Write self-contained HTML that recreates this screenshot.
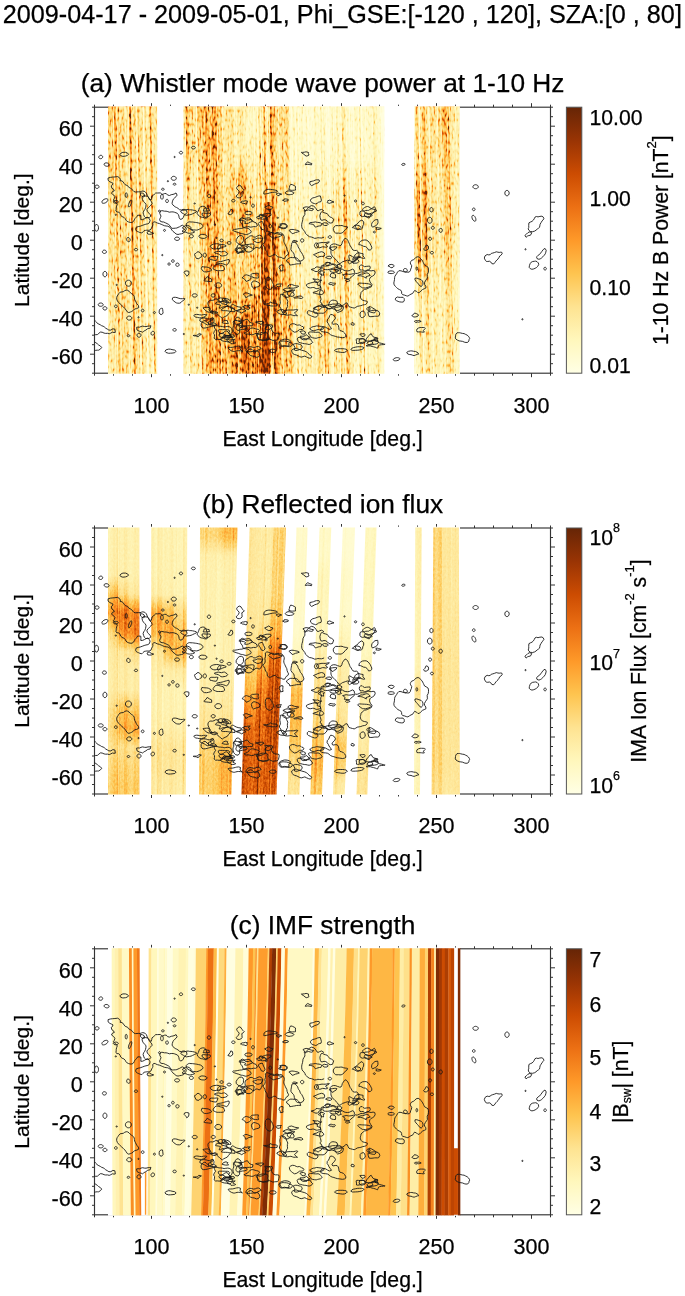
<!DOCTYPE html>
<html><head><meta charset="utf-8"><style>
html,body{margin:0;padding:0;background:#fff;}
svg{display:block;will-change:transform;}
text{font-family:"Liberation Sans", sans-serif;fill:#000;stroke:#000;stroke-width:0.25px;}
</style></head><body>
<svg width="685" height="1296" viewBox="0 0 685 1296">
<text x="2.8" y="22.6" font-size="25.2">2009-04-17 - 2009-05-01, Phi_GSE:[-120 , 120], SZA:[0 , 80]</text>
<defs><clipPath id="pbox"><rect x="94.5" y="0" width="456.0" height="266.0"/></clipPath><path id="ct" d="M108.1 70.8L110.3 70.2L112.5 69.9L114.1 69.8L116.0 69.6L117.7 69.4L119.4 70.5L120.4 72.0L120.2 73.7L121.0 73.4L122.9 74.4L124.1 76.2L125.2 77.5L127.7 78.5L128.6 80.0L130.3 80.9L131.6 81.6L132.7 83.1L133.9 84.3L135.4 84.8L137.0 84.7L138.5 84.6L140.0 84.7L141.4 84.2L142.8 83.8L144.8 84.3L146.4 85.9L147.2 88.0L148.2 89.9L149.5 91.6L151.1 92.7L151.7 91.0L152.0 89.0L153.5 88.0L154.5 86.8L155.7 85.8L157.6 85.8L160.3 85.7L161.3 86.5L162.8 87.2L164.4 86.4L166.2 86.3L167.5 87.8L169.5 88.3L171.2 87.5L173.0 87.2L175.0 86.5L176.0 85.7L177.1 87.9L176.2 89.3L174.7 90.6L173.6 91.6L172.9 92.9L172.3 94.7L172.1 96.3L172.8 97.7L174.1 98.8L175.2 99.7L176.6 100.3L178.1 101.2L179.5 102.5L181.3 102.8L183.0 102.2L184.8 102.3L186.5 103.3L187.0 105.4L185.5 107.0L184.2 108.0L183.3 110.2L182.2 111.7L180.3 112.2L179.2 110.6L178.9 108.8L178.3 107.3L177.3 106.1L174.7 105.1L173.1 104.7L171.2 104.7L169.3 105.0L167.8 104.4L166.1 104.0L164.5 104.0L161.8 103.4L160.1 104.4L159.8 106.4L161.0 108.9L160.4 110.5L159.6 112.3L160.3 114.1L162.0 114.7L163.7 114.8L165.4 115.6L167.1 116.4L168.7 117.3L170.0 118.6L170.9 120.2L172.1 121.2L173.9 121.1L175.4 121.0L176.9 120.8L178.0 120.2L179.5 119.6L180.8 118.8L182.3 118.0L183.8 118.8L185.0 120.2L186.1 120.7L186.1 122.4L184.8 124.2L183.4 125.9L181.4 126.6L179.5 126.9L178.0 127.3L176.1 126.8L174.9 125.7L172.9 124.1L171.9 122.9L171.1 121.7L169.9 120.1L167.8 119.0L166.1 118.8L164.4 118.5L162.8 117.8L161.2 117.1L159.5 116.4L157.6 115.9L156.0 115.3L155.3 114.8L154.0 114.6L152.7 115.6L152.9 117.5L152.6 118.7L151.7 120.1L151.0 122.1L149.1 123.1L146.8 123.0L145.5 123.2L144.1 123.5L142.9 124.7L141.8 125.8L139.8 125.3L138.5 124.7L137.5 124.3L136.5 123.8L135.6 122.2L136.2 120.1L138.3 119.4L140.2 119.0L142.7 118.1L144.2 117.5L145.9 117.0L147.9 116.6L149.4 115.6L150.1 113.1L149.3 111.6L147.9 110.0L146.0 110.6L144.4 111.6L142.6 112.4L140.8 112.5L140.9 110.6L140.8 108.2L137.7 108.0L136.8 109.5L135.9 110.4L134.9 111.4L134.3 112.7L133.5 114.2L132.0 115.2L130.1 115.2L128.4 114.7L127.1 114.1L126.0 113.0L125.2 111.4L123.9 110.1L122.1 109.4L120.7 108.2L120.0 106.3L118.8 104.9L117.0 104.8L115.9 103.8L116.2 102.0L116.2 100.9L116.6 98.9L117.3 97.1L116.5 95.8L114.9 94.7L113.4 92.9L114.3 91.5L114.9 89.5L113.6 87.7L111.5 86.2L112.5 84.3L114.3 83.7L113.5 82.0L111.9 81.0L111.2 78.7L112.4 77.8L113.0 76.1L111.5 75.3L109.9 74.6L108.1 73.1zM131.2 96.7L130.6 98.0L130.0 99.0L129.3 99.7L128.8 99.8L128.5 99.4L128.4 98.5L128.6 97.3L129.0 95.9L129.6 94.6L130.2 93.6L130.8 92.9L131.4 92.8L131.7 93.3L131.8 94.1L131.6 95.4zM127.2 87.9L127.2 88.8L126.9 89.6L126.6 90.1L126.2 90.3L125.8 90.1L125.5 89.6L125.3 88.8L125.2 87.9L125.3 87.0L125.5 86.3L125.8 85.7L126.2 85.6L126.6 85.7L126.9 86.3L127.2 87.0zM140.3 85.6L142.6 86.0L144.1 86.9L144.8 89.1L143.3 89.7L142.0 89.4L140.6 88.0zM144.5 88.4L145.6 88.8L147.4 89.1L148.5 90.0L149.0 91.5L149.7 92.8L151.4 94.3L152.2 96.4L150.8 98.0L149.6 99.2L148.3 100.6L146.9 102.2L147.3 104.2L148.7 105.8L150.1 107.3L150.8 108.9L149.3 110.4L147.8 110.5L145.7 110.5L144.3 109.2L143.6 107.4L143.1 105.6L143.7 103.9L144.8 102.4L145.5 100.6L145.9 98.9L146.0 97.1L144.8 95.5L143.4 94.1L142.4 92.3L142.1 90.4L143.1 88.7zM163.3 89.6L163.2 90.6L162.9 91.4L162.5 91.9L162.0 92.1L161.5 91.9L161.0 91.4L160.7 90.6L160.6 89.6L160.7 88.6L161.0 87.8L161.5 87.3L162.0 87.1L162.5 87.3L162.9 87.8L163.2 88.6zM168.4 93.8L168.3 94.4L168.0 95.0L167.5 95.3L167.0 95.5L166.5 95.3L166.1 95.0L165.8 94.4L165.7 93.8L165.8 93.1L166.1 92.6L166.5 92.2L167.0 92.1L167.5 92.2L168.0 92.6L168.3 93.1zM160.5 103.9L160.4 104.2L160.2 104.6L159.9 104.8L159.5 104.9L159.1 104.8L158.8 104.6L158.5 104.2L158.5 103.9L158.5 103.5L158.8 103.2L159.1 102.9L159.5 102.9L159.9 102.9L160.2 103.2L160.4 103.5zM165.5 123.2L165.4 123.6L165.2 123.9L164.9 124.1L164.5 124.2L164.1 124.1L163.8 123.9L163.6 123.6L163.5 123.2L163.6 122.8L163.8 122.5L164.1 122.2L164.5 122.2L164.9 122.2L165.2 122.5L165.4 122.8zM164.2 82.0L164.1 82.4L163.8 82.8L163.3 83.0L162.8 83.0L162.3 83.0L161.9 82.8L161.6 82.4L161.5 82.0L161.6 81.7L161.9 81.3L162.3 81.1L162.8 81.0L163.3 81.1L163.8 81.3L164.1 81.7zM128.5 47.1L127.5 48.2L125.5 48.9L122.9 49.2L120.7 48.5L119.9 47.1L120.9 46.0L122.9 45.1L125.5 45.1L127.6 45.9zM102.6 49.1L102.7 49.8L102.5 50.4L102.0 51.0L101.3 51.4L100.5 51.5L99.8 51.4L99.2 51.0L98.8 50.5L98.7 49.8L99.0 49.2L99.5 48.6L100.1 48.2L100.9 48.1L101.6 48.2L102.2 48.6zM109.1 57.8L108.8 58.4L108.1 58.8L107.3 59.1L106.3 59.0L105.4 58.7L104.6 58.2L104.2 57.6L104.1 56.9L104.4 56.3L105.0 55.9L105.9 55.7L106.9 55.7L107.8 56.0L108.5 56.5L109.0 57.1zM99.0 79.5L98.9 80.2L98.4 80.7L97.8 81.1L97.0 81.2L96.3 81.1L95.6 80.7L95.2 80.2L95.0 79.5L95.2 78.9L95.6 78.3L96.3 78.0L97.0 77.8L97.8 78.0L98.4 78.3L98.9 78.9zM107.8 92.1L108.0 92.9L107.6 93.7L106.9 94.6L105.8 95.4L104.7 95.9L103.5 96.1L102.6 96.0L102.0 95.5L101.9 94.7L102.2 93.8L102.9 93.0L104.0 92.2L105.2 91.7L106.3 91.5L107.2 91.6zM118.3 94.6L118.1 95.1L117.6 95.6L116.8 95.9L115.8 96.0L114.9 95.9L114.0 95.6L113.5 95.1L113.3 94.6L113.5 94.1L114.0 93.7L114.9 93.4L115.8 93.3L116.8 93.4L117.6 93.7L118.1 94.1zM98.5 120.6L98.4 121.9L97.9 123.0L97.3 123.8L96.5 124.0L95.7 123.8L95.1 123.0L94.7 121.9L94.5 120.6L94.7 119.4L95.1 118.3L95.7 117.5L96.5 117.3L97.3 117.5L97.9 118.3L98.4 119.4zM130.0 131.8L130.2 132.7L130.1 133.4L129.7 134.1L129.2 134.5L128.5 134.5L127.8 134.3L127.2 133.7L126.8 133.0L126.7 132.1L126.8 131.4L127.1 130.7L127.7 130.3L128.3 130.3L129.0 130.5L129.6 131.1zM176.3 71.1L176.1 71.9L175.5 72.6L174.7 73.0L173.7 73.1L172.8 73.0L172.0 72.6L171.4 71.9L171.2 71.1L171.4 70.4L172.0 69.7L172.8 69.3L173.7 69.1L174.7 69.3L175.5 69.7L176.1 70.4zM175.9 77.0L175.8 77.4L175.5 77.7L175.1 77.9L174.6 78.0L174.1 77.9L173.6 77.7L173.3 77.4L173.2 77.0L173.3 76.6L173.6 76.3L174.1 76.1L174.6 76.0L175.1 76.1L175.5 76.3L175.8 76.6zM167.3 74.0a0.6 0.6 0 1 0 1.2 0a0.6 0.6 0 1 0 -1.2 0zM182.6 45.4L182.5 46.0L182.1 46.4L181.6 46.7L181.0 46.8L180.3 46.7L179.8 46.4L179.4 46.0L179.3 45.4L179.4 44.9L179.8 44.5L180.3 44.2L181.0 44.1L181.6 44.2L182.1 44.5L182.5 44.9zM195.4 40.4L195.2 40.9L194.8 41.4L194.1 41.6L193.4 41.8L192.6 41.6L192.0 41.4L191.5 40.9L191.4 40.4L191.5 39.9L192.0 39.5L192.6 39.2L193.4 39.1L194.1 39.2L194.8 39.5L195.2 39.9zM174.0 49.8a0.6 0.6 0 1 0 1.2 0a0.6 0.6 0 1 0 -1.2 0zM193.4 129.0L193.2 129.7L192.8 130.2L192.1 130.6L191.4 130.7L190.6 130.6L189.9 130.2L189.5 129.7L189.4 129.0L189.5 128.4L189.9 127.9L190.6 127.5L191.4 127.4L192.1 127.5L192.8 127.9L193.2 128.4zM179.6 131.6L179.4 132.2L178.9 132.7L178.1 133.1L177.1 133.2L176.1 133.1L175.3 132.7L174.8 132.2L174.6 131.6L174.8 130.9L175.3 130.4L176.1 130.0L177.1 129.9L178.1 130.0L178.9 130.4L179.4 130.9zM207.1 129.0L206.5 130.2L204.4 131.2L201.8 131.1L199.6 130.4L198.8 129.0L199.7 127.8L201.8 127.1L204.4 127.3L206.4 128.1zM194.1 96.3a0.6 0.6 0 1 0 1.2 0a0.6 0.6 0 1 0 -1.2 0zM197.0 106.1L197.5 105.3L198.3 103.8L198.9 102.2L199.3 100.8L200.7 99.6L202.3 99.1L204.2 99.1L205.8 100.4L206.3 101.9L207.0 103.7L207.3 105.4L207.0 107.4L207.2 109.4L207.2 110.5L206.3 110.9L204.6 110.8L203.0 110.1L201.2 109.9L199.4 109.1L198.3 107.8zM210.7 88.8L210.5 89.4L210.2 89.9L209.6 90.3L209.0 90.4L208.3 90.3L207.8 89.9L207.4 89.4L207.3 88.8L207.4 88.1L207.8 87.6L208.3 87.2L209.0 87.1L209.6 87.2L210.2 87.6L210.5 88.1zM115.2 107.6a0.6 0.6 0 1 0 1.2 0a0.6 0.6 0 1 0 -1.2 0zM118.0 187.7L118.8 186.4L120.1 185.0L122.0 184.7L123.3 184.5L124.7 183.5L126.2 182.9L127.6 183.1L129.0 184.0L130.1 185.2L131.2 186.2L132.3 186.9L133.5 187.9L134.2 189.2L134.4 190.7L134.7 192.3L135.5 193.9L136.2 195.3L136.9 196.6L138.4 198.3L138.8 200.3L136.7 201.4L134.6 201.8L133.3 203.2L131.7 204.3L130.4 204.8L128.8 205.4L127.3 204.7L126.0 202.8L124.8 201.1L123.4 199.7L121.8 198.3L120.2 196.8L118.7 195.3L117.4 193.7L116.7 191.8L116.7 190.2L117.2 188.8zM131.4 176.0L131.2 177.1L130.5 178.1L129.6 178.8L128.4 179.0L127.3 178.8L126.3 178.1L125.6 177.1L125.4 176.0L125.6 174.8L126.3 173.8L127.3 173.2L128.4 173.0L129.6 173.2L130.5 173.8L131.2 174.8zM106.4 144.6L106.3 145.2L105.8 145.8L105.2 146.1L104.4 146.3L103.6 146.1L103.0 145.8L102.5 145.2L102.4 144.6L102.5 143.9L103.0 143.4L103.6 143.0L104.4 142.9L105.2 143.0L105.8 143.4L106.3 143.9zM106.9 166.9L106.8 167.9L106.3 168.8L105.7 169.4L104.9 169.6L104.1 169.4L103.5 168.8L103.1 167.9L102.9 166.9L103.1 165.9L103.5 165.0L104.1 164.4L104.9 164.2L105.7 164.4L106.3 165.0L106.8 165.9zM137.6 142.4L137.5 142.9L137.2 143.2L136.6 143.5L136.0 143.6L135.3 143.5L134.8 143.2L134.4 142.9L134.3 142.4L134.4 142.0L134.8 141.6L135.3 141.3L136.0 141.2L136.6 141.3L137.2 141.6L137.5 142.0zM117.2 199.1L117.1 199.7L116.8 200.1L116.3 200.4L115.8 200.5L115.3 200.4L114.9 200.1L114.6 199.7L114.5 199.1L114.6 198.6L114.9 198.2L115.3 197.9L115.8 197.8L116.3 197.9L116.8 198.2L117.1 198.6zM131.8 210.9L131.6 211.7L131.0 212.3L130.2 212.8L129.3 212.9L128.3 212.8L127.5 212.3L126.9 211.7L126.7 210.9L126.9 210.1L127.5 209.5L128.3 209.0L129.3 208.9L130.2 209.0L131.0 209.5L131.6 210.1zM144.0 203.3L143.9 203.9L143.6 204.3L143.2 204.6L142.7 204.7L142.2 204.6L141.7 204.3L141.4 203.9L141.3 203.3L141.4 202.8L141.7 202.4L142.2 202.1L142.7 202.0L143.2 202.1L143.6 202.4L143.9 202.8zM103.2 197.5L103.0 198.1L102.5 198.7L101.7 199.0L100.7 199.1L99.8 199.0L98.9 198.7L98.4 198.1L98.2 197.5L98.4 196.8L98.9 196.3L99.8 195.9L100.7 195.8L101.7 195.9L102.5 196.3L103.0 196.8zM106.9 201.2L106.8 201.8L106.3 202.3L105.7 202.7L104.9 202.8L104.1 202.7L103.5 202.3L103.1 201.8L102.9 201.2L103.1 200.5L103.5 200.0L104.1 199.6L104.9 199.5L105.7 199.6L106.3 200.0L106.8 200.5zM174.2 153.8L174.1 154.3L173.8 154.8L173.4 155.1L172.9 155.2L172.4 155.1L171.9 154.8L171.7 154.3L171.6 153.8L171.7 153.3L171.9 152.9L172.4 152.6L172.9 152.5L173.4 152.6L173.8 152.9L174.1 153.3zM170.2 156.8L170.1 157.3L169.9 157.7L169.5 157.9L169.0 158.0L168.6 157.9L168.2 157.7L168.0 157.3L167.9 156.8L168.0 156.4L168.2 156.0L168.6 155.8L169.0 155.7L169.5 155.8L169.9 156.0L170.1 156.4zM179.1 157.5L179.0 158.2L178.6 158.7L178.1 159.1L177.4 159.2L176.8 159.1L176.2 158.7L175.9 158.2L175.8 157.5L175.9 156.9L176.2 156.3L176.8 156.0L177.4 155.8L178.1 156.0L178.6 156.3L179.0 156.9zM194.8 146.5L195.7 146.3L197.0 145.0L198.0 144.4L199.2 145.0L200.7 146.2L201.9 147.9L201.6 149.7L200.1 150.3L198.9 151.5L196.5 151.3L195.2 149.2L194.5 147.3zM206.5 147.9L206.3 148.7L206.0 149.4L205.4 149.8L204.8 150.0L204.2 149.8L203.6 149.4L203.2 148.7L203.1 147.9L203.2 147.2L203.6 146.5L204.2 146.1L204.8 145.9L205.4 146.1L206.0 146.5L206.3 147.2zM184.1 165.6L184.5 164.2L186.6 163.7L188.7 164.1L188.8 164.2L188.9 164.2L188.9 166.2L188.4 167.8L186.7 169.0L186.3 168.0L185.1 166.6zM202.0 159.4L203.3 159.6L204.9 159.8L206.8 159.9L208.3 160.2L210.9 161.6L211.6 163.1L210.5 163.7L208.7 164.3L206.5 164.7L204.4 164.6L202.7 163.6L201.3 161.5zM197.2 188.2L197.0 188.9L196.5 189.4L195.7 189.8L194.7 189.9L193.8 189.8L192.9 189.4L192.4 188.9L192.2 188.2L192.4 187.6L192.9 187.0L193.8 186.7L194.7 186.6L195.7 186.7L196.5 187.0L197.0 187.6zM172.5 190.7L173.8 190.1L175.3 190.1L177.0 190.4L178.9 191.1L180.8 191.5L182.4 191.5L183.8 191.2L184.9 191.5L184.3 192.6L182.4 193.7L181.0 195.3L179.6 196.0L177.8 196.0L176.4 195.7L175.1 194.9L173.9 193.9L172.3 192.5zM159.6 202.3L160.2 201.7L161.5 201.1L162.5 201.2L162.7 202.4L162.9 204.2L163.1 205.7L162.3 206.9L161.2 207.4L160.0 206.9L159.2 205.6L159.2 203.7zM155.4 205.4L155.4 205.7L155.1 206.1L154.8 206.3L154.4 206.4L154.0 206.3L153.7 206.1L153.5 205.7L153.4 205.4L153.5 205.0L153.7 204.6L154.0 204.4L154.4 204.4L154.8 204.4L155.1 204.6L155.4 205.0zM136.6 220.1L138.0 219.9L139.7 220.0L141.0 219.3L142.6 218.9L144.4 219.3L146.0 219.4L148.0 218.9L149.9 218.8L150.9 218.5L150.2 221.0L148.9 221.2L147.3 221.7L145.9 222.9L144.9 223.3L143.6 224.2L142.6 225.0L141.2 224.4L139.5 224.1L137.0 222.8zM141.0 228.0L140.9 228.8L140.4 229.4L139.8 229.9L139.0 230.0L138.2 229.9L137.6 229.4L137.1 228.8L137.0 228.0L137.1 227.3L137.6 226.6L138.2 226.2L139.0 226.0L139.8 226.2L140.4 226.6L140.9 227.3zM154.2 226.8L153.7 227.5L153.1 227.8L152.4 227.9L151.7 227.8L151.3 227.3L151.0 226.6L151.0 225.9L151.3 225.2L151.8 224.6L152.4 224.2L153.1 224.1L153.8 224.3L154.2 224.7L154.5 225.4L154.5 226.1zM176.1 244.1L174.8 245.5L172.0 245.9L170.4 246.0L168.7 246.1L166.0 245.3L165.0 244.1L165.9 242.7L168.7 241.9L170.4 242.0L172.0 242.4L174.7 242.9zM176.3 222.6L176.1 223.2L175.8 223.6L175.2 223.9L174.6 224.0L173.9 223.9L173.4 223.6L173.0 223.2L172.9 222.6L173.0 222.1L173.4 221.7L173.9 221.4L174.6 221.3L175.2 221.4L175.8 221.7L176.1 222.1zM129.8 228.5L129.7 228.9L129.4 229.2L128.9 229.5L128.4 229.5L127.9 229.5L127.5 229.2L127.2 228.9L127.1 228.5L127.2 228.1L127.5 227.8L127.9 227.6L128.4 227.5L128.9 227.6L129.4 227.8L129.7 228.1zM161.7 147.9a0.6 0.6 0 1 0 1.2 0a0.6 0.6 0 1 0 -1.2 0zM116.1 177.7a0.6 0.6 0 1 0 1.2 0a0.6 0.6 0 1 0 -1.2 0zM137.9 210.1a0.6 0.6 0 1 0 1.2 0a0.6 0.6 0 1 0 -1.2 0zM188.2 197.5a0.6 0.6 0 1 0 1.2 0a0.6 0.6 0 1 0 -1.2 0zM196.6 200.5a0.6 0.6 0 1 0 1.2 0a0.6 0.6 0 1 0 -1.2 0zM183.2 226.8a0.6 0.6 0 1 0 1.2 0a0.6 0.6 0 1 0 -1.2 0zM88.9 213.3L90.3 212.2L92.0 213.0L93.9 213.7L95.4 213.8L96.5 214.9L97.5 216.3L98.9 216.9L100.3 217.6L101.6 218.5L103.1 219.0L104.3 219.7L105.7 221.0L107.3 221.9L108.9 222.9L110.8 222.9L112.9 221.6L114.9 222.0L115.3 225.2L114.0 225.3L112.4 225.0L110.8 225.9L109.2 226.6L107.5 226.1L105.7 226.2L104.1 225.9L102.1 225.0L100.3 224.9L98.9 226.1L97.4 227.4L95.7 227.5L93.9 227.4L92.0 227.9L90.4 228.1L89.0 227.6L87.8 227.0L87.7 225.6L88.9 224.0L89.3 222.3L88.2 220.6L88.1 218.8L89.1 217.1L89.2 215.7L88.9 214.4zM89.5 235.7L90.3 235.0L92.2 234.3L94.2 234.4L95.8 235.5L97.4 236.6L98.5 237.7L100.4 238.8L101.7 240.3L100.4 241.9L98.6 243.0L97.4 243.0L95.7 243.1L94.0 244.1L92.2 244.8L90.3 244.6L89.1 244.0L88.3 243.1L88.3 241.5L88.6 239.7L88.5 237.9L88.9 236.4zM236.7 80.4L237.5 79.2L239.2 78.0L241.0 78.8L241.8 80.5L243.1 81.7L244.3 82.9L243.2 84.0L241.8 84.8L242.0 86.7L242.1 88.9L240.8 90.2L239.3 90.7L237.4 90.5L236.2 88.9L237.3 87.6L238.5 86.3L239.2 84.5L238.2 82.9L236.8 81.6zM235.0 93.5L234.9 94.0L234.5 94.4L234.0 94.7L233.3 94.8L232.7 94.7L232.2 94.4L231.8 94.0L231.7 93.5L231.8 92.9L232.2 92.5L232.7 92.2L233.3 92.1L234.0 92.2L234.5 92.5L234.9 92.9zM250.0 90.1a0.6 0.6 0 1 0 1.2 0a0.6 0.6 0 1 0 -1.2 0zM254.3 98.5L254.2 99.1L253.9 99.7L253.5 100.0L253.0 100.2L252.5 100.0L252.0 99.7L251.7 99.1L251.6 98.5L251.7 97.8L252.0 97.3L252.5 96.9L253.0 96.8L253.5 96.9L253.9 97.3L254.2 97.8zM227.9 106.7L229.1 105.2L230.3 103.5L230.8 102.1L232.4 102.7L232.8 104.9L232.4 106.3L230.4 107.5zM252.1 105.9L251.9 106.5L251.1 107.1L249.9 107.4L248.4 107.6L247.0 107.4L245.8 107.1L245.0 106.5L244.8 105.9L245.0 105.2L245.8 104.7L247.0 104.3L248.4 104.2L249.9 104.3L251.1 104.7L251.9 105.2zM263.1 108.9L262.9 109.5L262.5 110.1L261.8 110.4L261.0 110.6L260.3 110.4L259.6 110.1L259.2 109.5L259.0 108.9L259.2 108.3L259.6 107.7L260.3 107.3L261.0 107.2L261.8 107.3L262.5 107.7L262.9 108.3zM267.1 111.9L267.0 112.3L266.8 112.6L266.5 112.9L266.1 112.9L265.7 112.9L265.4 112.6L265.1 112.3L265.1 111.9L265.1 111.5L265.4 111.2L265.7 111.0L266.1 110.9L266.5 111.0L266.8 111.2L267.0 111.5zM277.2 110.6a0.6 0.6 0 1 0 1.2 0a0.6 0.6 0 1 0 -1.2 0zM240.0 111.8L240.8 111.0L242.6 110.3L243.9 111.1L245.1 112.4L246.9 112.8L248.5 112.7L249.7 112.1L251.3 112.3L252.3 113.7L254.1 114.9L256.0 115.6L257.5 118.3L255.7 119.5L253.6 119.4L251.8 119.8L250.0 120.0L249.0 119.4L247.4 119.5L245.9 119.7L244.1 120.3L243.6 120.5L243.3 120.3L242.7 118.7L242.2 117.1L241.0 115.9L240.5 114.6L240.2 112.8zM259.6 114.9L261.0 114.7L262.2 114.2L262.8 115.4L263.5 117.3L264.5 119.1L265.1 121.0L263.4 122.6L261.2 121.9L260.5 119.9L259.2 118.2L258.3 116.3zM271.6 119.0L271.5 119.6L271.2 120.2L270.8 120.5L270.3 120.6L269.8 120.5L269.3 120.2L269.0 119.6L268.9 119.0L269.0 118.3L269.3 117.8L269.8 117.4L270.3 117.3L270.8 117.4L271.2 117.8L271.5 118.3zM287.4 119.0L287.1 119.9L286.3 120.8L285.1 121.3L283.7 121.5L282.3 121.3L281.1 120.8L280.3 119.9L280.0 119.0L280.3 118.0L281.1 117.2L282.3 116.6L283.7 116.5L285.1 116.6L286.3 117.2L287.1 118.0zM214.3 117.6a0.6 0.6 0 1 0 1.2 0a0.6 0.6 0 1 0 -1.2 0zM324.0 103.9L322.9 102.9L321.5 102.2L319.7 102.8L318.1 103.6L317.0 103.1L316.1 101.5L315.1 100.1L313.4 98.8L311.4 98.4L309.9 99.2L308.5 100.3L307.4 101.6L306.3 102.6L305.0 103.7L304.8 105.6L304.9 107.2L303.9 108.8L303.0 110.4L302.8 112.2L302.5 113.9L302.0 115.6L301.7 117.3L301.7 119.0L302.0 120.7L302.8 122.2L304.1 123.3L304.9 124.6L305.5 126.3L306.7 127.4L308.0 128.5L309.4 129.5L311.3 129.8L313.0 130.4L314.7 131.2L316.5 130.9L317.9 130.5L319.7 130.7L321.5 130.8L323.0 130.4L324.1 129.9M238.0 129.6L239.8 128.4L241.7 128.4L243.1 129.3L243.6 130.9L243.4 132.0L243.5 133.4L243.0 134.7L241.5 136.1L240.1 137.1L238.1 136.5L236.2 134.5L236.2 132.5L237.2 130.9zM247.0 130.9L248.2 130.2L249.4 129.1L251.0 128.5L252.5 128.8L253.7 129.8L255.2 130.0L256.6 129.2L258.1 128.5L259.4 128.0L261.3 128.6L262.6 130.4L262.5 132.2L261.9 134.1L262.1 135.6L262.1 137.2L261.3 138.8L260.5 140.4L259.1 141.1L257.2 140.2L255.9 140.2L254.4 141.5L252.5 141.6L251.1 140.3L249.6 139.7L248.1 139.0L246.8 138.3L245.3 136.8L245.1 134.9L245.1 133.4L245.5 131.7zM265.3 125.0L266.9 123.8L268.8 124.4L270.3 125.0L271.6 125.4L272.8 126.5L274.5 126.8L276.1 125.4L278.0 125.4L279.2 126.0L280.8 125.7L282.4 126.4L283.5 127.9L284.2 129.4L284.2 131.0L283.8 132.6L283.8 134.1L284.2 135.4L284.8 136.6L285.4 137.9L286.0 139.2L286.8 140.7L287.1 142.6L287.7 144.2L288.6 145.9L287.8 147.5L286.2 148.5L285.4 149.8L284.7 151.2L282.9 151.2L281.3 150.2L279.5 150.0L277.7 149.6L276.4 148.5L275.3 147.4L273.7 147.5L272.3 148.3L271.1 149.0L269.1 149.3L267.4 148.0L267.2 145.6L266.8 144.3L265.7 143.2L265.2 141.9L264.9 140.5L263.9 138.8L263.0 137.4L263.6 136.1L265.0 134.8L265.2 132.6L264.8 130.7L265.4 128.9L265.5 127.0zM292.3 135.2L293.3 134.8L294.9 134.9L296.1 136.0L296.7 136.9L297.7 138.0L298.1 139.5L298.7 140.8L299.7 142.0L300.0 143.3L300.6 144.6L301.7 145.7L302.6 147.4L303.4 149.1L304.0 151.0L302.5 153.2L300.3 153.9L299.3 153.9L297.6 153.7L296.2 152.7L295.5 151.5L294.8 150.1L294.3 148.6L294.1 147.0L293.4 145.6L292.0 144.2L290.9 142.5L291.0 140.8L291.3 139.1L291.6 137.4L291.8 136.0zM318.5 138.3L318.3 139.2L317.9 140.1L317.2 140.6L316.4 140.8L315.7 140.6L315.0 140.1L314.6 139.2L314.4 138.3L314.6 137.3L315.0 136.5L315.7 135.9L316.4 135.8L317.2 135.9L317.9 136.5L318.3 137.3zM303.8 133.2L303.7 133.9L303.4 134.4L302.8 134.8L302.2 134.9L301.5 134.8L301.0 134.4L300.6 133.9L300.5 133.2L300.6 132.6L301.0 132.1L301.5 131.7L302.2 131.6L302.8 131.7L303.4 132.1L303.7 132.6zM220.2 140.6L219.7 141.4L219.0 142.0L218.4 142.2L217.8 142.1L217.5 141.7L217.4 141.0L217.5 140.2L217.9 139.3L218.5 138.5L219.1 137.9L219.8 137.7L220.3 137.8L220.7 138.2L220.8 138.9L220.6 139.7zM223.3 133.2L223.1 133.8L222.8 134.2L222.2 134.5L221.6 134.6L220.9 134.5L220.4 134.2L220.0 133.8L219.9 133.2L220.0 132.7L220.4 132.3L220.9 132.0L221.6 131.9L222.2 132.0L222.8 132.3L223.1 132.7zM231.2 135.8L231.0 136.3L230.6 136.7L229.9 137.0L229.1 137.1L228.4 137.0L227.7 136.7L227.3 136.3L227.1 135.8L227.3 135.2L227.7 134.8L228.4 134.5L229.1 134.4L229.9 134.5L230.6 134.8L231.0 135.2zM216.0 130.7a0.6 0.6 0 1 0 1.2 0a0.6 0.6 0 1 0 -1.2 0zM209.3 193.5L210.8 193.0L212.4 193.2L214.0 192.7L215.8 191.7L217.7 192.0L219.0 193.3L220.0 194.5L221.1 195.7L222.4 196.6L224.2 196.9L226.0 197.4L227.4 198.5L229.3 199.9L231.2 200.7L231.6 203.1L229.9 205.0L228.5 206.6L227.3 208.3L225.8 209.0L223.7 210.0L222.4 211.0L220.9 210.2L219.5 208.7L218.2 207.9L217.2 206.5L216.1 205.3L214.0 204.9L212.2 204.7L210.2 204.4L209.0 202.5L209.4 201.2L209.1 199.7L208.2 197.9L207.9 196.0L208.4 194.4zM214.0 219.3L215.2 218.5L217.1 218.5L219.0 219.1L220.7 219.1L222.5 219.4L224.1 219.8L225.8 219.5L227.6 219.3L229.1 219.5L230.6 220.1L231.6 221.4L232.1 222.7L232.3 224.0L231.7 225.5L230.7 226.7L229.5 228.0L227.7 229.0L226.0 229.0L224.1 229.8L222.6 231.2L221.0 232.2L219.0 232.3L217.4 232.1L215.5 232.2L214.1 231.0L214.5 229.3L214.5 227.6L213.6 226.2L214.4 224.1L215.6 222.6L214.7 220.8zM244.2 225.6L244.1 225.9L245.6 225.2L247.7 224.2L249.2 222.5L250.5 221.2L252.1 220.8L253.8 221.0L255.1 221.5L256.7 221.9L258.5 222.3L259.6 223.4L258.8 224.6L257.5 225.8L257.3 227.6L257.6 229.5L257.8 231.6L259.2 233.0L260.4 232.5L261.6 232.9L263.2 233.6L264.7 233.0L266.2 232.5L267.7 232.1L269.4 231.8L271.1 232.5L272.8 233.3L274.5 233.0L275.9 232.9L277.3 232.9L278.4 231.6L278.8 229.9L279.2 228.1L279.0 226.5L277.4 226.0L275.7 226.1L274.1 225.6L272.6 224.5L271.7 222.7L271.4 220.4L270.5 218.8L269.4 218.1L267.6 218.2L265.8 219.9L265.1 221.3L265.5 223.3L265.4 225.3L263.7 226.2L262.5 226.7L261.2 227.3L259.6 227.4L257.9 226.9L256.0 226.1L254.7 226.6L253.2 227.4L251.5 227.6L249.7 227.1L248.0 226.8L246.4 227.0L245.0 226.7L244.1 225.8zM291.7 243.0L292.8 242.1L294.6 241.4L296.2 241.1L297.9 241.8L299.8 242.4L301.3 242.9L303.0 243.4L304.8 243.9L306.3 244.6L307.7 245.6L308.9 246.9L309.8 248.0L310.7 248.0L311.9 249.7L310.1 251.1L308.4 250.6L306.6 249.8L304.8 248.9L303.2 249.4L301.2 249.9L299.5 249.4L298.0 248.5L296.3 247.8L294.5 247.3L293.2 246.7L292.3 245.5L291.7 244.0zM247.3 243.6L248.4 242.7L250.0 241.8L251.9 242.1L253.2 243.4L254.7 244.1L256.5 243.8L258.1 244.0L259.5 246.1L259.8 248.0L258.5 249.7L256.4 250.1L254.3 249.2L252.4 248.9L250.5 248.3L249.2 247.1L247.7 245.4zM276.1 243.6L275.9 244.3L275.2 244.8L274.1 245.2L272.8 245.3L271.5 245.2L270.4 244.8L269.7 244.3L269.4 243.6L269.7 243.0L270.4 242.4L271.5 242.1L272.8 242.0L274.1 242.1L275.2 242.4L275.9 243.0zM221.6 178.2L221.3 179.1L220.6 179.9L219.5 180.5L218.2 180.7L216.9 180.5L215.9 179.9L215.1 179.1L214.9 178.2L215.1 177.2L215.9 176.4L216.9 175.8L218.2 175.6L219.5 175.8L220.6 176.4L221.3 177.2zM215.2 188.2L215.1 188.9L214.6 189.4L214.0 189.8L213.2 189.9L212.4 189.8L211.8 189.4L211.3 188.9L211.2 188.2L211.3 187.6L211.8 187.0L212.4 186.7L213.2 186.6L214.0 186.7L214.6 187.0L215.1 187.6zM214.0 213.4L213.9 214.4L213.5 215.2L213.0 215.7L212.4 215.9L211.7 215.7L211.2 215.2L210.8 214.4L210.7 213.4L210.8 212.5L211.2 211.6L211.7 211.1L212.4 210.9L213.0 211.1L213.5 211.6L213.9 212.5zM280.5 158.3L280.9 157.7L283.0 157.9L282.9 159.6L282.7 161.5L283.1 163.4L280.3 163.9L280.3 162.5L279.1 160.6L279.6 158.5zM265.5 171.9L266.9 170.2L269.4 170.2L270.7 171.8L270.7 172.4L271.8 173.1L272.3 174.5L272.9 175.7L273.5 177.4L273.2 179.2L272.6 180.5L271.1 181.8L269.5 182.3L267.5 181.6L265.9 179.4L265.7 177.6L265.3 175.7L265.3 173.7zM313.0 185.7L313.5 185.0L315.0 184.7L316.8 184.2L318.4 183.2L319.8 182.4L321.9 183.1L323.3 184.5L323.7 185.4L323.4 186.3L321.8 187.3L319.8 187.2L318.0 186.9L315.9 186.3L314.1 185.8zM309.8 221.0L310.6 220.9L311.7 220.0L313.2 219.4L314.9 219.2L316.4 218.7L318.1 218.8L320.0 219.1L321.8 219.2L323.2 219.6L324.1 220.1L323.7 221.4L321.7 222.3L319.4 222.5L318.1 222.3L316.4 222.8L314.6 223.4L313.1 223.6L310.5 222.5zM235.1 213.2L235.5 211.5L236.9 210.0L238.7 210.2L239.9 211.1L240.9 212.4L241.3 214.2L241.8 215.9L242.3 217.8L241.3 219.6L239.9 221.2L239.7 222.9L239.6 225.4L238.1 227.2L235.8 226.8L234.7 225.8L233.7 224.6L233.2 222.8L232.9 221.0L233.2 219.7L233.8 218.2L233.6 216.6L233.3 215.0L234.2 213.7zM280.1 187.9L280.8 187.0L283.0 187.3L285.2 188.3L286.1 189.6L286.4 191.3L287.2 192.8L287.8 194.3L287.4 195.8L287.4 197.5L287.6 199.4L286.7 201.0L286.1 202.5L285.5 204.4L284.0 205.7L282.9 205.6L282.6 205.0L281.7 204.2L281.2 202.7L280.7 201.0L279.5 199.3L279.5 197.9L280.3 196.2L280.3 194.4L279.9 192.7L279.9 191.0L280.3 189.5L280.5 188.4zM289.8 217.9L290.7 217.2L292.4 216.5L294.4 216.7L296.2 217.6L297.6 218.0L299.3 217.7L300.8 218.3L301.8 219.3L303.0 219.3L303.9 220.8L302.6 222.3L300.5 222.3L299.5 222.4L298.0 223.6L296.2 224.7L294.5 225.0L292.8 224.0L291.5 222.9L290.3 221.9L289.6 220.4L289.4 218.8zM405.1 56.9L405.0 57.3L404.7 57.7L404.2 58.0L403.6 58.2L402.9 58.2L402.4 58.1L401.9 57.8L401.7 57.5L401.8 57.1L402.1 56.7L402.6 56.4L403.2 56.2L403.9 56.2L404.4 56.3L404.9 56.5zM343.9 88.4a0.6 0.6 0 1 0 1.2 0a0.6 0.6 0 1 0 -1.2 0zM356.7 93.8L356.6 94.2L356.4 94.5L356.0 94.7L355.6 94.8L355.1 94.7L354.7 94.5L354.5 94.2L354.4 93.8L354.5 93.4L354.7 93.1L355.1 92.9L355.6 92.8L356.0 92.9L356.4 93.1L356.6 93.4zM364.3 96.3L364.2 96.8L363.9 97.3L363.5 97.5L362.9 97.7L362.4 97.5L362.0 97.3L361.7 96.8L361.6 96.3L361.7 95.8L362.0 95.4L362.4 95.1L362.9 95.0L363.5 95.1L363.9 95.4L364.2 95.8zM360.0 104.7L361.1 103.8L362.9 103.8L364.3 103.8L365.7 103.3L367.3 103.2L368.3 103.3L369.4 102.6L371.0 101.7L372.1 101.0L374.4 99.5L375.4 101.0L374.9 103.1L374.2 104.5L373.2 105.9L372.2 106.7L370.9 108.0L369.4 109.3L367.6 109.5L366.0 109.1L364.2 109.0L362.5 109.4L360.8 108.8L359.9 107.3zM354.7 118.2L355.4 117.8L356.9 117.0L358.0 115.8L359.6 114.0L361.9 112.8L363.7 114.8L363.6 117.3L362.8 118.7L362.5 120.7L361.3 122.1L359.2 122.0L357.6 121.9L356.3 121.2L355.8 120.2zM372.0 115.7L373.3 114.1L375.0 112.7L377.7 112.3L377.9 113.8L378.0 115.5L377.3 117.3L375.7 118.5L374.1 119.3L372.6 120.0L371.7 118.8L371.6 117.1zM375.4 124.8L375.3 125.2L375.1 125.4L374.7 125.6L374.4 125.7L374.0 125.6L373.6 125.4L373.4 125.2L373.4 124.8L373.4 124.5L373.6 124.3L374.0 124.1L374.4 124.0L374.7 124.1L375.1 124.3L375.3 124.5zM320.7 105.5L322.1 104.4L324.0 105.5L325.7 106.0L327.3 106.5L328.1 107.6L329.1 109.0L329.8 109.7L331.5 110.3L333.7 112.0L332.5 115.5L330.2 115.9L328.6 115.2L327.4 113.9L325.8 112.8L324.0 112.5L322.1 113.1L320.9 112.8L320.5 111.9L320.1 110.3L319.9 108.4L320.4 106.7zM331.6 129.9L331.4 130.4L331.1 130.8L330.5 131.1L329.9 131.2L329.2 131.1L328.7 130.8L328.3 130.4L328.2 129.9L328.3 129.4L328.7 128.9L329.2 128.6L329.9 128.5L330.5 128.6L331.1 128.9L331.4 129.4zM359.4 135.2L360.7 134.1L362.3 133.1L364.2 132.8L366.2 132.8L368.0 133.8L369.1 135.1L370.2 136.6L371.0 138.3L371.8 140.0L371.7 141.6L370.3 142.7L368.5 142.9L368.0 141.8L367.0 140.4L365.5 139.4L363.5 139.1L362.0 138.3L360.7 137.7L358.8 137.5zM330.2 138.8L331.6 137.3L333.7 136.7L335.8 136.9L337.4 137.6L339.1 138.1L339.7 138.4L341.0 138.2L341.9 136.6L342.3 134.8L343.3 133.3L344.4 131.8L345.0 131.0L346.3 131.4L347.8 133.1L348.4 134.4L349.0 135.8L349.6 137.3L350.2 138.7L351.2 140.0L351.9 141.4L352.9 142.8L354.5 143.3L356.6 143.2L358.0 144.3L358.7 146.2L359.0 147.5L358.8 149.2L357.7 150.9L356.7 152.2L355.6 153.5L354.4 154.8L352.6 154.8L350.9 153.9L349.2 153.2L347.4 153.0L345.7 153.5L344.1 154.1L342.5 154.6L341.3 155.5L339.9 156.5L338.3 155.7L337.3 153.9L336.2 152.8L334.9 151.6L333.7 150.4L332.3 148.9L331.4 147.3L331.0 146.2L330.9 144.7L331.0 143.3L330.8 141.9L330.3 140.4zM433.1 102.5L433.0 103.4L432.6 104.1L432.1 104.5L431.4 104.7L430.8 104.5L430.2 104.1L429.9 103.4L429.8 102.5L429.9 101.7L430.2 101.0L430.8 100.5L431.4 100.3L432.1 100.5L432.6 101.0L433.0 101.7zM432.1 113.1L431.9 114.3L431.4 115.2L430.7 115.9L429.8 116.1L428.9 115.9L428.1 115.2L427.6 114.3L427.4 113.1L427.6 111.9L428.1 111.0L428.9 110.3L429.8 110.1L430.7 110.3L431.4 111.0L431.9 111.9zM434.3 120.6L434.2 121.2L433.8 121.7L433.4 122.0L432.8 122.2L432.2 122.0L431.7 121.7L431.4 121.2L431.3 120.6L431.4 120.1L431.7 119.6L432.2 119.3L432.8 119.1L433.4 119.3L433.8 119.6L434.2 120.1zM431.6 131.6L431.5 132.1L431.2 132.6L430.7 133.0L430.1 133.1L429.5 133.0L429.0 132.6L428.7 132.1L428.6 131.6L428.7 131.0L429.0 130.5L429.5 130.2L430.1 130.1L430.7 130.2L431.2 130.5L431.5 131.0zM423.6 141.7L424.9 140.4L425.6 138.9L425.8 138.1L426.8 137.9L428.3 138.9L428.6 140.9L428.1 142.2L427.3 142.4L426.5 143.0L424.7 143.2zM433.5 145.5L433.3 146.0L433.0 146.4L432.5 146.7L431.9 146.8L431.4 146.7L430.9 146.4L430.5 146.0L430.4 145.5L430.5 145.0L430.9 144.5L431.4 144.3L431.9 144.2L432.5 144.3L433.0 144.5L433.3 145.0zM394.9 169.1L395.7 167.8L396.6 166.6L397.5 164.9L398.9 163.5L401.0 163.6L402.9 164.3L404.5 164.7L406.6 164.8L407.8 165.0L409.2 164.9L410.3 163.6L410.7 161.9L411.4 160.5L411.7 158.5L410.6 156.8L410.3 155.6L410.7 154.5L411.6 153.2L413.3 152.6L414.7 151.6L416.1 150.0L418.1 149.5L419.6 150.2L420.7 151.6L421.9 152.7L422.7 154.1L423.4 155.5L424.0 156.8L424.6 158.0L426.3 158.9L428.1 160.1L428.5 161.9L428.5 163.7L428.2 165.6L427.2 167.3L427.3 169.1L427.4 170.8L426.6 171.9L425.4 173.7L424.4 175.6L424.6 177.3L425.8 179.0L425.9 180.8L424.2 181.6L422.4 182.4L421.1 183.6L419.6 185.2L418.0 185.6L416.6 184.2L414.6 183.3L413.5 184.8L412.6 186.3L411.0 186.9L409.5 187.8L407.9 188.9L406.3 188.6L404.8 188.0L402.8 187.5L401.7 186.5L401.6 184.6L400.9 183.1L399.5 182.4L397.8 181.5L396.5 180.3L395.5 179.3L394.2 177.7L393.8 175.8L394.2 174.0L394.5 172.2L394.6 170.4zM407.2 164.1L406.7 164.5L406.1 164.8L405.3 164.8L404.6 164.5L404.0 164.0L403.6 163.4L403.5 162.7L403.7 162.0L404.1 161.6L404.8 161.3L405.5 161.3L406.3 161.6L406.9 162.1L407.2 162.7L407.3 163.4zM415.0 171.0L416.8 170.9L418.9 171.7L421.1 172.4L422.5 173.8L423.0 175.8L422.8 177.3L422.0 178.6L421.3 179.2L420.0 178.8L418.5 176.9L417.5 175.7L416.0 174.2L415.0 172.6zM417.7 161.4L417.6 162.0L417.4 162.6L417.2 162.9L416.8 163.1L416.5 162.9L416.2 162.6L416.1 162.0L416.0 161.4L416.1 160.7L416.2 160.2L416.5 159.8L416.8 159.7L417.2 159.8L417.4 160.2L417.6 160.7zM388.0 158.9L389.0 157.7L391.2 157.2L393.1 157.6L394.3 158.6L393.5 159.5L392.0 160.6L390.4 160.2L389.0 159.0zM394.5 165.1L394.2 165.6L393.5 166.0L392.4 166.3L391.1 166.4L389.9 166.3L388.8 166.0L388.0 165.6L387.8 165.1L388.0 164.6L388.8 164.1L389.9 163.8L391.1 163.7L392.4 163.8L393.5 164.1L394.2 164.6zM324.0 158.7L325.7 158.9L327.4 158.7L329.1 158.2L330.6 157.8L332.2 157.3L333.9 157.4L335.2 158.5L336.2 159.8L337.5 160.4L339.3 161.0L340.9 161.5L342.5 162.1L344.0 163.1L345.8 163.6L347.5 163.7L349.2 163.5L350.8 162.7L352.7 161.9L354.1 162.9L354.5 165.1L355.6 166.3L357.5 166.2L359.2 165.5L360.9 164.7L362.7 164.8L364.4 164.9L366.0 163.4L367.8 162.6L369.2 163.4L371.1 163.7L373.1 163.3L374.7 163.7L375.2 165.5L374.3 167.6L372.6 168.9L371.1 169.6L369.9 170.9L369.5 172.3L369.7 173.9L370.7 175.7L372.0 177.4L371.4 179.5L369.5 180.4L367.9 181.2L366.2 181.9L364.4 182.2L363.2 183.2L362.2 184.0L361.1 185.2L360.8 186.6L360.6 187.4L360.3 188.4L360.4 190.1L361.2 191.7L362.3 192.9L364.3 193.5L366.3 193.9L367.3 194.3L367.2 195.6L365.8 197.2L364.5 197.5L362.7 197.8L360.9 198.5L359.2 198.8L357.2 199.2L355.7 200.2L354.2 200.9L352.5 200.5L350.7 200.0L349.0 199.5L348.1 197.9L347.4 196.1L345.8 195.6L344.7 197.0L342.8 198.2L341.1 198.2L339.3 198.2L337.4 198.1L335.6 198.7L333.9 199.3L332.2 199.9L330.7 201.1L329.0 201.9L327.1 201.0L325.8 199.3L324.2 198.5L322.6 198.8L322.4 198.7L321.5 195.6L320.2 194.9L320.2 193.9L321.0 192.7L320.9 191.3L320.5 189.9L320.0 188.4L319.7 186.8L319.6 185.2L320.2 183.4L321.0 181.7L320.6 179.9L320.0 178.1L320.1 176.3L320.5 174.6L320.8 172.9L320.7 171.2L320.8 169.6L321.5 168.1L321.2 166.7L320.2 165.3L320.3 164.1L321.0 163.1L320.9 162.3L321.3 158.7L322.5 158.2zM360.1 205.8L361.5 204.2L363.6 203.8L364.7 205.2L365.2 206.9L365.2 208.4L363.8 209.7L362.5 210.4L361.3 210.3L360.3 209.1L360.1 207.5zM370.2 201.7L370.0 202.2L369.7 202.7L369.1 203.1L368.5 203.2L367.8 203.1L367.3 202.7L366.9 202.2L366.8 201.7L366.9 201.1L367.3 200.6L367.8 200.3L368.5 200.2L369.1 200.3L369.7 200.6L370.0 201.1zM330.7 207.2L332.4 207.5L334.3 208.6L335.5 210.8L334.4 212.8L332.7 214.3L331.9 216.1L333.0 217.1L335.2 216.7L337.1 216.8L338.3 218.1L338.8 220.2L339.0 222.2L340.0 223.4L341.8 223.9L343.4 224.6L344.5 225.7L345.7 227.6L345.8 229.3L344.4 230.2L342.4 230.5L341.0 230.3L339.2 230.0L337.3 229.8L335.6 229.3L333.9 228.7L332.2 228.3L330.5 227.5L329.0 226.2L327.7 225.3L325.7 224.9L323.9 224.8L322.0 224.4L320.6 223.5L321.0 221.3L322.1 220.5L322.1 220.2L323.9 219.5L325.7 220.1L327.3 221.1L329.4 222.2L331.5 221.5L330.3 219.7L329.0 218.0L328.3 216.3L327.1 214.7L327.3 212.6L328.4 211.5L329.2 210.0L329.8 208.3zM347.4 243.1L346.1 244.4L344.6 245.1L342.8 245.3L340.8 245.1L338.8 244.8L337.0 244.6L335.6 244.2L334.5 243.1L335.7 242.3L337.1 241.8L338.8 241.5L340.8 241.5L342.8 241.5L344.5 241.7L346.0 242.0zM364.1 240.5L363.1 241.6L361.7 242.3L359.8 242.7L357.8 243.0L355.7 243.1L353.9 243.2L352.3 243.2L350.8 242.4L351.9 241.0L353.4 240.4L355.3 240.0L357.3 239.6L359.4 239.5L361.3 239.5L362.8 239.8zM378.4 235.1L377.5 236.3L376.2 236.8L374.6 237.1L372.8 237.4L371.0 237.6L369.4 237.7L368.0 237.3L366.9 236.1L367.9 234.9L369.1 234.3L370.7 234.0L372.5 233.5L374.3 233.4L376.0 233.8L377.2 234.1zM406.7 245.2L408.5 244.1L410.6 243.7L411.9 243.7L413.7 244.1L415.6 244.3L417.9 245.5L418.6 247.0L417.5 247.1L415.4 247.9L414.1 248.4L412.5 248.0L411.0 247.4L409.8 247.4L407.7 246.8zM399.8 251.4L399.7 252.1L399.0 252.7L398.0 253.2L396.8 253.5L395.5 253.6L394.4 253.5L393.6 253.1L393.2 252.6L393.4 252.0L394.0 251.4L395.0 250.9L396.3 250.5L397.5 250.4L398.7 250.6L399.5 250.9zM478.3 79.5L478.1 80.3L477.5 80.9L476.6 81.4L475.6 81.5L474.6 81.4L473.7 80.9L473.1 80.3L472.9 79.5L473.1 78.8L473.7 78.1L474.6 77.7L475.6 77.5L476.6 77.7L477.5 78.1L478.1 78.8zM509.2 85.9L509.0 86.9L508.5 87.8L507.8 88.4L507.0 88.6L506.2 88.4L505.4 87.8L505.0 86.9L504.8 85.9L505.0 84.9L505.4 84.0L506.2 83.4L507.0 83.2L507.8 83.4L508.5 84.0L509.0 84.9zM475.1 102.2L475.0 102.7L474.7 103.1L474.3 103.4L473.7 103.5L473.2 103.4L472.8 103.1L472.5 102.7L472.4 102.2L472.5 101.7L472.8 101.2L473.2 100.9L473.7 100.8L474.3 100.9L474.7 101.2L475.0 101.7zM475.4 110.4L475.8 111.5L475.9 112.6L475.7 113.5L475.3 114.0L474.6 114.0L473.8 113.6L473.0 112.8L472.4 111.8L472.0 110.6L471.9 109.5L472.1 108.7L472.6 108.2L473.3 108.1L474.0 108.5L474.8 109.3zM528.9 115.7L530.3 114.9L532.0 114.2L533.4 112.9L534.2 111.6L535.0 109.9L536.4 109.3L538.0 109.7L539.9 109.2L541.9 109.0L543.3 109.9L543.9 111.5L543.0 112.8L542.1 113.7L541.1 115.4L540.1 117.0L539.8 118.7L539.5 120.2L538.4 121.1L537.2 121.9L536.0 123.0L534.7 123.9L532.5 124.5L530.4 124.3L528.6 122.8L528.3 121.0L528.8 120.2L528.7 118.4zM524.9 128.2L526.6 126.8L528.0 125.4L529.9 124.6L531.8 125.6L530.4 128.1L528.9 128.3L527.4 128.9L526.1 130.1zM524.9 142.1a0.6 0.6 0 1 0 1.2 0a0.6 0.6 0 1 0 -1.2 0zM484.3 150.9L485.0 148.7L487.1 147.3L488.8 147.7L490.3 147.4L491.3 146.2L492.7 145.9L494.6 145.3L496.3 144.6L497.9 145.0L499.2 145.2L500.7 145.0L501.8 145.1L502.2 146.5L500.8 148.2L499.7 148.8L499.0 150.3L498.1 151.7L497.0 152.7L495.9 153.9L495.0 155.2L493.8 156.7L491.9 156.5L490.8 154.8L489.4 154.0L487.8 154.3L486.2 154.1L485.4 153.2zM536.6 150.0L537.0 149.2L538.1 148.1L539.6 147.2L540.6 145.9L541.9 144.2L543.2 142.4L545.0 141.2L546.2 143.1L545.8 145.0L545.3 146.6L544.2 148.1L542.8 149.6L541.7 150.7L540.3 151.6L538.9 152.1L537.0 151.4zM529.2 160.2L529.4 158.5L530.1 156.5L531.2 155.0L532.7 154.3L534.3 154.1L535.4 153.9L537.0 154.4L538.4 155.8L538.7 157.5L537.7 159.1L536.6 160.3L535.1 161.1L533.8 161.7L531.9 162.1L530.2 161.4zM546.4 161.4L546.3 162.0L546.0 162.4L545.6 162.7L545.1 162.8L544.6 162.7L544.1 162.4L543.9 162.0L543.8 161.4L543.9 160.9L544.1 160.5L544.6 160.2L545.1 160.1L545.6 160.2L546.0 160.5L546.3 160.9zM442.4 123.2L442.2 123.9L441.9 124.6L441.3 125.0L440.7 125.2L440.0 125.0L439.5 124.6L439.1 123.9L439.0 123.2L439.1 122.4L439.5 121.7L440.0 121.3L440.7 121.2L441.3 121.3L441.9 121.7L442.2 122.4zM455.5 228.6L455.8 227.1L457.0 225.6L458.6 225.5L459.5 225.5L460.8 225.8L462.4 226.2L464.1 226.4L465.6 227.2L467.1 227.9L468.4 229.0L469.4 230.5L469.7 231.3L469.1 232.3L468.8 233.9L467.8 235.1L466.0 235.3L464.2 234.9L462.7 234.2L460.9 233.9L459.1 233.7L457.4 232.9L456.0 232.0L455.3 230.9zM521.8 212.1a0.6 0.6 0 1 0 1.2 0a0.6 0.6 0 1 0 -1.2 0zM231.1 227.8L230.4 229.8L228.9 230.3L226.8 230.3L225.1 230.3L223.2 230.5L221.7 230.4L219.8 229.4L218.9 227.8L219.7 226.6L221.4 226.2L223.0 225.7L224.2 224.7L225.5 224.0L226.9 223.8L228.2 224.9L229.0 226.4zM217.7 205.4L216.4 205.9L215.1 206.7L213.3 206.6L211.4 205.9L210.3 204.8L211.5 204.8L213.1 204.6L214.8 203.8L216.7 204.7zM253.0 216.0L252.4 218.5L251.1 218.6L249.5 218.5L247.8 218.6L246.4 218.8L245.0 219.1L243.5 219.4L242.3 219.9L241.1 220.4L239.3 219.6L238.7 217.7L240.2 216.6L241.3 215.9L240.8 215.1L239.3 214.0L238.6 213.6L239.4 213.6L241.4 213.7L243.2 213.6L244.5 212.9L245.9 212.2L247.5 212.0L249.0 214.3L250.2 215.2L251.8 215.8zM272.7 219.9L270.7 221.2L268.9 222.6L267.8 222.6L266.3 222.2L265.5 222.0L265.6 220.5L265.9 219.6L265.1 218.2L264.9 217.3L265.5 217.4L267.0 217.6L268.6 217.8L270.6 217.6L272.2 217.9zM317.9 206.4L317.9 208.2L316.8 209.5L315.9 209.9L314.4 209.9L312.9 209.4L311.5 208.9L310.4 208.3L308.4 207.4L307.3 206.4L307.3 204.7L308.6 203.4L309.7 203.6L311.2 204.1L312.8 204.6L314.2 205.0L315.8 205.3L317.1 205.7zM320.5 178.9L320.6 180.7L319.6 180.8L317.8 181.3L316.2 181.4L313.9 180.3L312.5 180.3L310.7 180.7L309.0 180.6L307.7 179.9L306.4 178.7L306.6 177.3L307.6 176.8L309.1 176.2L310.8 175.7L312.3 175.3L314.1 174.9L315.9 174.7L317.2 174.7L317.4 176.1L317.2 177.6L319.0 178.3zM216.7 217.5L215.9 217.7L214.5 218.2L213.3 218.3L211.9 218.1L210.3 217.7L209.5 217.4L210.3 216.7L212.0 215.9L213.5 215.8L214.8 216.0zM251.2 170.8L250.6 171.9L249.5 172.8L247.9 173.6L246.2 174.2L244.7 172.1L243.2 171.1L242.2 170.8L243.1 169.5L244.5 168.1L246.4 167.6L247.7 168.0L249.3 168.5L250.6 169.2zM303.0 190.4L301.2 191.4L299.0 190.8L297.7 190.6L295.9 190.9L294.3 190.8L293.7 190.4L294.5 190.2L296.3 189.6L298.0 189.1L300.0 188.8L301.7 189.0zM298.7 179.1L297.4 179.9L295.3 180.6L293.4 181.0L291.5 180.9L290.1 180.6L288.5 180.0L287.8 178.9L289.3 177.7L291.5 177.2L292.9 177.7L294.5 178.3L296.0 178.7L297.6 178.7zM226.1 196.8L227.1 197.9L228.0 199.0L226.7 199.3L224.5 199.5L223.1 199.7L221.6 200.3L220.3 201.0L219.1 200.9L219.8 199.4L220.5 197.8L219.7 197.6L218.2 197.2L216.6 197.0L215.6 196.8L215.9 195.6L217.3 194.7L218.3 194.7L219.7 194.8L221.3 194.6L222.5 194.1L223.8 193.2L225.2 192.7L226.3 192.8L227.8 193.9L228.6 195.2L227.4 196.0zM290.4 186.9L290.0 188.7L288.3 189.9L286.3 190.3L284.9 189.7L283.4 188.8L282.4 188.0L283.4 185.5L284.7 185.0L286.8 184.7L288.0 184.3L289.5 183.6L291.3 183.2L292.9 183.1L294.2 182.8L294.9 183.0L294.2 183.3L292.9 184.4L291.4 185.9zM294.2 187.3L293.5 188.9L292.4 189.1L290.8 189.1L289.4 188.7L287.3 187.2L287.4 185.6L288.3 184.3L289.8 184.2L291.8 184.6L293.2 185.1zM321.6 173.1L319.6 174.1L317.6 175.4L315.9 175.2L314.3 173.9L315.3 173.2L313.9 172.2L312.8 171.7L314.2 171.8L316.2 172.2L317.7 172.0L319.1 172.8L320.5 173.2zM261.1 241.7L260.5 241.8L259.2 242.3L257.8 243.0L256.6 243.7L255.3 244.2L253.6 244.2L252.2 244.3L250.5 244.5L248.6 244.6L247.1 244.4L246.2 244.3L245.8 243.2L246.7 241.5L248.1 240.3L249.8 239.5L251.6 239.7L253.6 240.3L255.3 240.0L256.9 239.3L258.4 239.2L260.4 240.3zM247.2 220.7L246.1 221.6L244.2 222.1L242.6 222.2L240.5 222.6L239.0 223.1L237.5 223.2L236.2 221.7L235.9 220.7L236.4 219.3L237.1 217.9L237.8 217.2L239.0 217.9L241.1 218.8L242.8 218.6L244.7 218.6L246.2 218.9zM241.9 143.1L243.0 144.4L243.8 145.3L242.6 145.2L240.6 145.1L239.0 145.6L238.1 146.0L236.8 143.8L235.2 143.2L235.4 141.5L237.4 140.7L239.1 140.9L240.8 141.0L241.6 142.3zM232.6 229.6L231.1 230.2L229.2 230.7L228.9 231.6L227.5 231.8L225.8 232.0L223.7 231.2L222.3 229.8L224.1 228.1L226.7 228.1L228.4 228.5L230.3 228.8L231.9 229.3zM292.4 182.5L291.5 183.3L289.8 184.3L288.3 184.6L287.0 184.5L285.2 183.4L282.9 182.5L283.9 182.0L285.4 181.3L287.0 180.8L288.4 181.1L289.9 181.5L291.5 182.0zM259.9 177.3L259.3 179.1L258.1 179.6L256.4 179.9L254.9 180.4L253.6 181.0L252.3 179.9L251.8 178.5L251.4 176.4L252.2 174.7L253.9 173.7L255.5 174.0L257.4 174.7L258.9 175.4zM294.5 205.9L296.2 207.5L297.5 208.5L296.8 208.5L295.5 208.4L293.9 208.5L292.3 208.0L290.9 207.5L289.3 207.7L287.7 208.0L286.2 207.9L285.1 207.7L283.6 206.9L282.6 205.4L283.0 204.0L284.0 203.6L285.4 203.3L287.2 203.0L288.9 202.8L290.6 202.8L292.2 202.8L293.9 202.8L295.5 202.4L296.9 202.1L297.8 202.6L297.2 203.5L295.5 204.6zM310.9 233.1L312.0 234.1L312.8 235.1L312.1 235.8L310.7 236.7L309.2 237.3L307.6 237.0L305.9 236.6L304.3 236.5L302.4 236.1L300.6 235.6L299.1 235.2L297.9 234.1L297.6 233.1L297.1 231.8L298.1 230.3L299.2 230.3L300.8 230.5L302.4 230.8L303.9 231.3L305.1 231.7L307.7 231.6L309.3 231.7L310.8 232.0zM327.3 201.7L326.9 203.0L326.0 204.2L324.7 205.4L323.1 206.1L321.8 206.0L320.2 206.0L318.5 206.0L316.9 206.2L315.4 206.2L314.2 205.7L313.5 203.6L314.4 201.6L315.8 199.9L316.8 199.4L318.0 198.8L319.5 198.3L320.8 197.8L322.0 197.6L323.6 198.2L325.3 199.1L326.7 200.3zM280.2 178.1L280.8 179.1L279.6 179.3L278.1 179.6L276.5 178.8L275.9 178.0L276.8 177.0L278.0 177.0L279.7 176.7L281.5 176.8zM267.7 229.3L268.3 231.2L267.7 233.0L266.2 233.2L264.5 233.0L262.7 232.9L261.0 232.8L259.8 232.5L258.6 231.6L258.1 230.3L256.9 228.8L256.3 227.6L256.7 227.0L257.8 226.3L259.4 226.0L260.6 225.6L262.1 225.2L263.8 225.1L265.4 225.4L266.8 225.7L267.6 226.0L268.0 227.4zM324.7 147.4L324.2 149.0L323.0 149.2L321.4 149.2L320.0 149.3L317.6 150.2L315.7 148.8L314.3 147.9L313.5 147.5L314.4 147.1L316.0 146.5L317.8 145.6L319.6 145.0L321.4 144.5L323.0 144.9L324.4 145.8zM300.1 154.5L300.7 156.8L299.9 156.6L298.3 156.6L296.5 156.7L294.7 157.1L293.4 157.3L291.2 157.7L289.8 157.9L289.3 156.1L288.0 155.2L286.8 154.3L286.5 152.9L287.5 152.2L289.5 150.7L290.8 150.3L292.5 150.4L294.1 150.5L295.3 150.4L297.2 151.1L298.5 152.4L299.4 153.4zM286.4 205.7L286.4 207.1L285.9 207.2L284.4 207.2L283.0 207.3L280.5 207.0L278.8 206.2L277.4 205.3L276.8 204.2L278.0 203.5L279.8 202.6L281.6 202.3L283.3 202.6L285.1 204.3zM246.1 143.0L245.3 143.6L243.1 144.3L241.7 144.6L240.2 145.2L238.8 146.1L237.6 146.5L236.5 145.0L236.6 143.1L237.7 141.6L239.6 140.6L241.1 140.7L242.7 141.2L244.0 141.8L245.6 142.8zM247.8 140.3L246.6 140.8L244.9 142.0L243.5 143.0L242.1 143.8L240.3 144.6L238.6 145.0L237.0 143.8L236.6 142.0L236.8 140.5L237.5 138.6L239.1 137.0L240.4 137.4L241.8 138.1L243.1 138.5L244.5 138.7L245.8 139.1L247.3 139.9zM310.2 230.2L309.0 230.6L307.4 231.2L306.8 232.5L305.1 232.5L303.1 232.6L301.2 231.6L300.0 229.1L301.9 229.0L304.0 229.0L305.5 228.1L306.6 227.5L308.0 229.2zM228.6 155.6L227.8 156.9L226.7 157.8L225.4 157.5L223.5 156.8L222.3 156.5L220.6 156.2L218.8 156.3L217.4 156.2L216.8 155.3L217.6 154.9L218.8 154.6L220.4 154.4L222.1 154.1L223.5 153.6L225.0 153.2L226.5 152.8L227.8 152.4L229.0 152.3L229.3 153.9zM321.0 201.4L319.6 202.1L318.1 203.3L316.5 202.3L314.6 201.8L313.1 201.3L314.1 200.4L315.8 199.8L318.1 199.1L319.4 199.2L321.0 199.3L322.3 199.8zM325.6 137.2L326.6 138.7L327.7 139.3L327.0 139.9L325.6 140.0L324.0 139.7L322.5 139.6L321.1 140.1L319.8 140.6L318.7 140.2L317.5 139.3L316.5 138.6L317.0 136.4L318.4 136.0L319.8 135.7L322.0 135.3L323.3 135.4L325.1 135.4L326.9 135.2L328.4 134.7L329.3 134.7L328.8 135.5L327.0 136.4zM226.3 138.9L225.8 139.2L224.6 139.5L222.9 139.9L221.2 140.8L219.5 141.2L218.1 141.3L216.3 141.6L215.0 141.9L213.6 141.7L212.0 141.1L210.5 139.9L210.0 138.9L210.7 138.3L212.2 137.4L213.8 136.8L215.0 136.7L216.3 136.5L218.0 136.6L219.3 137.0L221.1 137.2L223.0 137.4L224.7 137.8L225.9 138.4zM245.9 203.9L244.6 204.2L243.2 204.9L241.7 205.9L240.0 204.9L238.7 204.6L236.4 203.7L237.2 203.2L239.2 202.4L241.6 201.9L243.6 202.2L245.1 202.8zM322.1 228.5L321.7 229.3L320.5 230.0L318.9 230.3L317.4 230.7L316.2 231.1L314.4 230.9L312.7 230.6L311.4 230.3L310.4 228.6L308.8 226.9L308.4 225.5L309.2 225.0L310.5 224.7L312.0 224.8L313.7 224.9L315.4 225.1L316.9 225.1L318.1 224.9L319.8 225.7L320.9 226.9L321.7 227.8zM264.1 215.2L262.3 215.9L261.1 217.5L259.1 216.1L256.9 215.4L255.5 215.0L256.1 214.8L257.7 214.4L259.2 214.4L261.1 214.2L262.8 214.3zM302.2 240.1L300.7 242.2L299.5 242.4L297.7 243.1L295.9 243.3L294.6 243.0L294.4 241.7L294.9 240.1L293.8 238.2L293.4 237.0L294.3 236.7L295.8 236.4L297.7 236.6L299.3 237.1L300.6 237.4L302.0 238.6zM258.0 168.6L258.5 170.7L257.4 170.9L255.6 170.7L254.1 170.6L251.9 169.6L251.0 168.2L250.6 167.6L251.1 167.1L252.5 166.4L254.1 166.3L256.3 166.1L258.4 166.1zM253.8 139.8L253.8 141.2L253.5 142.2L252.5 143.2L250.9 144.3L249.1 144.9L246.9 144.6L245.1 143.4L244.8 141.8L244.5 140.4L243.1 139.8L241.4 139.3L240.8 138.2L242.0 138.0L243.7 137.9L245.3 137.5L246.7 137.3L248.0 137.3L249.4 137.1L251.1 136.8L252.8 136.8L253.9 137.1L254.2 138.2zM248.0 199.5L250.2 200.7L248.8 202.1L247.1 202.0L245.7 201.5L244.5 201.3L244.5 200.3L242.5 199.6L244.4 199.0L244.5 198.0L246.2 198.7L247.7 198.2L249.4 198.0L250.3 198.1L249.2 198.8zM234.4 229.4L232.8 230.4L231.1 230.1L229.2 230.6L228.9 229.4L229.1 227.9L231.1 227.6L232.7 227.7L234.2 228.1zM261.8 133.1L261.2 134.5L259.5 135.1L257.9 135.5L256.4 135.1L255.0 134.3L253.6 133.7L252.9 132.3L254.2 132.1L255.9 131.7L257.6 130.9L259.4 131.0L261.4 131.1L262.9 131.1zM277.3 196.7L277.1 198.5L275.5 198.8L273.5 198.8L272.0 198.8L270.7 198.7L269.0 198.1L267.6 198.1L265.7 197.6L264.1 197.1L263.6 196.7L264.5 196.7L266.4 196.7L268.5 196.3L269.9 195.7L270.2 194.7L272.4 195.8L273.8 196.0L275.1 196.0L276.4 196.3zM297.5 134.2L296.0 134.7L294.7 134.9L293.3 135.0L292.4 134.1L293.8 133.2L295.6 133.4zM217.3 151.5L216.4 153.2L215.0 153.2L213.1 152.9L211.7 152.5L210.3 152.4L209.4 150.3L211.1 149.3L213.1 149.3L214.7 149.4L216.4 149.2L218.0 149.4zM227.7 146.6L227.0 147.6L225.4 148.4L224.0 148.6L222.4 148.8L221.0 148.7L219.5 147.4L218.3 146.7L216.5 146.2L214.9 145.9L214.3 145.2L215.2 144.8L216.6 144.4L218.3 144.1L220.0 144.4L221.4 144.7L223.2 144.2L224.6 144.1L225.8 144.9L227.1 145.8zM292.4 236.6L292.1 238.0L290.8 239.1L289.5 239.5L287.7 239.3L286.0 238.8L284.5 238.4L282.6 238.9L281.5 239.3L280.2 238.7L279.3 237.4L278.8 235.4L280.7 234.5L281.8 233.9L283.2 233.8L284.6 233.9L286.5 234.0L288.4 234.5L289.9 235.3L291.5 235.9zM233.8 201.2L234.9 202.9L235.0 204.4L233.9 204.5L232.4 204.3L230.7 204.2L228.9 203.9L227.4 203.6L225.6 203.5L223.8 203.5L222.2 203.3L221.3 203.0L222.1 201.7L224.1 200.5L225.7 199.6L227.4 198.9L229.3 199.1L231.0 200.0L232.5 200.4zM288.7 236.6L289.2 238.5L288.0 238.8L286.0 238.9L284.3 239.1L282.5 239.0L281.3 238.5L280.5 236.7L279.2 234.5L280.2 233.6L281.4 232.9L282.9 232.4L284.3 232.0L286.0 232.0L287.9 232.3L289.5 233.0L290.4 233.5L290.0 235.1zM318.8 162.5L318.6 163.8L317.5 164.2L316.0 164.4L314.7 164.0L313.3 163.2L311.7 162.5L311.0 162.5L311.5 162.2L313.0 161.7L314.4 161.5L316.0 159.8L317.3 159.7L318.9 160.0L320.5 160.2L321.5 160.5L320.5 161.6zM252.4 187.9L251.8 188.1L250.1 188.5L248.6 188.8L247.1 189.8L245.7 190.5L244.9 188.4L243.3 186.8L244.2 186.3L245.9 185.6L247.4 185.9L249.0 186.6L251.2 187.4zM305.5 224.8L304.9 226.9L303.1 226.9L301.8 226.6L300.8 225.3L299.9 224.4L301.9 223.8L303.6 223.7zM323.0 165.8L323.5 166.6L323.6 168.2L322.3 167.8L320.9 167.3L319.7 166.5L318.3 165.8L318.9 165.0L320.3 163.9L321.9 163.7L323.4 163.8L324.6 165.0zM377.1 232.7L377.6 234.0L376.5 233.9L375.0 233.4L374.6 232.4L374.1 231.3L374.9 230.8L376.6 230.7L377.9 231.2zM355.5 151.8L355.0 152.9L353.9 154.5L352.5 155.0L350.9 155.8L349.6 156.6L348.2 155.6L348.1 154.2L349.5 152.1L349.0 150.8L348.8 148.9L349.3 147.7L349.9 148.0L351.2 148.7L352.7 149.6L354.3 150.1L356.0 150.0L358.0 149.6L359.6 149.3L360.5 149.6L359.9 150.0L358.5 150.8L356.9 151.4zM379.8 206.8L378.6 208.9L377.4 209.1L375.9 209.0L374.4 209.1L373.1 209.3L370.9 209.5L369.1 209.3L368.3 206.9L367.9 204.7L368.9 204.3L370.2 203.7L371.7 203.3L373.1 203.1L375.0 203.0L376.9 203.3L378.3 203.9L379.4 205.3zM371.4 178.1L370.4 179.2L368.3 180.0L367.0 180.4L365.3 180.8L363.7 180.7L362.4 180.6L360.3 179.2L358.6 177.8L357.6 176.8L358.2 176.3L359.6 175.9L361.3 176.0L362.7 176.1L364.6 176.2L366.5 176.3L368.4 176.6L370.4 177.2zM370.2 168.4L369.1 168.5L367.2 169.2L366.0 169.6L366.3 171.0L364.9 170.2L363.3 169.4L362.1 168.9L360.7 168.6L358.9 168.6L357.8 168.4L359.1 167.7L361.1 166.9L362.8 166.9L364.0 166.5L365.2 166.0L366.6 165.7L368.2 166.0L369.2 166.9zM332.0 150.4L330.2 151.7L328.2 151.4L326.7 150.8L325.6 150.4L327.5 149.2L330.0 149.0zM381.3 121.2L379.2 122.2L377.5 122.2L375.8 121.8L376.6 121.2L375.7 120.3L377.5 120.2L378.7 120.7L380.2 120.9zM376.9 103.4L376.1 104.0L374.4 104.7L372.7 105.5L371.0 106.1L369.5 106.7L368.1 107.2L366.6 106.6L365.2 105.5L364.0 104.4L362.8 103.1L362.6 101.9L363.4 101.1L364.7 100.3L366.2 99.5L367.5 99.3L368.9 99.7L370.2 100.6L371.6 101.6L373.1 101.9L374.8 102.4L376.2 102.8zM338.8 163.5L337.8 164.1L336.2 164.8L334.6 165.2L332.9 165.2L330.8 164.6L329.7 163.5L330.6 162.8L332.2 162.2L333.7 162.4L335.9 162.4L337.6 162.8zM329.2 157.2L328.6 158.1L326.8 158.3L325.3 157.2L326.5 155.6L328.6 155.3L330.5 155.5zM370.3 160.7L369.3 162.4L367.9 163.2L366.1 164.1L364.5 163.6L363.0 162.7L361.4 162.8L360.0 162.7L359.3 160.7L359.5 158.9L360.6 158.0L362.1 157.7L363.1 158.7L364.6 159.5L366.3 159.2L368.3 159.0L369.8 158.9zM372.2 108.4L370.2 109.4L369.3 110.8L367.8 110.5L366.4 109.8L364.7 108.9L364.3 107.7L365.3 105.7L366.9 105.9L368.7 106.7L370.1 107.0L371.3 107.3zM365.2 234.3L364.4 235.0L362.7 235.1L361.1 235.4L359.4 236.1L357.7 236.4L356.5 236.2L356.5 234.3L356.1 232.1L356.9 231.5L358.5 231.6L360.3 231.8L361.9 231.6L363.2 231.4L364.9 232.8zM352.1 169.2L350.9 170.3L349.2 171.9L347.6 171.5L345.6 171.4L344.4 171.4L345.1 169.4L343.5 168.3L342.6 167.6L344.0 167.3L346.1 166.7L348.5 167.1L350.0 167.1L351.9 166.8L353.5 166.4L354.7 166.4L353.9 167.9zM335.9 141.5L334.2 142.2L332.7 143.8L331.3 142.1L329.5 141.4L329.8 140.1L330.9 140.1L332.7 139.8L334.2 139.6L335.8 139.6L336.9 139.8zM360.9 120.3L359.9 121.4L358.2 122.5L356.5 122.2L354.8 121.2L353.2 120.5L352.3 120.4L353.8 118.9L354.9 118.4L356.4 118.1L357.9 118.1L360.0 118.9zM365.1 227.7L364.7 228.7L363.6 229.2L362.0 229.5L361.0 228.2L359.8 226.9L361.2 226.7L362.8 226.6L364.4 226.5zM359.1 154.0L357.4 155.9L356.0 155.9L354.4 156.1L353.1 156.1L352.1 154.0L353.2 153.8L354.7 153.5L356.0 152.7L357.5 152.1zM342.0 199.7L341.7 200.8L340.6 202.1L339.0 203.0L337.6 203.3L336.1 203.1L334.7 202.3L332.9 201.4L331.7 201.3L330.2 201.5L328.5 201.3L326.9 200.7L325.4 200.3L324.0 200.2L323.0 200.1L322.6 199.8L323.0 199.5L324.1 199.1L325.6 198.4L327.4 197.8L329.3 197.5L330.9 197.4L332.4 196.9L333.9 196.8L335.5 197.0L337.0 196.7L338.4 196.5L339.5 196.7L341.1 197.7L341.9 198.9zM362.9 148.6L364.1 150.1L364.8 151.1L363.6 151.3L362.0 150.8L360.2 150.3L358.5 150.1L356.9 150.7L355.2 151.2L353.9 151.9L352.7 152.4L353.2 150.8L354.7 149.3L354.8 147.8L355.8 147.1L356.9 146.0L358.7 145.5L360.2 146.0L361.8 146.3L363.1 146.5zM337.6 196.6L336.5 198.2L335.4 198.8L334.3 199.7L332.9 200.0L331.4 199.6L329.7 199.0L328.3 198.3L329.0 196.5L329.4 194.8L330.4 194.1L331.6 193.2L332.9 192.9L334.3 193.1L335.8 193.4L337.1 194.1zM340.0 164.0L341.5 165.4L340.0 166.0L338.1 166.4L336.4 165.0L335.6 163.9L335.2 162.6L336.4 162.6L338.1 162.9L339.8 162.6L341.2 162.4zM345.4 122.3L344.0 124.1L342.8 125.2L341.2 126.0L340.0 126.1L338.5 125.9L337.0 126.0L335.7 125.9L334.2 124.6L333.4 123.3L333.3 121.2L334.2 119.6L335.7 118.4L337.0 118.4L338.6 118.5L340.4 118.3L342.0 118.3L343.5 118.9L345.1 119.3L346.5 119.4L347.6 119.7L347.0 121.2zM377.6 231.0L376.8 231.4L375.0 232.0L373.5 232.6L372.5 233.3L371.2 233.9L369.9 233.8L368.4 233.8L366.9 233.9L366.0 233.7L366.0 232.5L366.7 231.0L368.2 229.3L369.0 228.3L370.0 227.0L371.3 226.6L372.0 228.0L373.1 229.6L374.8 230.2L376.7 230.7zM375.7 202.7L375.9 204.1L374.9 205.5L373.7 205.6L372.1 205.3L370.4 204.9L369.2 204.5L368.8 202.5L368.9 200.8L369.1 199.4L370.2 199.5L371.7 200.2L373.0 201.0L374.7 202.0zM342.0 158.8L341.2 160.5L339.1 161.4L337.2 160.7L336.2 160.3L337.7 159.0L337.1 157.6L339.1 157.2L340.8 158.0zM365.9 234.0L364.6 235.6L363.3 236.0L361.8 236.4L360.4 236.2L359.1 234.1L359.6 231.9L360.7 231.5L362.3 231.5L363.9 231.9L365.0 232.2zM349.9 173.5L348.4 174.1L346.5 174.4L345.5 173.4L346.2 172.3L348.6 172.2zM338.2 159.8L337.4 160.3L335.9 160.6L334.1 160.8L332.3 161.2L331.0 161.7L329.0 162.3L327.3 162.5L325.3 162.4L323.7 162.2L322.9 161.2L322.9 159.8L323.1 158.2L323.8 157.6L324.6 156.6L325.8 155.5L327.3 155.1L328.6 155.4L330.1 156.1L331.6 156.7L333.1 156.8L334.5 157.0L336.3 158.1L337.7 159.1zM335.6 168.9L335.5 170.7L333.7 170.7L331.8 170.3L330.0 169.0L330.8 166.6L332.5 166.1L334.2 166.5L335.4 167.3zM354.3 216.7L353.9 218.0L352.2 217.8L351.0 217.2L351.2 216.3L351.9 215.3L353.8 216.0zM335.4 176.6L334.9 177.2L334.2 178.0L332.0 177.9L331.8 177.3L330.1 177.4L328.6 176.6L330.0 175.5L331.4 175.5L332.8 175.9L333.8 176.0L334.9 175.9zM385.1 237.0L384.8 237.1L383.4 237.4L381.5 237.5L379.7 237.8L378.6 238.4L378.0 239.9L377.5 241.0L376.6 240.7L375.3 240.1L373.6 239.6L372.1 239.3L370.3 238.7L368.5 238.7L366.9 239.0L366.1 238.4L367.0 238.1L368.4 237.8L370.2 237.2L371.9 236.7L373.0 236.3L372.1 234.5L371.2 233.2L371.9 233.1L373.3 232.8L374.9 232.7L376.5 232.7L377.6 233.0L378.1 234.3L378.6 235.4L379.5 235.7L381.3 236.1L383.2 236.6L384.6 237.1zM343.0 201.9L342.4 203.3L341.0 204.0L339.1 204.8L337.6 205.2L336.4 204.1L335.6 202.7L334.3 200.7L335.3 200.2L336.8 200.1L338.4 199.8L340.1 199.4L342.0 199.1L343.3 199.3L343.5 200.5zM265.7 109.8L266.4 111.4L264.6 111.8L262.6 112.0L260.4 111.6L257.8 111.5L256.5 109.9L258.1 109.3L259.6 109.1L259.9 107.3L260.9 108.1L262.3 108.8L264.4 109.0zM250.4 123.1L251.2 124.4L250.6 125.8L249.6 126.1L248.3 126.8L246.8 127.3L245.2 127.4L243.9 126.9L242.5 126.5L241.2 126.4L240.0 126.0L238.7 125.4L236.9 124.9L234.9 124.2L233.3 123.6L232.6 122.8L233.4 122.2L234.6 122.2L236.1 122.0L237.7 121.7L239.4 121.4L240.8 121.2L241.8 121.2L243.8 120.5L245.2 120.7L246.8 120.9L248.1 121.2L249.4 122.1zM271.1 108.0L269.0 109.0L267.0 110.6L266.2 109.8L264.8 108.8L262.8 108.3L261.8 107.9L262.8 107.4L264.7 106.8L265.9 106.4L267.1 106.2L269.0 106.2L270.7 106.3zM334.0 94.8L332.6 95.3L330.7 95.7L329.3 96.2L327.6 95.5L327.0 95.2L327.6 94.4L327.6 93.6L329.8 92.9L331.8 94.0zM277.6 84.2L277.1 84.7L275.9 85.0L274.3 85.0L272.5 85.2L270.9 85.5L269.5 85.8L267.8 86.3L266.2 86.6L264.8 86.9L263.8 86.8L264.1 84.2L265.8 82.8L267.1 82.4L268.8 82.1L270.7 82.2L272.2 82.4L274.1 82.7L275.9 83.1L277.2 83.6zM282.6 127.7L282.1 128.0L280.7 128.8L279.0 129.7L277.3 130.0L276.0 130.3L274.6 130.8L273.3 131.0L272.2 130.4L270.9 129.4L269.5 128.6L268.5 127.6L269.7 126.0L271.9 125.2L273.1 125.4L274.5 126.0L276.1 126.4L277.5 126.6L279.1 127.1L280.8 127.4L282.1 127.4zM295.4 81.1L295.5 82.9L294.4 83.0L292.6 83.1L291.1 83.1L288.8 82.3L289.4 80.5L289.7 78.7L290.7 77.1L292.4 77.5L294.2 78.4L295.5 79.2zM273.0 100.0L271.4 102.1L268.8 102.6L266.6 101.6L264.6 100.0L267.0 99.0L268.8 97.9L270.5 99.3zM328.1 117.2L327.1 118.2L324.7 118.3L323.1 117.6L322.2 116.5L324.4 115.5L326.1 115.8L327.6 116.0zM252.6 114.1L250.2 115.0L248.4 116.0L246.4 116.4L244.5 116.1L245.7 114.6L244.8 114.0L243.2 113.5L241.4 113.2L239.8 113.3L238.9 112.9L239.6 112.3L241.1 112.0L242.8 111.5L244.3 111.1L246.1 111.0L247.9 110.7L249.3 110.6L250.6 111.4L251.3 112.7zM321.7 116.4L320.9 118.7L319.6 118.7L318.0 119.0L316.5 119.6L315.3 119.9L314.5 118.9L313.8 117.6L312.2 117.0L310.3 116.7L308.9 116.5L310.1 115.4L312.3 115.2L313.9 115.0L315.3 114.7L317.5 115.2L319.0 115.3L320.6 115.7zM288.3 93.2L287.1 93.7L286.0 93.8L284.4 94.2L284.1 93.6L282.5 93.1L283.9 92.9L284.1 91.8L285.9 91.7L288.2 92.2zM246.9 94.9L247.2 95.7L246.2 97.0L244.0 96.1L242.7 96.1L241.3 95.3L240.5 95.1L242.4 94.0L243.9 94.0L245.3 93.5L247.6 94.0zM281.7 87.0L279.5 87.4L279.1 88.5L277.7 88.3L276.8 87.3L276.1 86.8L277.3 86.3L278.8 85.9L279.7 86.3zM299.3 124.2L297.7 124.8L295.5 125.3L293.8 126.1L292.2 126.5L291.0 125.0L289.7 123.9L288.9 123.3L290.0 122.6L291.9 122.2L293.1 122.3L294.5 122.5L295.8 122.8L298.0 123.3zM294.1 85.6L292.6 87.1L291.8 87.2L290.4 87.4L289.0 87.6L288.0 87.4L286.2 86.8L285.2 85.7L286.2 84.4L288.0 83.7L289.9 83.8L291.7 84.4L293.4 85.2zM286.3 118.3L286.5 119.9L285.3 120.6L283.4 120.8L281.8 120.6L280.1 120.6L278.5 119.8L280.0 118.8L281.4 118.3L279.7 117.0L281.5 116.5L283.4 116.6L285.6 117.1zM313.6 101.7L313.1 102.6L311.8 103.4L310.3 103.2L308.5 102.7L306.9 103.1L305.4 103.9L304.3 103.9L304.5 102.1L302.9 100.9L304.1 100.2L306.1 99.6L308.6 100.0L309.8 100.9L311.9 101.4zM308.4 46.3L309.0 47.8L307.9 48.5L306.2 48.9L305.0 48.1L303.8 47.0L302.1 46.0L301.4 45.1L302.5 45.2L304.4 45.0L306.1 44.6L308.6 45.3zM311.8 56.3L311.5 57.7L309.8 57.4L307.8 57.1L305.3 57.5L305.8 56.3L306.2 55.8L307.8 54.7L309.9 55.8zM321.4 92.9L321.0 94.4L319.8 94.7L318.3 95.1L317.1 96.2L315.5 96.7L314.4 96.3L312.9 95.9L311.6 95.1L310.9 94.5L310.4 93.0L311.2 91.7L312.8 90.7L314.3 90.4L315.8 89.9L317.2 89.3L318.8 88.8L320.3 88.7L321.0 91.1zM318.3 75.6L316.6 76.2L314.7 76.8L313.0 77.8L311.5 78.4L310.5 77.6L309.8 76.2L309.9 74.5L312.3 74.0L313.5 73.7L315.0 73.0L316.6 72.6L318.1 72.7L319.0 72.6L319.5 73.9zM190.6 122.2L192.0 123.2L193.9 124.2L194.7 124.7L194.1 125.2L192.5 125.7L190.7 126.0L189.2 126.1L187.4 125.7L186.0 124.9L184.5 124.8L182.9 124.6L182.0 124.0L183.3 123.0L184.8 122.2L183.7 121.5L182.4 120.9L182.9 120.0L184.2 119.1L185.6 118.5L187.4 118.2L189.1 118.7L190.2 119.6L191.1 120.3zM153.7 126.1L151.3 127.0L149.5 127.1L147.7 126.8L147.0 125.1L147.9 124.5L149.1 123.9L151.2 125.3zM210.5 107.9L208.6 109.2L207.1 109.7L205.1 110.2L203.9 109.0L202.2 108.0L202.0 106.2L203.5 105.8L205.0 106.0L207.1 106.1L208.7 106.0L210.2 106.2zM203.0 118.8L202.9 119.3L202.3 120.3L201.0 121.2L199.5 121.9L198.0 122.6L196.6 122.9L195.2 122.8L193.6 122.7L192.0 122.4L190.6 121.9L189.5 121.3L187.5 120.2L186.4 118.8L186.2 116.8L187.6 115.3L188.4 114.9L189.6 114.6L191.0 114.8L192.5 114.8L193.9 115.0L195.3 115.2L196.8 115.4L198.6 115.8L200.4 116.2L201.9 117.1L202.7 118.2zM209.3 102.7L209.6 103.6L207.6 103.7L205.5 103.9L204.0 103.9L203.1 103.9L203.7 102.8L204.0 101.3L205.0 100.6L206.3 101.0L207.6 101.4L209.1 101.5zM196.8 104.4L196.0 105.0L194.3 105.8L192.4 106.7L191.1 107.3L189.6 107.6L188.0 107.8L186.4 108.1L184.9 107.5L183.4 106.5L181.9 105.7L180.9 104.9L180.6 104.4L180.9 103.9L182.2 103.2L183.9 103.0L185.6 102.7L187.0 102.3L188.4 102.3L189.5 102.6L190.9 102.6L192.5 102.8L194.3 103.2L196.0 103.7zM232.7 234.0L234.3 234.9L235.7 235.7L234.5 236.3L232.5 236.5L231.0 236.5L229.3 234.7L227.1 233.7L226.6 231.9L227.5 232.0L229.1 232.7L230.9 232.7L232.6 232.4L234.4 232.2L235.2 232.1L234.1 232.9zM227.2 214.7L228.6 216.0L227.1 216.3L225.5 216.3L224.0 216.0L222.1 215.5L222.9 214.3L223.8 213.7L226.0 213.0L227.9 213.9zM232.4 232.4L232.0 233.4L230.9 234.5L229.5 235.1L228.0 234.8L226.3 234.3L224.6 234.2L222.9 233.8L221.4 233.2L220.5 232.5L220.9 231.4L222.1 230.2L223.6 229.2L224.8 229.0L226.3 228.7L227.8 228.3L229.3 228.3L230.6 228.5L231.9 229.8L232.3 231.4zM209.8 213.9L208.2 214.8L208.5 216.4L208.6 217.7L207.4 217.7L205.8 216.9L204.5 216.0L202.7 215.2L201.2 214.5L199.8 213.8L200.1 211.9L201.6 211.2L203.5 210.8L204.8 210.9L206.2 211.1L207.7 211.6L209.3 211.9L211.1 211.1L212.6 210.6L213.8 211.2L212.9 212.1L211.2 213.1zM241.3 200.2L241.3 201.5L240.0 202.7L238.5 203.2L237.2 203.5L235.6 203.2L234.3 202.2L233.1 201.5L231.3 201.1L230.6 200.2L231.0 198.4L232.3 197.0L233.3 197.3L234.7 198.2L236.3 199.0L238.1 199.6L240.0 199.9zM224.6 192.6L226.2 193.4L227.2 194.2L225.9 194.2L224.1 193.9L222.5 194.0L221.0 194.4L219.6 194.6L217.8 193.3L218.1 191.6L220.4 190.7L222.5 191.0L224.0 190.9L225.3 191.2zM215.3 218.2L214.9 218.2L213.3 218.8L211.4 219.3L209.9 219.6L208.4 220.0L207.2 220.4L205.6 220.7L203.7 220.9L202.0 220.3L201.1 218.4L201.2 216.4L202.0 215.1L203.4 213.8L205.0 213.3L206.0 214.0L207.0 215.0L208.1 216.1L209.4 216.9L211.2 217.3L213.2 217.8L214.9 218.3zM242.1 215.3L239.7 216.3L238.7 216.7L236.6 217.5L235.0 216.6L234.7 215.2L233.5 214.0L234.5 213.4L236.0 213.2L237.4 213.5L238.7 214.0L240.0 214.4zM240.1 241.8L241.5 243.5L242.4 244.1L242.0 243.9L240.5 243.6L238.7 243.5L237.1 243.6L235.6 244.0L234.3 244.3L233.2 244.2L231.5 243.6L230.0 242.7L228.6 241.5L228.2 240.6L229.1 240.2L230.7 240.2L232.5 240.1L233.9 239.8L235.5 239.4L236.7 239.1L238.7 238.9L240.5 239.5zM209.9 202.5L211.4 203.4L212.6 204.5L211.4 205.0L209.6 205.0L208.0 204.9L206.1 203.7L204.7 202.5L203.0 200.7L204.3 200.4L206.3 200.2L208.0 200.1L209.5 200.7L210.3 201.7zM204.6 209.3L204.6 210.2L203.4 210.1L201.6 210.6L199.2 210.6L197.5 210.2L195.8 210.0L193.7 208.4L194.8 207.5L196.5 207.2L198.0 207.3L199.6 207.6L201.6 207.8L203.4 207.4L205.5 207.3L206.8 207.4L206.2 208.5zM224.2 160.5L224.7 162.2L223.7 163.1L222.0 163.5L220.5 163.5L218.8 163.5L217.1 163.5L215.6 163.0L214.1 162.3L213.1 161.7L213.2 160.4L214.1 159.1L215.9 157.2L217.2 157.3L218.8 157.6L220.3 158.0L221.5 158.3L223.4 158.8zM199.3 228.3L198.8 228.6L198.4 229.5L196.7 229.3L196.1 228.7L194.5 228.7L193.2 228.3L194.5 228.1L196.1 228.2L197.6 227.9L198.6 226.6L200.2 226.7L201.4 227.1zM228.7 225.7L230.0 227.2L230.9 228.0L230.3 228.5L228.7 228.7L227.0 228.7L225.7 228.4L224.0 226.8L222.5 226.4L220.7 226.3L219.4 225.6L218.3 224.2L218.3 222.9L219.4 222.4L220.9 222.4L222.7 222.4L224.4 222.4L225.7 222.5L227.5 222.5L229.0 223.0L229.7 223.8zM229.4 192.6L230.7 194.2L230.8 195.6L229.6 195.7L227.9 195.5L226.0 195.3L224.3 194.8L223.3 194.8L222.3 193.3L222.4 191.8L223.6 191.2L225.0 191.3L226.6 191.4L228.0 191.9zM211.6 171.9L211.7 174.3L210.3 174.4L208.5 174.2L206.8 174.0L204.8 173.8L203.8 173.2L204.7 172.4L206.1 171.2L207.2 169.4L209.3 170.8zM404.3 192.5L404.1 194.0L403.1 194.8L401.7 194.9L399.7 194.7L398.1 194.2L396.4 193.4L395.3 192.6L395.6 190.9L397.4 189.8L398.9 190.1L400.4 190.2L402.0 190.1L403.1 190.2L404.1 191.2zM421.2 214.2L419.4 214.8L418.3 215.0L417.4 214.8L415.7 215.4L414.4 214.1L415.9 213.4L417.5 213.5L418.5 213.3L419.5 213.4zM418.6 207.7L417.6 209.2L415.8 209.7L413.9 209.8L412.5 209.1L411.8 208.4L413.4 207.4L414.5 205.8L416.5 206.4zM423.4 223.2L424.3 224.9L423.2 225.0L421.6 224.8L420.1 224.7L418.3 224.7L417.0 224.6L416.6 223.2L417.0 221.8L418.3 220.9L420.1 220.3L421.4 220.3L423.1 220.3L424.6 220.5L425.4 221.2L424.6 221.9z" fill="none" stroke="#1a1a1a" stroke-width="0.9"/></defs>
<text x="322.6" y="92" font-size="26.3" text-anchor="middle">(a) Whistler mode wave power at 1-10 Hz</text>
<path d="M94.5 373.2h-2.5M550.5 373.2h2.5M94.5 363.7h-2.5M550.5 363.7h2.5M94.5 354.2h-4.5M550.5 354.2h4.5M94.5 344.7h-2.5M550.5 344.7h2.5M94.5 335.2h-2.5M550.5 335.2h2.5M94.5 325.7h-2.5M550.5 325.7h2.5M94.5 316.2h-4.5M550.5 316.2h4.5M94.5 306.7h-2.5M550.5 306.7h2.5M94.5 297.2h-2.5M550.5 297.2h2.5M94.5 287.7h-2.5M550.5 287.7h2.5M94.5 278.2h-4.5M550.5 278.2h4.5M94.5 268.7h-2.5M550.5 268.7h2.5M94.5 259.2h-2.5M550.5 259.2h2.5M94.5 249.7h-2.5M550.5 249.7h2.5M94.5 240.2h-4.5M550.5 240.2h4.5M94.5 230.7h-2.5M550.5 230.7h2.5M94.5 221.2h-2.5M550.5 221.2h2.5M94.5 211.7h-2.5M550.5 211.7h2.5M94.5 202.2h-4.5M550.5 202.2h4.5M94.5 192.7h-2.5M550.5 192.7h2.5M94.5 183.2h-2.5M550.5 183.2h2.5M94.5 173.7h-2.5M550.5 173.7h2.5M94.5 164.2h-4.5M550.5 164.2h4.5M94.5 154.7h-2.5M550.5 154.7h2.5M94.5 145.2h-2.5M550.5 145.2h2.5M94.5 135.7h-2.5M550.5 135.7h2.5M94.5 126.2h-4.5M550.5 126.2h4.5M94.5 116.7h-2.5M550.5 116.7h2.5M94.5 107.2h-2.5M550.5 107.2h2.5M94.5 373.2v2.5M94.5 107.2v-2.5M113.5 373.2v2.5M113.5 107.2v-2.5M132.5 373.2v2.5M132.5 107.2v-2.5M151.5 373.2v4.0M151.5 107.2v-4.0M170.5 373.2v2.5M170.5 107.2v-2.5M189.5 373.2v2.5M189.5 107.2v-2.5M208.5 373.2v2.5M208.5 107.2v-2.5M227.5 373.2v2.5M227.5 107.2v-2.5M246.5 373.2v4.0M246.5 107.2v-4.0M265.5 373.2v2.5M265.5 107.2v-2.5M284.5 373.2v2.5M284.5 107.2v-2.5M303.5 373.2v2.5M303.5 107.2v-2.5M322.5 373.2v2.5M322.5 107.2v-2.5M341.5 373.2v4.0M341.5 107.2v-4.0M360.5 373.2v2.5M360.5 107.2v-2.5M379.5 373.2v2.5M379.5 107.2v-2.5M398.5 373.2v2.5M398.5 107.2v-2.5M417.5 373.2v2.5M417.5 107.2v-2.5M436.5 373.2v4.0M436.5 107.2v-4.0M455.5 373.2v2.5M455.5 107.2v-2.5M474.5 373.2v2.5M474.5 107.2v-2.5M493.5 373.2v2.5M493.5 107.2v-2.5M512.5 373.2v2.5M512.5 107.2v-2.5M531.5 373.2v4.0M531.5 107.2v-4.0M550.5 373.2v2.5M550.5 107.2v-2.5" stroke="#333" stroke-width="1" fill="none"/>
<rect x="94.5" y="107.2" width="456" height="266" fill="none" stroke="#333" stroke-width="1.15"/>
<rect x="108" y="105.9" width="352" height="268.3" fill="#fff"/>
<clipPath id="cp0"><rect x="108" y="106.6" width="49.2" height="267.2"/><rect x="183.4" y="106.6" width="200.9" height="267.2"/><rect x="414.2" y="106.6" width="45.4" height="267.2"/></clipPath><filter id="cm0" color-interpolation-filters="sRGB" x="0" y="0" width="1" height="1"><feComponentTransfer in="SourceGraphic" result="b"><feFuncR type="linear" slope="3.0"/><feFuncG type="linear" slope="3.0"/><feFuncB type="linear" slope="3.0"/></feComponentTransfer><feTurbulence type="fractalNoise" baseFrequency="0.5 0.22" numOctaves="1" seed="3" result="n"/><feColorMatrix in="n" type="matrix" values="1 0 0 0 0  1 0 0 0 0  1 0 0 0 0  0 0 0 0 1" result="ng0"/><feComponentTransfer in="ng0" result="ng"><feFuncR type="gamma" amplitude="1.25" exponent="4" offset="0.1625"/><feFuncG type="gamma" amplitude="1.25" exponent="4" offset="0.1625"/><feFuncB type="gamma" amplitude="1.25" exponent="4" offset="0.1625"/></feComponentTransfer><feComposite in="b" in2="ng" operator="arithmetic" k1="3.813" k2="0" k3="0" k4="0"/><feComponentTransfer><feFuncR type="table" tableValues="1.000 1.000 0.996 0.996 0.996 0.925 0.800 0.600 0.400"/><feFuncG type="table" tableValues="1.000 0.969 0.890 0.769 0.600 0.439 0.298 0.204 0.145"/><feFuncB type="table" tableValues="0.898 0.737 0.569 0.310 0.161 0.078 0.008 0.016 0.024"/></feComponentTransfer></filter><g clip-path="url(#cp0)"><g filter="url(#cm0)"><g filter="url(#bl)"><rect x="75.5" y="88.2" width="28.8" height="38.3" fill="#606060"/><rect x="104" y="88.2" width="9.8" height="38.3" fill="#606060"/><rect x="113.5" y="88.2" width="9.8" height="38.3" fill="#404040"/><rect x="123" y="88.2" width="9.8" height="38.3" fill="#464646"/><rect x="132.5" y="88.2" width="9.8" height="38.3" fill="#404040"/><rect x="142" y="88.2" width="9.8" height="38.3" fill="#494949"/><rect x="151.5" y="88.2" width="9.8" height="38.3" fill="#262626"/><rect x="161" y="88.2" width="9.8" height="38.3" fill="#303030"/><rect x="170.5" y="88.2" width="9.8" height="38.3" fill="#464646"/><rect x="180" y="88.2" width="9.8" height="38.3" fill="#595959"/><rect x="189.5" y="88.2" width="9.8" height="38.3" fill="#4c4c4c"/><rect x="199" y="88.2" width="9.8" height="38.3" fill="#595959"/><rect x="208.5" y="88.2" width="9.8" height="38.3" fill="#858585"/><rect x="218" y="88.2" width="9.8" height="38.3" fill="#303030"/><rect x="227.5" y="88.2" width="9.8" height="38.3" fill="#393939"/><rect x="237" y="88.2" width="9.8" height="38.3" fill="#393939"/><rect x="246.5" y="88.2" width="9.8" height="38.3" fill="#303030"/><rect x="256" y="88.2" width="9.8" height="38.3" fill="#404040"/><rect x="265.5" y="88.2" width="9.8" height="38.3" fill="#747474"/><rect x="275" y="88.2" width="9.8" height="38.3" fill="#505050"/><rect x="284.5" y="88.2" width="9.8" height="38.3" fill="#1d1d1d"/><rect x="294" y="88.2" width="9.8" height="38.3" fill="#1d1d1d"/><rect x="303.5" y="88.2" width="9.8" height="38.3" fill="#161616"/><rect x="313" y="88.2" width="9.8" height="38.3" fill="#161616"/><rect x="322.5" y="88.2" width="9.8" height="38.3" fill="#161616"/><rect x="332" y="88.2" width="9.8" height="38.3" fill="#1d1d1d"/><rect x="341.5" y="88.2" width="9.8" height="38.3" fill="#1d1d1d"/><rect x="351" y="88.2" width="9.8" height="38.3" fill="#1d1d1d"/><rect x="360.5" y="88.2" width="9.8" height="38.3" fill="#1d1d1d"/><rect x="370" y="88.2" width="9.8" height="38.3" fill="#1d1d1d"/><rect x="379.5" y="88.2" width="9.8" height="38.3" fill="#1d1d1d"/><rect x="389" y="88.2" width="9.8" height="38.3" fill="#262626"/><rect x="398.5" y="88.2" width="9.8" height="38.3" fill="#393939"/><rect x="408" y="88.2" width="9.8" height="38.3" fill="#303030"/><rect x="417.5" y="88.2" width="9.8" height="38.3" fill="#363636"/><rect x="427" y="88.2" width="9.8" height="38.3" fill="#303030"/><rect x="436.5" y="88.2" width="9.8" height="38.3" fill="#505050"/><rect x="446" y="88.2" width="9.8" height="38.3" fill="#464646"/><rect x="455.5" y="88.2" width="9.8" height="38.3" fill="#262626"/><rect x="465" y="88.2" width="28.8" height="38.3" fill="#262626"/><rect x="75.5" y="126.2" width="28.8" height="19.3" fill="#606060"/><rect x="104" y="126.2" width="9.8" height="19.3" fill="#606060"/><rect x="113.5" y="126.2" width="9.8" height="19.3" fill="#404040"/><rect x="123" y="126.2" width="9.8" height="19.3" fill="#464646"/><rect x="132.5" y="126.2" width="9.8" height="19.3" fill="#404040"/><rect x="142" y="126.2" width="9.8" height="19.3" fill="#494949"/><rect x="151.5" y="126.2" width="9.8" height="19.3" fill="#262626"/><rect x="161" y="126.2" width="9.8" height="19.3" fill="#303030"/><rect x="170.5" y="126.2" width="9.8" height="19.3" fill="#464646"/><rect x="180" y="126.2" width="9.8" height="19.3" fill="#565656"/><rect x="189.5" y="126.2" width="9.8" height="19.3" fill="#464646"/><rect x="199" y="126.2" width="9.8" height="19.3" fill="#535353"/><rect x="208.5" y="126.2" width="9.8" height="19.3" fill="#858585"/><rect x="218" y="126.2" width="9.8" height="19.3" fill="#303030"/><rect x="227.5" y="126.2" width="9.8" height="19.3" fill="#393939"/><rect x="237" y="126.2" width="9.8" height="19.3" fill="#393939"/><rect x="246.5" y="126.2" width="9.8" height="19.3" fill="#303030"/><rect x="256" y="126.2" width="9.8" height="19.3" fill="#404040"/><rect x="265.5" y="126.2" width="9.8" height="19.3" fill="#747474"/><rect x="275" y="126.2" width="9.8" height="19.3" fill="#505050"/><rect x="284.5" y="126.2" width="9.8" height="19.3" fill="#1d1d1d"/><rect x="294" y="126.2" width="9.8" height="19.3" fill="#1d1d1d"/><rect x="303.5" y="126.2" width="9.8" height="19.3" fill="#161616"/><rect x="313" y="126.2" width="9.8" height="19.3" fill="#161616"/><rect x="322.5" y="126.2" width="9.8" height="19.3" fill="#161616"/><rect x="332" y="126.2" width="9.8" height="19.3" fill="#1d1d1d"/><rect x="341.5" y="126.2" width="9.8" height="19.3" fill="#1d1d1d"/><rect x="351" y="126.2" width="9.8" height="19.3" fill="#1d1d1d"/><rect x="360.5" y="126.2" width="9.8" height="19.3" fill="#1d1d1d"/><rect x="370" y="126.2" width="9.8" height="19.3" fill="#1d1d1d"/><rect x="379.5" y="126.2" width="9.8" height="19.3" fill="#1d1d1d"/><rect x="389" y="126.2" width="9.8" height="19.3" fill="#262626"/><rect x="398.5" y="126.2" width="9.8" height="19.3" fill="#393939"/><rect x="408" y="126.2" width="9.8" height="19.3" fill="#303030"/><rect x="417.5" y="126.2" width="9.8" height="19.3" fill="#363636"/><rect x="427" y="126.2" width="9.8" height="19.3" fill="#303030"/><rect x="436.5" y="126.2" width="9.8" height="19.3" fill="#494949"/><rect x="446" y="126.2" width="9.8" height="19.3" fill="#464646"/><rect x="455.5" y="126.2" width="9.8" height="19.3" fill="#262626"/><rect x="465" y="126.2" width="28.8" height="19.3" fill="#262626"/><rect x="75.5" y="145.2" width="28.8" height="19.3" fill="#606060"/><rect x="104" y="145.2" width="9.8" height="19.3" fill="#606060"/><rect x="113.5" y="145.2" width="9.8" height="19.3" fill="#404040"/><rect x="123" y="145.2" width="9.8" height="19.3" fill="#464646"/><rect x="132.5" y="145.2" width="9.8" height="19.3" fill="#404040"/><rect x="142" y="145.2" width="9.8" height="19.3" fill="#494949"/><rect x="151.5" y="145.2" width="9.8" height="19.3" fill="#262626"/><rect x="161" y="145.2" width="9.8" height="19.3" fill="#303030"/><rect x="170.5" y="145.2" width="9.8" height="19.3" fill="#464646"/><rect x="180" y="145.2" width="9.8" height="19.3" fill="#535353"/><rect x="189.5" y="145.2" width="9.8" height="19.3" fill="#404040"/><rect x="199" y="145.2" width="9.8" height="19.3" fill="#4c4c4c"/><rect x="208.5" y="145.2" width="9.8" height="19.3" fill="#858585"/><rect x="218" y="145.2" width="9.8" height="19.3" fill="#303030"/><rect x="227.5" y="145.2" width="9.8" height="19.3" fill="#393939"/><rect x="237" y="145.2" width="9.8" height="19.3" fill="#393939"/><rect x="246.5" y="145.2" width="9.8" height="19.3" fill="#333333"/><rect x="256" y="145.2" width="9.8" height="19.3" fill="#595959"/><rect x="265.5" y="145.2" width="9.8" height="19.3" fill="#747474"/><rect x="275" y="145.2" width="9.8" height="19.3" fill="#505050"/><rect x="284.5" y="145.2" width="9.8" height="19.3" fill="#1d1d1d"/><rect x="294" y="145.2" width="9.8" height="19.3" fill="#1d1d1d"/><rect x="303.5" y="145.2" width="9.8" height="19.3" fill="#161616"/><rect x="313" y="145.2" width="9.8" height="19.3" fill="#161616"/><rect x="322.5" y="145.2" width="9.8" height="19.3" fill="#161616"/><rect x="332" y="145.2" width="9.8" height="19.3" fill="#1d1d1d"/><rect x="341.5" y="145.2" width="9.8" height="19.3" fill="#1d1d1d"/><rect x="351" y="145.2" width="9.8" height="19.3" fill="#1d1d1d"/><rect x="360.5" y="145.2" width="9.8" height="19.3" fill="#1d1d1d"/><rect x="370" y="145.2" width="9.8" height="19.3" fill="#1d1d1d"/><rect x="379.5" y="145.2" width="9.8" height="19.3" fill="#1d1d1d"/><rect x="389" y="145.2" width="9.8" height="19.3" fill="#262626"/><rect x="398.5" y="145.2" width="9.8" height="19.3" fill="#393939"/><rect x="408" y="145.2" width="9.8" height="19.3" fill="#303030"/><rect x="417.5" y="145.2" width="9.8" height="19.3" fill="#363636"/><rect x="427" y="145.2" width="9.8" height="19.3" fill="#303030"/><rect x="436.5" y="145.2" width="9.8" height="19.3" fill="#434343"/><rect x="446" y="145.2" width="9.8" height="19.3" fill="#464646"/><rect x="455.5" y="145.2" width="9.8" height="19.3" fill="#262626"/><rect x="465" y="145.2" width="28.8" height="19.3" fill="#262626"/><rect x="75.5" y="164.2" width="28.8" height="19.3" fill="#606060"/><rect x="104" y="164.2" width="9.8" height="19.3" fill="#606060"/><rect x="113.5" y="164.2" width="9.8" height="19.3" fill="#404040"/><rect x="123" y="164.2" width="9.8" height="19.3" fill="#464646"/><rect x="132.5" y="164.2" width="9.8" height="19.3" fill="#434343"/><rect x="142" y="164.2" width="9.8" height="19.3" fill="#494949"/><rect x="151.5" y="164.2" width="9.8" height="19.3" fill="#262626"/><rect x="161" y="164.2" width="9.8" height="19.3" fill="#303030"/><rect x="170.5" y="164.2" width="9.8" height="19.3" fill="#464646"/><rect x="180" y="164.2" width="9.8" height="19.3" fill="#505050"/><rect x="189.5" y="164.2" width="9.8" height="19.3" fill="#393939"/><rect x="199" y="164.2" width="9.8" height="19.3" fill="#494949"/><rect x="208.5" y="164.2" width="9.8" height="19.3" fill="#858585"/><rect x="218" y="164.2" width="9.8" height="19.3" fill="#333333"/><rect x="227.5" y="164.2" width="9.8" height="19.3" fill="#393939"/><rect x="237" y="164.2" width="9.8" height="19.3" fill="#606060"/><rect x="246.5" y="164.2" width="9.8" height="19.3" fill="#404040"/><rect x="256" y="164.2" width="9.8" height="19.3" fill="#606060"/><rect x="265.5" y="164.2" width="9.8" height="19.3" fill="#747474"/><rect x="275" y="164.2" width="9.8" height="19.3" fill="#505050"/><rect x="284.5" y="164.2" width="9.8" height="19.3" fill="#1d1d1d"/><rect x="294" y="164.2" width="9.8" height="19.3" fill="#202020"/><rect x="303.5" y="164.2" width="9.8" height="19.3" fill="#1a1a1a"/><rect x="313" y="164.2" width="9.8" height="19.3" fill="#1a1a1a"/><rect x="322.5" y="164.2" width="9.8" height="19.3" fill="#1a1a1a"/><rect x="332" y="164.2" width="9.8" height="19.3" fill="#262626"/><rect x="341.5" y="164.2" width="9.8" height="19.3" fill="#262626"/><rect x="351" y="164.2" width="9.8" height="19.3" fill="#262626"/><rect x="360.5" y="164.2" width="9.8" height="19.3" fill="#262626"/><rect x="370" y="164.2" width="9.8" height="19.3" fill="#202020"/><rect x="379.5" y="164.2" width="9.8" height="19.3" fill="#1d1d1d"/><rect x="389" y="164.2" width="9.8" height="19.3" fill="#262626"/><rect x="398.5" y="164.2" width="9.8" height="19.3" fill="#393939"/><rect x="408" y="164.2" width="9.8" height="19.3" fill="#363636"/><rect x="417.5" y="164.2" width="9.8" height="19.3" fill="#464646"/><rect x="427" y="164.2" width="9.8" height="19.3" fill="#303030"/><rect x="436.5" y="164.2" width="9.8" height="19.3" fill="#363636"/><rect x="446" y="164.2" width="9.8" height="19.3" fill="#464646"/><rect x="455.5" y="164.2" width="9.8" height="19.3" fill="#262626"/><rect x="465" y="164.2" width="28.8" height="19.3" fill="#262626"/><rect x="75.5" y="183.2" width="28.8" height="19.3" fill="#595959"/><rect x="104" y="183.2" width="9.8" height="19.3" fill="#595959"/><rect x="113.5" y="183.2" width="9.8" height="19.3" fill="#404040"/><rect x="123" y="183.2" width="9.8" height="19.3" fill="#494949"/><rect x="132.5" y="183.2" width="9.8" height="19.3" fill="#494949"/><rect x="142" y="183.2" width="9.8" height="19.3" fill="#494949"/><rect x="151.5" y="183.2" width="9.8" height="19.3" fill="#262626"/><rect x="161" y="183.2" width="9.8" height="19.3" fill="#303030"/><rect x="170.5" y="183.2" width="9.8" height="19.3" fill="#464646"/><rect x="180" y="183.2" width="9.8" height="19.3" fill="#4c4c4c"/><rect x="189.5" y="183.2" width="9.8" height="19.3" fill="#333333"/><rect x="199" y="183.2" width="9.8" height="19.3" fill="#494949"/><rect x="208.5" y="183.2" width="9.8" height="19.3" fill="#858585"/><rect x="218" y="183.2" width="9.8" height="19.3" fill="#363636"/><rect x="227.5" y="183.2" width="9.8" height="19.3" fill="#404040"/><rect x="237" y="183.2" width="9.8" height="19.3" fill="#686868"/><rect x="246.5" y="183.2" width="9.8" height="19.3" fill="#404040"/><rect x="256" y="183.2" width="9.8" height="19.3" fill="#606060"/><rect x="265.5" y="183.2" width="9.8" height="19.3" fill="#747474"/><rect x="275" y="183.2" width="9.8" height="19.3" fill="#505050"/><rect x="284.5" y="183.2" width="9.8" height="19.3" fill="#202020"/><rect x="294" y="183.2" width="9.8" height="19.3" fill="#232323"/><rect x="303.5" y="183.2" width="9.8" height="19.3" fill="#1d1d1d"/><rect x="313" y="183.2" width="9.8" height="19.3" fill="#1d1d1d"/><rect x="322.5" y="183.2" width="9.8" height="19.3" fill="#202020"/><rect x="332" y="183.2" width="9.8" height="19.3" fill="#303030"/><rect x="341.5" y="183.2" width="9.8" height="19.3" fill="#363636"/><rect x="351" y="183.2" width="9.8" height="19.3" fill="#303030"/><rect x="360.5" y="183.2" width="9.8" height="19.3" fill="#303030"/><rect x="370" y="183.2" width="9.8" height="19.3" fill="#262626"/><rect x="379.5" y="183.2" width="9.8" height="19.3" fill="#1d1d1d"/><rect x="389" y="183.2" width="9.8" height="19.3" fill="#262626"/><rect x="398.5" y="183.2" width="9.8" height="19.3" fill="#393939"/><rect x="408" y="183.2" width="9.8" height="19.3" fill="#565656"/><rect x="417.5" y="183.2" width="9.8" height="19.3" fill="#565656"/><rect x="427" y="183.2" width="9.8" height="19.3" fill="#303030"/><rect x="436.5" y="183.2" width="9.8" height="19.3" fill="#303030"/><rect x="446" y="183.2" width="9.8" height="19.3" fill="#464646"/><rect x="455.5" y="183.2" width="9.8" height="19.3" fill="#262626"/><rect x="465" y="183.2" width="28.8" height="19.3" fill="#262626"/><rect x="75.5" y="202.2" width="28.8" height="19.3" fill="#535353"/><rect x="104" y="202.2" width="9.8" height="19.3" fill="#535353"/><rect x="113.5" y="202.2" width="9.8" height="19.3" fill="#434343"/><rect x="123" y="202.2" width="9.8" height="19.3" fill="#494949"/><rect x="132.5" y="202.2" width="9.8" height="19.3" fill="#494949"/><rect x="142" y="202.2" width="9.8" height="19.3" fill="#494949"/><rect x="151.5" y="202.2" width="9.8" height="19.3" fill="#262626"/><rect x="161" y="202.2" width="9.8" height="19.3" fill="#303030"/><rect x="170.5" y="202.2" width="9.8" height="19.3" fill="#464646"/><rect x="180" y="202.2" width="9.8" height="19.3" fill="#494949"/><rect x="189.5" y="202.2" width="9.8" height="19.3" fill="#303030"/><rect x="199" y="202.2" width="9.8" height="19.3" fill="#494949"/><rect x="208.5" y="202.2" width="9.8" height="19.3" fill="#858585"/><rect x="218" y="202.2" width="9.8" height="19.3" fill="#393939"/><rect x="227.5" y="202.2" width="9.8" height="19.3" fill="#494949"/><rect x="237" y="202.2" width="9.8" height="19.3" fill="#595959"/><rect x="246.5" y="202.2" width="9.8" height="19.3" fill="#505050"/><rect x="256" y="202.2" width="9.8" height="19.3" fill="#6c6c6c"/><rect x="265.5" y="202.2" width="9.8" height="19.3" fill="#9e9e9e"/><rect x="275" y="202.2" width="9.8" height="19.3" fill="#464646"/><rect x="284.5" y="202.2" width="9.8" height="19.3" fill="#202020"/><rect x="294" y="202.2" width="9.8" height="19.3" fill="#262626"/><rect x="303.5" y="202.2" width="9.8" height="19.3" fill="#202020"/><rect x="313" y="202.2" width="9.8" height="19.3" fill="#202020"/><rect x="322.5" y="202.2" width="9.8" height="19.3" fill="#262626"/><rect x="332" y="202.2" width="9.8" height="19.3" fill="#363636"/><rect x="341.5" y="202.2" width="9.8" height="19.3" fill="#3d3d3d"/><rect x="351" y="202.2" width="9.8" height="19.3" fill="#363636"/><rect x="360.5" y="202.2" width="9.8" height="19.3" fill="#303030"/><rect x="370" y="202.2" width="9.8" height="19.3" fill="#262626"/><rect x="379.5" y="202.2" width="9.8" height="19.3" fill="#1d1d1d"/><rect x="389" y="202.2" width="9.8" height="19.3" fill="#262626"/><rect x="398.5" y="202.2" width="9.8" height="19.3" fill="#393939"/><rect x="408" y="202.2" width="9.8" height="19.3" fill="#686868"/><rect x="417.5" y="202.2" width="9.8" height="19.3" fill="#565656"/><rect x="427" y="202.2" width="9.8" height="19.3" fill="#303030"/><rect x="436.5" y="202.2" width="9.8" height="19.3" fill="#303030"/><rect x="446" y="202.2" width="9.8" height="19.3" fill="#464646"/><rect x="455.5" y="202.2" width="9.8" height="19.3" fill="#262626"/><rect x="465" y="202.2" width="28.8" height="19.3" fill="#262626"/><rect x="75.5" y="221.2" width="28.8" height="19.3" fill="#505050"/><rect x="104" y="221.2" width="9.8" height="19.3" fill="#505050"/><rect x="113.5" y="221.2" width="9.8" height="19.3" fill="#404040"/><rect x="123" y="221.2" width="9.8" height="19.3" fill="#464646"/><rect x="132.5" y="221.2" width="9.8" height="19.3" fill="#494949"/><rect x="142" y="221.2" width="9.8" height="19.3" fill="#464646"/><rect x="151.5" y="221.2" width="9.8" height="19.3" fill="#262626"/><rect x="161" y="221.2" width="9.8" height="19.3" fill="#303030"/><rect x="170.5" y="221.2" width="9.8" height="19.3" fill="#464646"/><rect x="180" y="221.2" width="9.8" height="19.3" fill="#434343"/><rect x="189.5" y="221.2" width="9.8" height="19.3" fill="#303030"/><rect x="199" y="221.2" width="9.8" height="19.3" fill="#494949"/><rect x="208.5" y="221.2" width="9.8" height="19.3" fill="#818181"/><rect x="218" y="221.2" width="9.8" height="19.3" fill="#404040"/><rect x="227.5" y="221.2" width="9.8" height="19.3" fill="#505050"/><rect x="237" y="221.2" width="9.8" height="19.3" fill="#595959"/><rect x="246.5" y="221.2" width="9.8" height="19.3" fill="#606060"/><rect x="256" y="221.2" width="9.8" height="19.3" fill="#747474"/><rect x="265.5" y="221.2" width="9.8" height="19.3" fill="#c7c7c7"/><rect x="275" y="221.2" width="9.8" height="19.3" fill="#404040"/><rect x="284.5" y="221.2" width="9.8" height="19.3" fill="#202020"/><rect x="294" y="221.2" width="9.8" height="19.3" fill="#262626"/><rect x="303.5" y="221.2" width="9.8" height="19.3" fill="#202020"/><rect x="313" y="221.2" width="9.8" height="19.3" fill="#202020"/><rect x="322.5" y="221.2" width="9.8" height="19.3" fill="#262626"/><rect x="332" y="221.2" width="9.8" height="19.3" fill="#363636"/><rect x="341.5" y="221.2" width="9.8" height="19.3" fill="#3d3d3d"/><rect x="351" y="221.2" width="9.8" height="19.3" fill="#363636"/><rect x="360.5" y="221.2" width="9.8" height="19.3" fill="#303030"/><rect x="370" y="221.2" width="9.8" height="19.3" fill="#262626"/><rect x="379.5" y="221.2" width="9.8" height="19.3" fill="#1d1d1d"/><rect x="389" y="221.2" width="9.8" height="19.3" fill="#262626"/><rect x="398.5" y="221.2" width="9.8" height="19.3" fill="#393939"/><rect x="408" y="221.2" width="9.8" height="19.3" fill="#686868"/><rect x="417.5" y="221.2" width="9.8" height="19.3" fill="#565656"/><rect x="427" y="221.2" width="9.8" height="19.3" fill="#303030"/><rect x="436.5" y="221.2" width="9.8" height="19.3" fill="#303030"/><rect x="446" y="221.2" width="9.8" height="19.3" fill="#464646"/><rect x="455.5" y="221.2" width="9.8" height="19.3" fill="#262626"/><rect x="465" y="221.2" width="28.8" height="19.3" fill="#262626"/><rect x="75.5" y="240.2" width="28.8" height="19.3" fill="#505050"/><rect x="104" y="240.2" width="9.8" height="19.3" fill="#505050"/><rect x="113.5" y="240.2" width="9.8" height="19.3" fill="#404040"/><rect x="123" y="240.2" width="9.8" height="19.3" fill="#434343"/><rect x="132.5" y="240.2" width="9.8" height="19.3" fill="#464646"/><rect x="142" y="240.2" width="9.8" height="19.3" fill="#404040"/><rect x="151.5" y="240.2" width="9.8" height="19.3" fill="#262626"/><rect x="161" y="240.2" width="9.8" height="19.3" fill="#303030"/><rect x="170.5" y="240.2" width="9.8" height="19.3" fill="#464646"/><rect x="180" y="240.2" width="9.8" height="19.3" fill="#404040"/><rect x="189.5" y="240.2" width="9.8" height="19.3" fill="#303030"/><rect x="199" y="240.2" width="9.8" height="19.3" fill="#494949"/><rect x="208.5" y="240.2" width="9.8" height="19.3" fill="#7d7d7d"/><rect x="218" y="240.2" width="9.8" height="19.3" fill="#434343"/><rect x="227.5" y="240.2" width="9.8" height="19.3" fill="#505050"/><rect x="237" y="240.2" width="9.8" height="19.3" fill="#595959"/><rect x="246.5" y="240.2" width="9.8" height="19.3" fill="#606060"/><rect x="256" y="240.2" width="9.8" height="19.3" fill="#9e9e9e"/><rect x="265.5" y="240.2" width="9.8" height="19.3" fill="#dcdcdc"/><rect x="275" y="240.2" width="9.8" height="19.3" fill="#505050"/><rect x="284.5" y="240.2" width="9.8" height="19.3" fill="#262626"/><rect x="294" y="240.2" width="9.8" height="19.3" fill="#262626"/><rect x="303.5" y="240.2" width="9.8" height="19.3" fill="#232323"/><rect x="313" y="240.2" width="9.8" height="19.3" fill="#232323"/><rect x="322.5" y="240.2" width="9.8" height="19.3" fill="#292929"/><rect x="332" y="240.2" width="9.8" height="19.3" fill="#363636"/><rect x="341.5" y="240.2" width="9.8" height="19.3" fill="#3d3d3d"/><rect x="351" y="240.2" width="9.8" height="19.3" fill="#363636"/><rect x="360.5" y="240.2" width="9.8" height="19.3" fill="#303030"/><rect x="370" y="240.2" width="9.8" height="19.3" fill="#262626"/><rect x="379.5" y="240.2" width="9.8" height="19.3" fill="#1d1d1d"/><rect x="389" y="240.2" width="9.8" height="19.3" fill="#262626"/><rect x="398.5" y="240.2" width="9.8" height="19.3" fill="#393939"/><rect x="408" y="240.2" width="9.8" height="19.3" fill="#565656"/><rect x="417.5" y="240.2" width="9.8" height="19.3" fill="#565656"/><rect x="427" y="240.2" width="9.8" height="19.3" fill="#303030"/><rect x="436.5" y="240.2" width="9.8" height="19.3" fill="#303030"/><rect x="446" y="240.2" width="9.8" height="19.3" fill="#404040"/><rect x="455.5" y="240.2" width="9.8" height="19.3" fill="#262626"/><rect x="465" y="240.2" width="28.8" height="19.3" fill="#262626"/><rect x="75.5" y="259.2" width="28.8" height="19.3" fill="#4c4c4c"/><rect x="104" y="259.2" width="9.8" height="19.3" fill="#4c4c4c"/><rect x="113.5" y="259.2" width="9.8" height="19.3" fill="#3d3d3d"/><rect x="123" y="259.2" width="9.8" height="19.3" fill="#404040"/><rect x="132.5" y="259.2" width="9.8" height="19.3" fill="#434343"/><rect x="142" y="259.2" width="9.8" height="19.3" fill="#3d3d3d"/><rect x="151.5" y="259.2" width="9.8" height="19.3" fill="#262626"/><rect x="161" y="259.2" width="9.8" height="19.3" fill="#303030"/><rect x="170.5" y="259.2" width="9.8" height="19.3" fill="#464646"/><rect x="180" y="259.2" width="9.8" height="19.3" fill="#393939"/><rect x="189.5" y="259.2" width="9.8" height="19.3" fill="#303030"/><rect x="199" y="259.2" width="9.8" height="19.3" fill="#494949"/><rect x="208.5" y="259.2" width="9.8" height="19.3" fill="#787878"/><rect x="218" y="259.2" width="9.8" height="19.3" fill="#494949"/><rect x="227.5" y="259.2" width="9.8" height="19.3" fill="#535353"/><rect x="237" y="259.2" width="9.8" height="19.3" fill="#595959"/><rect x="246.5" y="259.2" width="9.8" height="19.3" fill="#606060"/><rect x="256" y="259.2" width="9.8" height="19.3" fill="#b2b2b2"/><rect x="265.5" y="259.2" width="9.8" height="19.3" fill="#f1f1f1"/><rect x="275" y="259.2" width="9.8" height="19.3" fill="#606060"/><rect x="284.5" y="259.2" width="9.8" height="19.3" fill="#303030"/><rect x="294" y="259.2" width="9.8" height="19.3" fill="#292929"/><rect x="303.5" y="259.2" width="9.8" height="19.3" fill="#262626"/><rect x="313" y="259.2" width="9.8" height="19.3" fill="#262626"/><rect x="322.5" y="259.2" width="9.8" height="19.3" fill="#303030"/><rect x="332" y="259.2" width="9.8" height="19.3" fill="#363636"/><rect x="341.5" y="259.2" width="9.8" height="19.3" fill="#3d3d3d"/><rect x="351" y="259.2" width="9.8" height="19.3" fill="#363636"/><rect x="360.5" y="259.2" width="9.8" height="19.3" fill="#303030"/><rect x="370" y="259.2" width="9.8" height="19.3" fill="#262626"/><rect x="379.5" y="259.2" width="9.8" height="19.3" fill="#1d1d1d"/><rect x="389" y="259.2" width="9.8" height="19.3" fill="#262626"/><rect x="398.5" y="259.2" width="9.8" height="19.3" fill="#393939"/><rect x="408" y="259.2" width="9.8" height="19.3" fill="#464646"/><rect x="417.5" y="259.2" width="9.8" height="19.3" fill="#464646"/><rect x="427" y="259.2" width="9.8" height="19.3" fill="#262626"/><rect x="436.5" y="259.2" width="9.8" height="19.3" fill="#303030"/><rect x="446" y="259.2" width="9.8" height="19.3" fill="#363636"/><rect x="455.5" y="259.2" width="9.8" height="19.3" fill="#262626"/><rect x="465" y="259.2" width="28.8" height="19.3" fill="#262626"/><rect x="75.5" y="278.2" width="28.8" height="19.3" fill="#494949"/><rect x="104" y="278.2" width="9.8" height="19.3" fill="#494949"/><rect x="113.5" y="278.2" width="9.8" height="19.3" fill="#3d3d3d"/><rect x="123" y="278.2" width="9.8" height="19.3" fill="#404040"/><rect x="132.5" y="278.2" width="9.8" height="19.3" fill="#404040"/><rect x="142" y="278.2" width="9.8" height="19.3" fill="#393939"/><rect x="151.5" y="278.2" width="9.8" height="19.3" fill="#262626"/><rect x="161" y="278.2" width="9.8" height="19.3" fill="#303030"/><rect x="170.5" y="278.2" width="9.8" height="19.3" fill="#464646"/><rect x="180" y="278.2" width="9.8" height="19.3" fill="#393939"/><rect x="189.5" y="278.2" width="9.8" height="19.3" fill="#303030"/><rect x="199" y="278.2" width="9.8" height="19.3" fill="#494949"/><rect x="208.5" y="278.2" width="9.8" height="19.3" fill="#787878"/><rect x="218" y="278.2" width="9.8" height="19.3" fill="#505050"/><rect x="227.5" y="278.2" width="9.8" height="19.3" fill="#565656"/><rect x="237" y="278.2" width="9.8" height="19.3" fill="#595959"/><rect x="246.5" y="278.2" width="9.8" height="19.3" fill="#707070"/><rect x="256" y="278.2" width="9.8" height="19.3" fill="#bbbbbb"/><rect x="265.5" y="278.2" width="9.8" height="19.3" fill="#f1f1f1"/><rect x="275" y="278.2" width="9.8" height="19.3" fill="#686868"/><rect x="284.5" y="278.2" width="9.8" height="19.3" fill="#363636"/><rect x="294" y="278.2" width="9.8" height="19.3" fill="#303030"/><rect x="303.5" y="278.2" width="9.8" height="19.3" fill="#292929"/><rect x="313" y="278.2" width="9.8" height="19.3" fill="#292929"/><rect x="322.5" y="278.2" width="9.8" height="19.3" fill="#363636"/><rect x="332" y="278.2" width="9.8" height="19.3" fill="#363636"/><rect x="341.5" y="278.2" width="9.8" height="19.3" fill="#363636"/><rect x="351" y="278.2" width="9.8" height="19.3" fill="#363636"/><rect x="360.5" y="278.2" width="9.8" height="19.3" fill="#303030"/><rect x="370" y="278.2" width="9.8" height="19.3" fill="#262626"/><rect x="379.5" y="278.2" width="9.8" height="19.3" fill="#1d1d1d"/><rect x="389" y="278.2" width="9.8" height="19.3" fill="#262626"/><rect x="398.5" y="278.2" width="9.8" height="19.3" fill="#393939"/><rect x="408" y="278.2" width="9.8" height="19.3" fill="#363636"/><rect x="417.5" y="278.2" width="9.8" height="19.3" fill="#363636"/><rect x="427" y="278.2" width="9.8" height="19.3" fill="#262626"/><rect x="436.5" y="278.2" width="9.8" height="19.3" fill="#292929"/><rect x="446" y="278.2" width="9.8" height="19.3" fill="#303030"/><rect x="455.5" y="278.2" width="9.8" height="19.3" fill="#262626"/><rect x="465" y="278.2" width="28.8" height="19.3" fill="#262626"/><rect x="75.5" y="297.2" width="28.8" height="19.3" fill="#494949"/><rect x="104" y="297.2" width="9.8" height="19.3" fill="#494949"/><rect x="113.5" y="297.2" width="9.8" height="19.3" fill="#3d3d3d"/><rect x="123" y="297.2" width="9.8" height="19.3" fill="#404040"/><rect x="132.5" y="297.2" width="9.8" height="19.3" fill="#404040"/><rect x="142" y="297.2" width="9.8" height="19.3" fill="#393939"/><rect x="151.5" y="297.2" width="9.8" height="19.3" fill="#262626"/><rect x="161" y="297.2" width="9.8" height="19.3" fill="#303030"/><rect x="170.5" y="297.2" width="9.8" height="19.3" fill="#464646"/><rect x="180" y="297.2" width="9.8" height="19.3" fill="#393939"/><rect x="189.5" y="297.2" width="9.8" height="19.3" fill="#303030"/><rect x="199" y="297.2" width="9.8" height="19.3" fill="#494949"/><rect x="208.5" y="297.2" width="9.8" height="19.3" fill="#747474"/><rect x="218" y="297.2" width="9.8" height="19.3" fill="#595959"/><rect x="227.5" y="297.2" width="9.8" height="19.3" fill="#5c5c5c"/><rect x="237" y="297.2" width="9.8" height="19.3" fill="#6c6c6c"/><rect x="246.5" y="297.2" width="9.8" height="19.3" fill="#9e9e9e"/><rect x="256" y="297.2" width="9.8" height="19.3" fill="#dcdcdc"/><rect x="265.5" y="297.2" width="9.8" height="19.3" fill="#ffffff"/><rect x="275" y="297.2" width="9.8" height="19.3" fill="#898989"/><rect x="284.5" y="297.2" width="9.8" height="19.3" fill="#363636"/><rect x="294" y="297.2" width="9.8" height="19.3" fill="#363636"/><rect x="303.5" y="297.2" width="9.8" height="19.3" fill="#303030"/><rect x="313" y="297.2" width="9.8" height="19.3" fill="#303030"/><rect x="322.5" y="297.2" width="9.8" height="19.3" fill="#3d3d3d"/><rect x="332" y="297.2" width="9.8" height="19.3" fill="#363636"/><rect x="341.5" y="297.2" width="9.8" height="19.3" fill="#363636"/><rect x="351" y="297.2" width="9.8" height="19.3" fill="#363636"/><rect x="360.5" y="297.2" width="9.8" height="19.3" fill="#303030"/><rect x="370" y="297.2" width="9.8" height="19.3" fill="#262626"/><rect x="379.5" y="297.2" width="9.8" height="19.3" fill="#1d1d1d"/><rect x="389" y="297.2" width="9.8" height="19.3" fill="#262626"/><rect x="398.5" y="297.2" width="9.8" height="19.3" fill="#393939"/><rect x="408" y="297.2" width="9.8" height="19.3" fill="#262626"/><rect x="417.5" y="297.2" width="9.8" height="19.3" fill="#262626"/><rect x="427" y="297.2" width="9.8" height="19.3" fill="#262626"/><rect x="436.5" y="297.2" width="9.8" height="19.3" fill="#262626"/><rect x="446" y="297.2" width="9.8" height="19.3" fill="#303030"/><rect x="455.5" y="297.2" width="9.8" height="19.3" fill="#262626"/><rect x="465" y="297.2" width="28.8" height="19.3" fill="#262626"/><rect x="75.5" y="316.2" width="28.8" height="19.3" fill="#464646"/><rect x="104" y="316.2" width="9.8" height="19.3" fill="#464646"/><rect x="113.5" y="316.2" width="9.8" height="19.3" fill="#393939"/><rect x="123" y="316.2" width="9.8" height="19.3" fill="#404040"/><rect x="132.5" y="316.2" width="9.8" height="19.3" fill="#404040"/><rect x="142" y="316.2" width="9.8" height="19.3" fill="#393939"/><rect x="151.5" y="316.2" width="9.8" height="19.3" fill="#262626"/><rect x="161" y="316.2" width="9.8" height="19.3" fill="#303030"/><rect x="170.5" y="316.2" width="9.8" height="19.3" fill="#464646"/><rect x="180" y="316.2" width="9.8" height="19.3" fill="#393939"/><rect x="189.5" y="316.2" width="9.8" height="19.3" fill="#303030"/><rect x="199" y="316.2" width="9.8" height="19.3" fill="#494949"/><rect x="208.5" y="316.2" width="9.8" height="19.3" fill="#707070"/><rect x="218" y="316.2" width="9.8" height="19.3" fill="#606060"/><rect x="227.5" y="316.2" width="9.8" height="19.3" fill="#606060"/><rect x="237" y="316.2" width="9.8" height="19.3" fill="#818181"/><rect x="246.5" y="316.2" width="9.8" height="19.3" fill="#aaaaaa"/><rect x="256" y="316.2" width="9.8" height="19.3" fill="#f1f1f1"/><rect x="265.5" y="316.2" width="9.8" height="19.3" fill="#ffffff"/><rect x="275" y="316.2" width="9.8" height="19.3" fill="#9e9e9e"/><rect x="284.5" y="316.2" width="9.8" height="19.3" fill="#363636"/><rect x="294" y="316.2" width="9.8" height="19.3" fill="#363636"/><rect x="303.5" y="316.2" width="9.8" height="19.3" fill="#303030"/><rect x="313" y="316.2" width="9.8" height="19.3" fill="#303030"/><rect x="322.5" y="316.2" width="9.8" height="19.3" fill="#3d3d3d"/><rect x="332" y="316.2" width="9.8" height="19.3" fill="#363636"/><rect x="341.5" y="316.2" width="9.8" height="19.3" fill="#363636"/><rect x="351" y="316.2" width="9.8" height="19.3" fill="#363636"/><rect x="360.5" y="316.2" width="9.8" height="19.3" fill="#303030"/><rect x="370" y="316.2" width="9.8" height="19.3" fill="#262626"/><rect x="379.5" y="316.2" width="9.8" height="19.3" fill="#1d1d1d"/><rect x="389" y="316.2" width="9.8" height="19.3" fill="#262626"/><rect x="398.5" y="316.2" width="9.8" height="19.3" fill="#393939"/><rect x="408" y="316.2" width="9.8" height="19.3" fill="#262626"/><rect x="417.5" y="316.2" width="9.8" height="19.3" fill="#262626"/><rect x="427" y="316.2" width="9.8" height="19.3" fill="#262626"/><rect x="436.5" y="316.2" width="9.8" height="19.3" fill="#262626"/><rect x="446" y="316.2" width="9.8" height="19.3" fill="#303030"/><rect x="455.5" y="316.2" width="9.8" height="19.3" fill="#262626"/><rect x="465" y="316.2" width="28.8" height="19.3" fill="#262626"/><rect x="75.5" y="335.2" width="28.8" height="19.3" fill="#464646"/><rect x="104" y="335.2" width="9.8" height="19.3" fill="#464646"/><rect x="113.5" y="335.2" width="9.8" height="19.3" fill="#393939"/><rect x="123" y="335.2" width="9.8" height="19.3" fill="#404040"/><rect x="132.5" y="335.2" width="9.8" height="19.3" fill="#404040"/><rect x="142" y="335.2" width="9.8" height="19.3" fill="#393939"/><rect x="151.5" y="335.2" width="9.8" height="19.3" fill="#262626"/><rect x="161" y="335.2" width="9.8" height="19.3" fill="#303030"/><rect x="170.5" y="335.2" width="9.8" height="19.3" fill="#464646"/><rect x="180" y="335.2" width="9.8" height="19.3" fill="#363636"/><rect x="189.5" y="335.2" width="9.8" height="19.3" fill="#303030"/><rect x="199" y="335.2" width="9.8" height="19.3" fill="#494949"/><rect x="208.5" y="335.2" width="9.8" height="19.3" fill="#6c6c6c"/><rect x="218" y="335.2" width="9.8" height="19.3" fill="#686868"/><rect x="227.5" y="335.2" width="9.8" height="19.3" fill="#646464"/><rect x="237" y="335.2" width="9.8" height="19.3" fill="#898989"/><rect x="246.5" y="335.2" width="9.8" height="19.3" fill="#b2b2b2"/><rect x="256" y="335.2" width="9.8" height="19.3" fill="#f1f1f1"/><rect x="265.5" y="335.2" width="9.8" height="19.3" fill="#ffffff"/><rect x="275" y="335.2" width="9.8" height="19.3" fill="#9e9e9e"/><rect x="284.5" y="335.2" width="9.8" height="19.3" fill="#363636"/><rect x="294" y="335.2" width="9.8" height="19.3" fill="#363636"/><rect x="303.5" y="335.2" width="9.8" height="19.3" fill="#303030"/><rect x="313" y="335.2" width="9.8" height="19.3" fill="#303030"/><rect x="322.5" y="335.2" width="9.8" height="19.3" fill="#3d3d3d"/><rect x="332" y="335.2" width="9.8" height="19.3" fill="#363636"/><rect x="341.5" y="335.2" width="9.8" height="19.3" fill="#363636"/><rect x="351" y="335.2" width="9.8" height="19.3" fill="#363636"/><rect x="360.5" y="335.2" width="9.8" height="19.3" fill="#303030"/><rect x="370" y="335.2" width="9.8" height="19.3" fill="#262626"/><rect x="379.5" y="335.2" width="9.8" height="19.3" fill="#1d1d1d"/><rect x="389" y="335.2" width="9.8" height="19.3" fill="#262626"/><rect x="398.5" y="335.2" width="9.8" height="19.3" fill="#393939"/><rect x="408" y="335.2" width="9.8" height="19.3" fill="#262626"/><rect x="417.5" y="335.2" width="9.8" height="19.3" fill="#262626"/><rect x="427" y="335.2" width="9.8" height="19.3" fill="#262626"/><rect x="436.5" y="335.2" width="9.8" height="19.3" fill="#262626"/><rect x="446" y="335.2" width="9.8" height="19.3" fill="#303030"/><rect x="455.5" y="335.2" width="9.8" height="19.3" fill="#262626"/><rect x="465" y="335.2" width="28.8" height="19.3" fill="#262626"/><rect x="75.5" y="354.2" width="28.8" height="38.3" fill="#464646"/><rect x="104" y="354.2" width="9.8" height="38.3" fill="#464646"/><rect x="113.5" y="354.2" width="9.8" height="38.3" fill="#393939"/><rect x="123" y="354.2" width="9.8" height="38.3" fill="#404040"/><rect x="132.5" y="354.2" width="9.8" height="38.3" fill="#404040"/><rect x="142" y="354.2" width="9.8" height="38.3" fill="#393939"/><rect x="151.5" y="354.2" width="9.8" height="38.3" fill="#262626"/><rect x="161" y="354.2" width="9.8" height="38.3" fill="#303030"/><rect x="170.5" y="354.2" width="9.8" height="38.3" fill="#464646"/><rect x="180" y="354.2" width="9.8" height="38.3" fill="#363636"/><rect x="189.5" y="354.2" width="9.8" height="38.3" fill="#303030"/><rect x="199" y="354.2" width="9.8" height="38.3" fill="#494949"/><rect x="208.5" y="354.2" width="9.8" height="38.3" fill="#686868"/><rect x="218" y="354.2" width="9.8" height="38.3" fill="#707070"/><rect x="227.5" y="354.2" width="9.8" height="38.3" fill="#686868"/><rect x="237" y="354.2" width="9.8" height="38.3" fill="#898989"/><rect x="246.5" y="354.2" width="9.8" height="38.3" fill="#b2b2b2"/><rect x="256" y="354.2" width="9.8" height="38.3" fill="#e8e8e8"/><rect x="265.5" y="354.2" width="9.8" height="38.3" fill="#dcdcdc"/><rect x="275" y="354.2" width="9.8" height="38.3" fill="#9e9e9e"/><rect x="284.5" y="354.2" width="9.8" height="38.3" fill="#363636"/><rect x="294" y="354.2" width="9.8" height="38.3" fill="#363636"/><rect x="303.5" y="354.2" width="9.8" height="38.3" fill="#303030"/><rect x="313" y="354.2" width="9.8" height="38.3" fill="#303030"/><rect x="322.5" y="354.2" width="9.8" height="38.3" fill="#3d3d3d"/><rect x="332" y="354.2" width="9.8" height="38.3" fill="#363636"/><rect x="341.5" y="354.2" width="9.8" height="38.3" fill="#363636"/><rect x="351" y="354.2" width="9.8" height="38.3" fill="#363636"/><rect x="360.5" y="354.2" width="9.8" height="38.3" fill="#303030"/><rect x="370" y="354.2" width="9.8" height="38.3" fill="#262626"/><rect x="379.5" y="354.2" width="9.8" height="38.3" fill="#1d1d1d"/><rect x="389" y="354.2" width="9.8" height="38.3" fill="#262626"/><rect x="398.5" y="354.2" width="9.8" height="38.3" fill="#393939"/><rect x="408" y="354.2" width="9.8" height="38.3" fill="#262626"/><rect x="417.5" y="354.2" width="9.8" height="38.3" fill="#262626"/><rect x="427" y="354.2" width="9.8" height="38.3" fill="#262626"/><rect x="436.5" y="354.2" width="9.8" height="38.3" fill="#262626"/><rect x="446" y="354.2" width="9.8" height="38.3" fill="#303030"/><rect x="455.5" y="354.2" width="9.8" height="38.3" fill="#262626"/><rect x="465" y="354.2" width="28.8" height="38.3" fill="#262626"/><path d="M205 107.2L214.5 107.2L221 373.2L209 373.2z" fill="#919191"/><path d="M236 175.2L250 175.2L250 237.2L236 237.2z" fill="#787878"/><path d="M262 220.2L272 220.2L271.5 300.2L260 300.2z" fill="#e4e4e4"/><path d="M260 300.2L271.5 300.2L271 373.2L258 373.2z" fill="#ffffff"/><path d="M238 315.2L258 315.2L258 373.2L237 373.2z" fill="#c7c7c7"/><path d="M272 240.2L283 240.2L283 373.2L271.5 373.2z" fill="#959595"/></g><path d="M102 106.2h1.64l5 268h-1.64z" fill-opacity="0.898"/><path d="M103.54 106.2h1.66l5 268h-1.66z" fill-opacity="0.806"/><path d="M105.1 106.2h1.71l5 268h-1.71z" fill-opacity="0.776"/><path d="M106.71 106.2h1.71l5 268h-1.71z" fill-opacity="0.751"/><path d="M108.33 106.2h1.86l5 268h-1.86z" fill-opacity="0.688"/><path d="M110.08 106.2h1.46l5 268h-1.46z" fill-opacity="0.763"/><path d="M111.45 106.2h1.21l5 268h-1.21z" fill-opacity="0.610"/><path d="M112.55 106.2h1.15l5 268h-1.15z" fill-opacity="0.856"/><path d="M113.6 106.2h2.28l5 268h-2.28z" fill-opacity="0.401"/><path d="M115.78 106.2h1.84l5 268h-1.84z" fill-opacity="0.749"/><path d="M117.52 106.2h1.29l5 268h-1.29z" fill-opacity="0.458"/><path d="M118.71 106.2h1.17l5 268h-1.17z" fill-opacity="0.688"/><path d="M119.78 106.2h1.33l5 268h-1.33z" fill-opacity="0.704"/><path d="M121.01 106.2h1.66l5 268h-1.66z" fill-opacity="0.667"/><path d="M122.57 106.2h1.63l5 268h-1.63z" fill-opacity="0.590"/><path d="M124.1 106.2h1.87l5 268h-1.87z" fill-opacity="0.823"/><path d="M125.86 106.2h1.7l5 268h-1.7z" fill-opacity="0.780"/><path d="M127.46 106.2h1.43l5 268h-1.43z" fill-opacity="0.816"/><path d="M128.8 106.2h2.3l5 268h-2.3z" fill-opacity="0.234"/><path d="M130.99 106.2h1.95l5 268h-1.95z" fill-opacity="0.713"/><path d="M132.84 106.2h1.48l5 268h-1.48z" fill-opacity="0.690"/><path d="M134.22 106.2h1.18l5 268h-1.18z" fill-opacity="0.557"/><path d="M135.31 106.2h2.02l5 268h-2.02z" fill-opacity="0.866"/><path d="M137.23 106.2h1.56l5 268h-1.56z" fill-opacity="0.481"/><path d="M138.69 106.2h2.25l5 268h-2.25z" fill-opacity="0.703"/><path d="M140.84 106.2h1.35l5 268h-1.35z" fill-opacity="0.710"/><path d="M142.09 106.2h2.19l5 268h-2.19z" fill-opacity="0.926"/><path d="M144.18 106.2h1.58l5 268h-1.58z" fill-opacity="0.617"/><path d="M145.66 106.2h1.19l5 268h-1.19z" fill-opacity="0.838"/><path d="M146.75 106.2h1.42l5 268h-1.42z" fill-opacity="0.843"/><path d="M148.07 106.2h1.2l5 268h-1.2z" fill-opacity="0.845"/><path d="M149.18 106.2h2.01l5 268h-2.01z" fill-opacity="0.200"/><path d="M151.09 106.2h1.24l5 268h-1.24z" fill-opacity="0.704"/><path d="M152.23 106.2h1.17l5 268h-1.17z" fill-opacity="0.629"/><path d="M153.3 106.2h2.06l5 268h-2.06z" fill-opacity="0.610"/><path d="M155.26 106.2h1.64l5 268h-1.64z" fill-opacity="0.477"/><path d="M156.79 106.2h1.33l5 268h-1.33z" fill-opacity="0.715"/><path d="M158.02 106.2h1.87l5 268h-1.87z" fill-opacity="0.774"/><path d="M177.4 106.2h1.24l5 268h-1.24z" fill-opacity="0.783"/><path d="M178.54 106.2h1.42l5 268h-1.42z" fill-opacity="0.653"/><path d="M179.86 106.2h2.27l5 268h-2.27z" fill-opacity="0.662"/><path d="M182.03 106.2h2.16l5 268h-2.16z" fill-opacity="0.803"/><path d="M184.09 106.2h1.35l5 268h-1.35z" fill-opacity="0.864"/><path d="M185.34 106.2h1.87l5 268h-1.87z" fill-opacity="0.461"/><path d="M187.11 106.2h1.22l5 268h-1.22z" fill-opacity="0.584"/><path d="M188.23 106.2h1.41l5 268h-1.41z" fill-opacity="0.713"/><path d="M189.54 106.2h2.03l5 268h-2.03z" fill-opacity="0.759"/><path d="M191.47 106.2h1.19l5 268h-1.19z" fill-opacity="0.575"/><path d="M192.56 106.2h1.21l5 268h-1.21z" fill-opacity="0.787"/><path d="M193.67 106.2h1.82l5 268h-1.82z" fill-opacity="0.756"/><path d="M195.39 106.2h1.55l5 268h-1.55z" fill-opacity="0.912"/><path d="M196.83 106.2h1.68l5 268h-1.68z" fill-opacity="0.576"/><path d="M198.42 106.2h1.79l5 268h-1.79z" fill-opacity="0.636"/><path d="M200.1 106.2h1.28l5 268h-1.28z" fill-opacity="0.768"/><path d="M201.29 106.2h2.19l5 268h-2.19z" fill-opacity="0.656"/><path d="M203.38 106.2h1.33l5 268h-1.33z" fill-opacity="0.792"/><path d="M204.61 106.2h1.99l5 268h-1.99z" fill-opacity="0.600"/><path d="M206.5 106.2h2.24l5 268h-2.24z" fill-opacity="0.739"/><path d="M208.64 106.2h2.16l5 268h-2.16z" fill-opacity="0.806"/><path d="M210.69 106.2h1.22l5 268h-1.22z" fill-opacity="0.786"/><path d="M211.82 106.2h1.15l5 268h-1.15z" fill-opacity="0.579"/><path d="M212.86 106.2h1.95l5 268h-1.95z" fill-opacity="0.730"/><path d="M214.71 106.2h1.41l5 268h-1.41z" fill-opacity="0.603"/><path d="M216.02 106.2h1.45l5 268h-1.45z" fill-opacity="0.839"/><path d="M217.37 106.2h1.31l5 268h-1.31z" fill-opacity="0.716"/><path d="M218.58 106.2h1.37l5 268h-1.37z" fill-opacity="0.756"/><path d="M219.86 106.2h1.77l5 268h-1.77z" fill-opacity="0.555"/><path d="M221.53 106.2h1.44l5 268h-1.44z" fill-opacity="0.831"/><path d="M222.86 106.2h2.2l5 268h-2.2z" fill-opacity="0.698"/><path d="M224.96 106.2h1.42l5 268h-1.42z" fill-opacity="0.679"/><path d="M226.29 106.2h1.63l5 268h-1.63z" fill-opacity="0.607"/><path d="M227.82 106.2h1.54l5 268h-1.54z" fill-opacity="0.670"/><path d="M229.26 106.2h1.79l5 268h-1.79z" fill-opacity="0.594"/><path d="M230.95 106.2h2.17l5 268h-2.17z" fill-opacity="0.583"/><path d="M233.02 106.2h2.28l5 268h-2.28z" fill-opacity="0.807"/><path d="M235.2 106.2h1.8l5 268h-1.8z" fill-opacity="0.845"/><path d="M236.9 106.2h1.27l5 268h-1.27z" fill-opacity="0.677"/><path d="M238.07 106.2h2.19l5 268h-2.19z" fill-opacity="0.700"/><path d="M240.16 106.2h1.94l5 268h-1.94z" fill-opacity="0.675"/><path d="M242 106.2h1.86l5 268h-1.86z" fill-opacity="0.713"/><path d="M243.76 106.2h1.68l5 268h-1.68z" fill-opacity="0.721"/><path d="M245.34 106.2h2.3l5 268h-2.3z" fill-opacity="0.810"/><path d="M247.54 106.2h1.19l5 268h-1.19z" fill-opacity="0.866"/><path d="M248.63 106.2h2.18l5 268h-2.18z" fill-opacity="0.767"/><path d="M250.71 106.2h1.98l5 268h-1.98z" fill-opacity="0.772"/><path d="M252.6 106.2h2.2l5 268h-2.2z" fill-opacity="0.874"/><path d="M254.69 106.2h1.52l5 268h-1.52z" fill-opacity="0.808"/><path d="M256.12 106.2h2.15l5 268h-2.15z" fill-opacity="0.890"/><path d="M258.16 106.2h1.6l5 268h-1.6z" fill-opacity="0.622"/><path d="M259.66 106.2h1.79l5 268h-1.79z" fill-opacity="0.888"/><path d="M261.35 106.2h1.85l5 268h-1.85z" fill-opacity="0.820"/><path d="M263.1 106.2h1.83l5 268h-1.83z" fill-opacity="0.541"/><path d="M264.83 106.2h1.2l5 268h-1.2z" fill-opacity="0.893"/><path d="M265.93 106.2h2.16l5 268h-2.16z" fill-opacity="0.913"/><path d="M267.98 106.2h1.97l5 268h-1.97z" fill-opacity="0.842"/><path d="M269.86 106.2h1.8l5 268h-1.8z" fill-opacity="0.502"/><path d="M271.55 106.2h1.63l5 268h-1.63z" fill-opacity="0.672"/><path d="M273.08 106.2h2l5 268h-2z" fill-opacity="0.754"/><path d="M274.98 106.2h1.14l5 268h-1.14z" fill-opacity="0.814"/><path d="M276.02 106.2h1.38l5 268h-1.38z" fill-opacity="0.791"/><path d="M277.29 106.2h1.94l5 268h-1.94z" fill-opacity="0.852"/><path d="M279.13 106.2h2.2l5 268h-2.2z" fill-opacity="0.702"/><path d="M281.24 106.2h1.41l5 268h-1.41z" fill-opacity="0.551"/><path d="M282.54 106.2h1.91l5 268h-1.91z" fill-opacity="0.697"/><path d="M284.36 106.2h1.34l5 268h-1.34z" fill-opacity="0.502"/><path d="M285.6 106.2h1.89l5 268h-1.89z" fill-opacity="0.239"/><path d="M287.39 106.2h1.63l5 268h-1.63z" fill-opacity="0.584"/><path d="M288.92 106.2h1.9l5 268h-1.9z" fill-opacity="0.778"/><path d="M290.72 106.2h1.34l5 268h-1.34z" fill-opacity="0.871"/><path d="M291.96 106.2h2.2l5 268h-2.2z" fill-opacity="0.569"/><path d="M294.06 106.2h2.16l5 268h-2.16z" fill-opacity="0.821"/><path d="M296.11 106.2h1.48l5 268h-1.48z" fill-opacity="0.544"/><path d="M297.49 106.2h1.26l5 268h-1.26z" fill-opacity="0.886"/><path d="M298.66 106.2h2.12l5 268h-2.12z" fill-opacity="0.700"/><path d="M300.68 106.2h1.95l5 268h-1.95z" fill-opacity="0.569"/><path d="M302.53 106.2h1.3l5 268h-1.3z" fill-opacity="0.740"/><path d="M303.73 106.2h1.64l5 268h-1.64z" fill-opacity="0.721"/><path d="M305.27 106.2h1.6l5 268h-1.6z" fill-opacity="0.586"/><path d="M306.77 106.2h1.85l5 268h-1.85z" fill-opacity="0.810"/><path d="M308.52 106.2h2.11l5 268h-2.11z" fill-opacity="0.701"/><path d="M310.53 106.2h2.28l5 268h-2.28z" fill-opacity="0.756"/><path d="M312.71 106.2h1.14l5 268h-1.14z" fill-opacity="0.688"/><path d="M313.74 106.2h2.15l5 268h-2.15z" fill-opacity="0.372"/><path d="M315.79 106.2h1.78l5 268h-1.78z" fill-opacity="0.640"/><path d="M317.48 106.2h1.47l5 268h-1.47z" fill-opacity="0.698"/><path d="M318.85 106.2h1.26l5 268h-1.26z" fill-opacity="0.732"/><path d="M320.01 106.2h1.65l5 268h-1.65z" fill-opacity="0.255"/><path d="M321.55 106.2h1.38l5 268h-1.38z" fill-opacity="0.660"/><path d="M322.84 106.2h1.27l5 268h-1.27z" fill-opacity="0.423"/><path d="M324.01 106.2h1.64l5 268h-1.64z" fill-opacity="0.639"/><path d="M325.54 106.2h1.86l5 268h-1.86z" fill-opacity="0.823"/><path d="M327.3 106.2h2.25l5 268h-2.25z" fill-opacity="0.861"/><path d="M329.45 106.2h1.92l5 268h-1.92z" fill-opacity="0.649"/><path d="M331.27 106.2h1.31l5 268h-1.31z" fill-opacity="0.496"/><path d="M332.49 106.2h1.11l5 268h-1.11z" fill-opacity="0.865"/><path d="M333.5 106.2h1.31l5 268h-1.31z" fill-opacity="0.662"/><path d="M334.71 106.2h1.43l5 268h-1.43z" fill-opacity="0.810"/><path d="M336.04 106.2h1.72l5 268h-1.72z" fill-opacity="0.444"/><path d="M337.67 106.2h1.84l5 268h-1.84z" fill-opacity="0.700"/><path d="M339.4 106.2h2.05l5 268h-2.05z" fill-opacity="0.822"/><path d="M341.35 106.2h2.19l5 268h-2.19z" fill-opacity="0.207"/><path d="M343.44 106.2h1.97l5 268h-1.97z" fill-opacity="0.461"/><path d="M345.31 106.2h1.26l5 268h-1.26z" fill-opacity="0.850"/><path d="M346.46 106.2h2.19l5 268h-2.19z" fill-opacity="0.640"/><path d="M348.56 106.2h1.55l5 268h-1.55z" fill-opacity="0.884"/><path d="M350.01 106.2h2.06l5 268h-2.06z" fill-opacity="0.809"/><path d="M351.96 106.2h2.23l5 268h-2.23z" fill-opacity="0.855"/><path d="M354.1 106.2h1.35l5 268h-1.35z" fill-opacity="0.653"/><path d="M355.34 106.2h1.97l5 268h-1.97z" fill-opacity="0.604"/><path d="M357.21 106.2h1.96l5 268h-1.96z" fill-opacity="0.847"/><path d="M359.07 106.2h1.36l5 268h-1.36z" fill-opacity="0.200"/><path d="M360.33 106.2h2.27l5 268h-2.27z" fill-opacity="0.871"/><path d="M362.5 106.2h1.74l5 268h-1.74z" fill-opacity="0.671"/><path d="M364.14 106.2h2.19l5 268h-2.19z" fill-opacity="0.808"/><path d="M366.24 106.2h2.13l5 268h-2.13z" fill-opacity="0.739"/><path d="M368.26 106.2h1.63l5 268h-1.63z" fill-opacity="0.652"/><path d="M369.79 106.2h1.76l5 268h-1.76z" fill-opacity="0.686"/><path d="M371.45 106.2h1.13l5 268h-1.13z" fill-opacity="0.834"/><path d="M372.49 106.2h2.07l5 268h-2.07z" fill-opacity="0.329"/><path d="M374.46 106.2h1.31l5 268h-1.31z" fill-opacity="0.582"/><path d="M375.66 106.2h1.5l5 268h-1.5z" fill-opacity="0.686"/><path d="M377.07 106.2h1.28l5 268h-1.28z" fill-opacity="0.775"/><path d="M378.24 106.2h1.72l5 268h-1.72z" fill-opacity="0.749"/><path d="M379.86 106.2h1.93l5 268h-1.93z" fill-opacity="0.886"/><path d="M381.69 106.2h2.23l5 268h-2.23z" fill-opacity="0.913"/><path d="M383.83 106.2h1.2l5 268h-1.2z" fill-opacity="0.689"/><path d="M384.93 106.2h1.37l5 268h-1.37z" fill-opacity="0.804"/><path d="M408.2 106.2h1.97l5 268h-1.97z" fill-opacity="0.725"/><path d="M410.07 106.2h1.87l5 268h-1.87z" fill-opacity="0.887"/><path d="M411.84 106.2h1.77l5 268h-1.77z" fill-opacity="0.744"/><path d="M413.51 106.2h1.47l5 268h-1.47z" fill-opacity="0.855"/><path d="M414.89 106.2h2.18l5 268h-2.18z" fill-opacity="0.433"/><path d="M416.97 106.2h1.35l5 268h-1.35z" fill-opacity="0.360"/><path d="M418.22 106.2h1.73l5 268h-1.73z" fill-opacity="0.898"/><path d="M419.85 106.2h1.79l5 268h-1.79z" fill-opacity="0.645"/><path d="M421.53 106.2h1.7l5 268h-1.7z" fill-opacity="0.469"/><path d="M423.14 106.2h1.83l5 268h-1.83z" fill-opacity="0.200"/><path d="M424.86 106.2h1.72l5 268h-1.72z" fill-opacity="0.630"/><path d="M426.48 106.2h1.58l5 268h-1.58z" fill-opacity="0.640"/><path d="M427.96 106.2h1.69l5 268h-1.69z" fill-opacity="0.840"/><path d="M429.55 106.2h1.93l5 268h-1.93z" fill-opacity="0.480"/><path d="M431.38 106.2h1.6l5 268h-1.6z" fill-opacity="0.622"/><path d="M432.88 106.2h2.25l5 268h-2.25z" fill-opacity="0.582"/><path d="M435.03 106.2h1.67l5 268h-1.67z" fill-opacity="0.755"/><path d="M436.6 106.2h1.25l5 268h-1.25z" fill-opacity="0.873"/><path d="M437.75 106.2h2.18l5 268h-2.18z" fill-opacity="0.573"/><path d="M439.83 106.2h1.67l5 268h-1.67z" fill-opacity="0.743"/><path d="M441.4 106.2h1.84l5 268h-1.84z" fill-opacity="0.604"/><path d="M443.14 106.2h2.21l5 268h-2.21z" fill-opacity="0.466"/><path d="M445.25 106.2h1.13l5 268h-1.13z" fill-opacity="0.447"/><path d="M446.28 106.2h1.33l5 268h-1.33z" fill-opacity="0.672"/><path d="M447.51 106.2h1.49l5 268h-1.49z" fill-opacity="0.375"/><path d="M448.9 106.2h1.53l5 268h-1.53z" fill-opacity="0.752"/><path d="M450.33 106.2h1.98l5 268h-1.98z" fill-opacity="0.750"/><path d="M452.2 106.2h1.25l5 268h-1.25z" fill-opacity="0.799"/><path d="M453.35 106.2h1.34l5 268h-1.34z" fill-opacity="0.713"/><path d="M454.59 106.2h1.74l5 268h-1.74z" fill-opacity="0.812"/><path d="M456.22 106.2h1.6l5 268h-1.6z" fill-opacity="0.645"/><path d="M457.72 106.2h1.74l5 268h-1.74z" fill-opacity="0.647"/><path d="M459.35 106.2h1.86l5 268h-1.86z" fill-opacity="0.609"/><path d="M264.5 202.2L270.5 202.2L268 373.8L262 373.8z" fill="#464646"/><path d="M262.5 307.2L269.5 307.2L268 373.8L261 373.8z" fill="#4e4e4e"/></g></g>
<g transform="translate(0 107.2)" clip-path="url(#pbox)"><use href="#ct"/></g>
<text x="82.8" y="364.2" font-size="21.7" text-anchor="end">-60</text>
<text x="82.8" y="326.2" font-size="21.7" text-anchor="end">-40</text>
<text x="82.8" y="288.2" font-size="21.7" text-anchor="end">-20</text>
<text x="82.8" y="250.2" font-size="21.7" text-anchor="end">0</text>
<text x="82.8" y="212.2" font-size="21.7" text-anchor="end">20</text>
<text x="82.8" y="174.2" font-size="21.7" text-anchor="end">40</text>
<text x="82.8" y="136.2" font-size="21.7" text-anchor="end">60</text>
<text x="151.5" y="412.6" font-size="21.5" text-anchor="middle">100</text>
<text x="246.5" y="412.6" font-size="21.5" text-anchor="middle">150</text>
<text x="341.5" y="412.6" font-size="21.5" text-anchor="middle">200</text>
<text x="436.5" y="412.6" font-size="21.5" text-anchor="middle">250</text>
<text x="531.5" y="412.6" font-size="21.5" text-anchor="middle">300</text>
<text x="322.6" y="445.5" font-size="21.2" text-anchor="middle">East Longitude [deg.]</text>
<text transform="translate(29.0 240.2) rotate(-90)" font-size="21.1" text-anchor="middle">Latitude [deg.]</text>
<rect x="566.4" y="107.2" width="15.4" height="266" fill="url(#cb)" stroke="#555" stroke-width="1"/>
<text x="322.6" y="512.8" font-size="26.3" text-anchor="middle">(b) Reflected ion flux</text>
<path d="M94.5 794h-2.5M550.5 794h2.5M94.5 784.5h-2.5M550.5 784.5h2.5M94.5 775h-4.5M550.5 775h4.5M94.5 765.5h-2.5M550.5 765.5h2.5M94.5 756h-2.5M550.5 756h2.5M94.5 746.5h-2.5M550.5 746.5h2.5M94.5 737h-4.5M550.5 737h4.5M94.5 727.5h-2.5M550.5 727.5h2.5M94.5 718h-2.5M550.5 718h2.5M94.5 708.5h-2.5M550.5 708.5h2.5M94.5 699h-4.5M550.5 699h4.5M94.5 689.5h-2.5M550.5 689.5h2.5M94.5 680h-2.5M550.5 680h2.5M94.5 670.5h-2.5M550.5 670.5h2.5M94.5 661h-4.5M550.5 661h4.5M94.5 651.5h-2.5M550.5 651.5h2.5M94.5 642h-2.5M550.5 642h2.5M94.5 632.5h-2.5M550.5 632.5h2.5M94.5 623h-4.5M550.5 623h4.5M94.5 613.5h-2.5M550.5 613.5h2.5M94.5 604h-2.5M550.5 604h2.5M94.5 594.5h-2.5M550.5 594.5h2.5M94.5 585h-4.5M550.5 585h4.5M94.5 575.5h-2.5M550.5 575.5h2.5M94.5 566h-2.5M550.5 566h2.5M94.5 556.5h-2.5M550.5 556.5h2.5M94.5 547h-4.5M550.5 547h4.5M94.5 537.5h-2.5M550.5 537.5h2.5M94.5 528h-2.5M550.5 528h2.5M94.5 794v2.5M94.5 528v-2.5M113.5 794v2.5M113.5 528v-2.5M132.5 794v2.5M132.5 528v-2.5M151.5 794v4.0M151.5 528v-4.0M170.5 794v2.5M170.5 528v-2.5M189.5 794v2.5M189.5 528v-2.5M208.5 794v2.5M208.5 528v-2.5M227.5 794v2.5M227.5 528v-2.5M246.5 794v4.0M246.5 528v-4.0M265.5 794v2.5M265.5 528v-2.5M284.5 794v2.5M284.5 528v-2.5M303.5 794v2.5M303.5 528v-2.5M322.5 794v2.5M322.5 528v-2.5M341.5 794v4.0M341.5 528v-4.0M360.5 794v2.5M360.5 528v-2.5M379.5 794v2.5M379.5 528v-2.5M398.5 794v2.5M398.5 528v-2.5M417.5 794v2.5M417.5 528v-2.5M436.5 794v4.0M436.5 528v-4.0M455.5 794v2.5M455.5 528v-2.5M474.5 794v2.5M474.5 528v-2.5M493.5 794v2.5M493.5 528v-2.5M512.5 794v2.5M512.5 528v-2.5M531.5 794v4.0M531.5 528v-4.0M550.5 794v2.5M550.5 528v-2.5" stroke="#333" stroke-width="1" fill="none"/>
<rect x="94.5" y="528" width="456" height="266" fill="none" stroke="#333" stroke-width="1.15"/>
<rect x="108" y="526.7" width="352" height="268.3" fill="#fff"/>
<defs><linearGradient id="g1" x1="0" y1="0" x2="0" y2="1"><stop offset="0.036" stop-color="#2b2b2b"/><stop offset="0.107" stop-color="#2b2b2b"/><stop offset="0.179" stop-color="#2e2e2e"/><stop offset="0.250" stop-color="#5d5d5d"/><stop offset="0.321" stop-color="#848484"/><stop offset="0.393" stop-color="#4d4d4d"/><stop offset="0.464" stop-color="#353535"/><stop offset="0.536" stop-color="#313131"/><stop offset="0.607" stop-color="#313131"/><stop offset="0.679" stop-color="#454545"/><stop offset="0.750" stop-color="#4d4d4d"/><stop offset="0.821" stop-color="#414141"/><stop offset="0.893" stop-color="#4d4d4d"/><stop offset="0.964" stop-color="#555555"/></linearGradient><linearGradient id="g2" x1="0" y1="0" x2="0" y2="1"><stop offset="0.036" stop-color="#2b2b2b"/><stop offset="0.107" stop-color="#2b2b2b"/><stop offset="0.179" stop-color="#2b2b2b"/><stop offset="0.250" stop-color="#454545"/><stop offset="0.321" stop-color="#999999"/><stop offset="0.393" stop-color="#848484"/><stop offset="0.464" stop-color="#383838"/><stop offset="0.536" stop-color="#313131"/><stop offset="0.607" stop-color="#313131"/><stop offset="0.679" stop-color="#5d5d5d"/><stop offset="0.750" stop-color="#6c6c6c"/><stop offset="0.821" stop-color="#414141"/><stop offset="0.893" stop-color="#4d4d4d"/><stop offset="0.964" stop-color="#555555"/></linearGradient><linearGradient id="g3" x1="0" y1="0" x2="0" y2="1"><stop offset="0.036" stop-color="#2b2b2b"/><stop offset="0.107" stop-color="#2b2b2b"/><stop offset="0.179" stop-color="#2b2b2b"/><stop offset="0.250" stop-color="#383838"/><stop offset="0.321" stop-color="#8c8c8c"/><stop offset="0.393" stop-color="#939393"/><stop offset="0.464" stop-color="#454545"/><stop offset="0.536" stop-color="#313131"/><stop offset="0.607" stop-color="#313131"/><stop offset="0.679" stop-color="#555555"/><stop offset="0.750" stop-color="#747474"/><stop offset="0.821" stop-color="#414141"/><stop offset="0.893" stop-color="#4d4d4d"/><stop offset="0.964" stop-color="#555555"/></linearGradient><linearGradient id="g4" x1="0" y1="0" x2="0" y2="1"><stop offset="0.036" stop-color="#2b2b2b"/><stop offset="0.107" stop-color="#2b2b2b"/><stop offset="0.179" stop-color="#2b2b2b"/><stop offset="0.250" stop-color="#313131"/><stop offset="0.321" stop-color="#747474"/><stop offset="0.393" stop-color="#6c6c6c"/><stop offset="0.464" stop-color="#383838"/><stop offset="0.536" stop-color="#313131"/><stop offset="0.607" stop-color="#2b2b2b"/><stop offset="0.679" stop-color="#2b2b2b"/><stop offset="0.750" stop-color="#313131"/><stop offset="0.821" stop-color="#3e3e3e"/><stop offset="0.893" stop-color="#3e3e3e"/><stop offset="0.964" stop-color="#383838"/></linearGradient><linearGradient id="g5" x1="0" y1="0" x2="0" y2="1"><stop offset="0.036" stop-color="#2b2b2b"/><stop offset="0.107" stop-color="#2b2b2b"/><stop offset="0.179" stop-color="#2b2b2b"/><stop offset="0.250" stop-color="#2e2e2e"/><stop offset="0.321" stop-color="#646464"/><stop offset="0.393" stop-color="#7c7c7c"/><stop offset="0.464" stop-color="#646464"/><stop offset="0.536" stop-color="#313131"/><stop offset="0.607" stop-color="#2b2b2b"/><stop offset="0.679" stop-color="#2b2b2b"/><stop offset="0.750" stop-color="#313131"/><stop offset="0.821" stop-color="#3e3e3e"/><stop offset="0.893" stop-color="#3e3e3e"/><stop offset="0.964" stop-color="#383838"/></linearGradient><linearGradient id="g6" x1="0" y1="0" x2="0" y2="1"><stop offset="0.036" stop-color="#2b2b2b"/><stop offset="0.107" stop-color="#2b2b2b"/><stop offset="0.179" stop-color="#2b2b2b"/><stop offset="0.250" stop-color="#2b2b2b"/><stop offset="0.321" stop-color="#4d4d4d"/><stop offset="0.393" stop-color="#646464"/><stop offset="0.464" stop-color="#747474"/><stop offset="0.536" stop-color="#383838"/><stop offset="0.607" stop-color="#2b2b2b"/><stop offset="0.679" stop-color="#2b2b2b"/><stop offset="0.750" stop-color="#313131"/><stop offset="0.821" stop-color="#3e3e3e"/><stop offset="0.893" stop-color="#3e3e3e"/><stop offset="0.964" stop-color="#383838"/></linearGradient><linearGradient id="g7" x1="0" y1="0" x2="0" y2="1"><stop offset="0.036" stop-color="#4d4d4d"/><stop offset="0.107" stop-color="#2e2e2e"/><stop offset="0.179" stop-color="#2b2b2b"/><stop offset="0.250" stop-color="#2b2b2b"/><stop offset="0.321" stop-color="#2b2b2b"/><stop offset="0.393" stop-color="#2b2b2b"/><stop offset="0.464" stop-color="#2b2b2b"/><stop offset="0.536" stop-color="#2b2b2b"/><stop offset="0.607" stop-color="#313131"/><stop offset="0.679" stop-color="#383838"/><stop offset="0.750" stop-color="#3e3e3e"/><stop offset="0.821" stop-color="#4d4d4d"/><stop offset="0.893" stop-color="#555555"/><stop offset="0.964" stop-color="#555555"/></linearGradient><linearGradient id="g8" x1="0" y1="0" x2="0" y2="1"><stop offset="0.036" stop-color="#646464"/><stop offset="0.107" stop-color="#313131"/><stop offset="0.179" stop-color="#2b2b2b"/><stop offset="0.250" stop-color="#2b2b2b"/><stop offset="0.321" stop-color="#2b2b2b"/><stop offset="0.393" stop-color="#2b2b2b"/><stop offset="0.464" stop-color="#2b2b2b"/><stop offset="0.536" stop-color="#2b2b2b"/><stop offset="0.607" stop-color="#313131"/><stop offset="0.679" stop-color="#383838"/><stop offset="0.750" stop-color="#454545"/><stop offset="0.821" stop-color="#616161"/><stop offset="0.893" stop-color="#6c6c6c"/><stop offset="0.964" stop-color="#6c6c6c"/></linearGradient><linearGradient id="g9" x1="0" y1="0" x2="0" y2="1"><stop offset="0.036" stop-color="#383838"/><stop offset="0.107" stop-color="#383838"/><stop offset="0.179" stop-color="#383838"/><stop offset="0.250" stop-color="#383838"/><stop offset="0.321" stop-color="#3b3b3b"/><stop offset="0.393" stop-color="#3e3e3e"/><stop offset="0.464" stop-color="#454545"/><stop offset="0.536" stop-color="#555555"/><stop offset="0.607" stop-color="#686868"/><stop offset="0.679" stop-color="#848484"/><stop offset="0.750" stop-color="#a6a6a6"/><stop offset="0.821" stop-color="#afafaf"/><stop offset="0.893" stop-color="#afafaf"/><stop offset="0.964" stop-color="#afafaf"/></linearGradient><linearGradient id="g10" x1="0" y1="0" x2="0" y2="1"><stop offset="0.036" stop-color="#383838"/><stop offset="0.107" stop-color="#383838"/><stop offset="0.179" stop-color="#383838"/><stop offset="0.250" stop-color="#383838"/><stop offset="0.321" stop-color="#3e3e3e"/><stop offset="0.393" stop-color="#494949"/><stop offset="0.464" stop-color="#616161"/><stop offset="0.536" stop-color="#848484"/><stop offset="0.607" stop-color="#9f9f9f"/><stop offset="0.679" stop-color="#b2b2b2"/><stop offset="0.750" stop-color="#bfbfbf"/><stop offset="0.821" stop-color="#bfbfbf"/><stop offset="0.893" stop-color="#bfbfbf"/><stop offset="0.964" stop-color="#bfbfbf"/></linearGradient><linearGradient id="g11" x1="0" y1="0" x2="0" y2="1"><stop offset="0.036" stop-color="#555555"/><stop offset="0.107" stop-color="#555555"/><stop offset="0.179" stop-color="#555555"/><stop offset="0.250" stop-color="#555555"/><stop offset="0.321" stop-color="#616161"/><stop offset="0.393" stop-color="#747474"/><stop offset="0.464" stop-color="#a6a6a6"/><stop offset="0.536" stop-color="#bfbfbf"/><stop offset="0.607" stop-color="#c9c9c9"/><stop offset="0.679" stop-color="#cfcfcf"/><stop offset="0.750" stop-color="#cfcfcf"/><stop offset="0.821" stop-color="#c6c6c6"/><stop offset="0.893" stop-color="#bfbfbf"/><stop offset="0.964" stop-color="#bfbfbf"/></linearGradient><linearGradient id="g12" x1="0" y1="0" x2="0" y2="1"><stop offset="0.036" stop-color="#181818"/><stop offset="0.107" stop-color="#181818"/><stop offset="0.179" stop-color="#181818"/><stop offset="0.250" stop-color="#181818"/><stop offset="0.321" stop-color="#181818"/><stop offset="0.393" stop-color="#181818"/><stop offset="0.464" stop-color="#212121"/><stop offset="0.536" stop-color="#313131"/><stop offset="0.607" stop-color="#686868"/><stop offset="0.679" stop-color="#747474"/><stop offset="0.750" stop-color="#686868"/><stop offset="0.821" stop-color="#5d5d5d"/><stop offset="0.893" stop-color="#4d4d4d"/><stop offset="0.964" stop-color="#414141"/></linearGradient><linearGradient id="g13" x1="0" y1="0" x2="0" y2="1"><stop offset="0.036" stop-color="#181818"/><stop offset="0.107" stop-color="#181818"/><stop offset="0.179" stop-color="#212121"/><stop offset="0.250" stop-color="#212121"/><stop offset="0.321" stop-color="#212121"/><stop offset="0.393" stop-color="#212121"/><stop offset="0.464" stop-color="#2b2b2b"/><stop offset="0.536" stop-color="#383838"/><stop offset="0.607" stop-color="#414141"/><stop offset="0.679" stop-color="#414141"/><stop offset="0.750" stop-color="#4d4d4d"/><stop offset="0.821" stop-color="#5d5d5d"/><stop offset="0.893" stop-color="#686868"/><stop offset="0.964" stop-color="#555555"/></linearGradient><linearGradient id="g14" x1="0" y1="0" x2="0" y2="1"><stop offset="0.036" stop-color="#121212"/><stop offset="0.107" stop-color="#121212"/><stop offset="0.179" stop-color="#181818"/><stop offset="0.250" stop-color="#181818"/><stop offset="0.321" stop-color="#181818"/><stop offset="0.393" stop-color="#212121"/><stop offset="0.464" stop-color="#2b2b2b"/><stop offset="0.536" stop-color="#313131"/><stop offset="0.607" stop-color="#383838"/><stop offset="0.679" stop-color="#3b3b3b"/><stop offset="0.750" stop-color="#454545"/><stop offset="0.821" stop-color="#616161"/><stop offset="0.893" stop-color="#555555"/><stop offset="0.964" stop-color="#383838"/></linearGradient><linearGradient id="g15" x1="0" y1="0" x2="0" y2="1"><stop offset="0.036" stop-color="#212121"/><stop offset="0.107" stop-color="#212121"/><stop offset="0.179" stop-color="#212121"/><stop offset="0.250" stop-color="#212121"/><stop offset="0.321" stop-color="#212121"/><stop offset="0.393" stop-color="#212121"/><stop offset="0.464" stop-color="#212121"/><stop offset="0.536" stop-color="#2b2b2b"/><stop offset="0.607" stop-color="#313131"/><stop offset="0.679" stop-color="#313131"/><stop offset="0.750" stop-color="#313131"/><stop offset="0.821" stop-color="#383838"/><stop offset="0.893" stop-color="#414141"/><stop offset="0.964" stop-color="#414141"/></linearGradient><linearGradient id="g16" x1="0" y1="0" x2="0" y2="1"><stop offset="0.036" stop-color="#313131"/><stop offset="0.107" stop-color="#313131"/><stop offset="0.179" stop-color="#313131"/><stop offset="0.250" stop-color="#2e2e2e"/><stop offset="0.321" stop-color="#2b2b2b"/><stop offset="0.393" stop-color="#2b2b2b"/><stop offset="0.464" stop-color="#2b2b2b"/><stop offset="0.536" stop-color="#2b2b2b"/><stop offset="0.607" stop-color="#4d4d4d"/><stop offset="0.679" stop-color="#2b2b2b"/><stop offset="0.750" stop-color="#282828"/><stop offset="0.821" stop-color="#282828"/><stop offset="0.893" stop-color="#282828"/><stop offset="0.964" stop-color="#282828"/></linearGradient><linearGradient id="g17" x1="0" y1="0" x2="0" y2="1"><stop offset="0.036" stop-color="#555555"/><stop offset="0.107" stop-color="#555555"/><stop offset="0.179" stop-color="#555555"/><stop offset="0.250" stop-color="#555555"/><stop offset="0.321" stop-color="#555555"/><stop offset="0.393" stop-color="#555555"/><stop offset="0.464" stop-color="#555555"/><stop offset="0.536" stop-color="#555555"/><stop offset="0.607" stop-color="#555555"/><stop offset="0.679" stop-color="#555555"/><stop offset="0.750" stop-color="#555555"/><stop offset="0.821" stop-color="#555555"/><stop offset="0.893" stop-color="#555555"/><stop offset="0.964" stop-color="#4d4d4d"/></linearGradient><linearGradient id="g18" x1="0" y1="0" x2="0" y2="1"><stop offset="0.036" stop-color="#3e3e3e"/><stop offset="0.107" stop-color="#3e3e3e"/><stop offset="0.179" stop-color="#3e3e3e"/><stop offset="0.250" stop-color="#3e3e3e"/><stop offset="0.321" stop-color="#3e3e3e"/><stop offset="0.393" stop-color="#414141"/><stop offset="0.464" stop-color="#414141"/><stop offset="0.536" stop-color="#414141"/><stop offset="0.607" stop-color="#414141"/><stop offset="0.679" stop-color="#414141"/><stop offset="0.750" stop-color="#414141"/><stop offset="0.821" stop-color="#414141"/><stop offset="0.893" stop-color="#414141"/><stop offset="0.964" stop-color="#3b3b3b"/></linearGradient><linearGradient id="g19" x1="0" y1="0" x2="0" y2="1"><stop offset="0.036" stop-color="#383838"/><stop offset="0.107" stop-color="#383838"/><stop offset="0.179" stop-color="#383838"/><stop offset="0.250" stop-color="#383838"/><stop offset="0.321" stop-color="#383838"/><stop offset="0.393" stop-color="#3b3b3b"/><stop offset="0.464" stop-color="#3b3b3b"/><stop offset="0.536" stop-color="#3b3b3b"/><stop offset="0.607" stop-color="#3b3b3b"/><stop offset="0.679" stop-color="#3b3b3b"/><stop offset="0.750" stop-color="#3b3b3b"/><stop offset="0.821" stop-color="#3b3b3b"/><stop offset="0.893" stop-color="#3b3b3b"/><stop offset="0.964" stop-color="#383838"/></linearGradient></defs><clipPath id="cp1"><path d="M108 527.4L139.4 527.4L139.4 794.6L108 794.6z"/><path d="M151.2 527.4L187.3 527.4L185.8 794.6L151.2 794.6z"/><path d="M200 527.4L237.5 527.4L231.5 794.6L199 794.6z"/><path d="M249.6 527.4L286 527.4L276.5 794.6L241.4 794.6z"/><path d="M296.5 527.4L307.6 527.4L299.4 794.6L287.6 794.6z"/><path d="M319.5 527.4L331.3 527.4L322 794.6L310.3 794.6z"/><path d="M342.8 527.4L355.1 527.4L344.7 794.6L333 794.6z"/><path d="M365.5 527.4L376.6 527.4L367.4 794.6L356.5 794.6z"/><path d="M415.3 527.4L421.7 527.4L420 794.6L414 794.6z"/><path d="M433.3 527.4L458.8 527.4L459.9 794.6L431.6 794.6z"/></clipPath><filter id="cm1" color-interpolation-filters="sRGB" x="0" y="0" width="1" height="1"><feComponentTransfer in="SourceGraphic" result="b"><feFuncR type="linear" slope="1.6"/><feFuncG type="linear" slope="1.6"/><feFuncB type="linear" slope="1.6"/></feComponentTransfer><feTurbulence type="fractalNoise" baseFrequency="0.6 0.35" numOctaves="2" seed="5" result="n"/><feColorMatrix in="n" type="matrix" values="1 0 0 0 0  1 0 0 0 0  1 0 0 0 0  0 0 0 0 1" result="ng"/><feComposite in="b" in2="ng" operator="arithmetic" k1="0.5" k2="0.75" k3="0" k4="0"/><feComponentTransfer><feFuncR type="table" tableValues="1.000 1.000 0.996 0.996 0.996 0.925 0.800 0.600 0.400"/><feFuncG type="table" tableValues="1.000 0.969 0.890 0.769 0.600 0.439 0.298 0.204 0.145"/><feFuncB type="table" tableValues="0.898 0.737 0.569 0.310 0.161 0.078 0.008 0.016 0.024"/></feComponentTransfer></filter><g clip-path="url(#cp1)"><g filter="url(#cm1)"><g transform="matrix(1 0 0.00000 1 -0 0)"><rect x="104" y="527" width="14.67" height="268" fill="url(#g1)"/><rect x="118.47" y="527" width="10.67" height="268" fill="url(#g2)"/><rect x="128.93" y="527" width="14.67" height="268" fill="url(#g3)"/><rect x="104" y="527" width="1.35" height="268" fill-opacity="0.410"/><rect x="105.25" y="527" width="1.82" height="268" fill-opacity="0.455"/><rect x="106.97" y="527" width="1.42" height="268" fill-opacity="0.347"/><rect x="108.29" y="527" width="1.87" height="268" fill-opacity="0.478"/><rect x="110.06" y="527" width="1.86" height="268" fill-opacity="0.378"/><rect x="111.82" y="527" width="1.66" height="268" fill-opacity="0.373"/><rect x="113.37" y="527" width="1.98" height="268" fill-opacity="0.269"/><rect x="115.25" y="527" width="1.45" height="268" fill-opacity="0.330"/><rect x="116.6" y="527" width="1.45" height="268" fill-opacity="0.131"/><rect x="117.95" y="527" width="2.21" height="268" fill-opacity="0.319"/><rect x="120.06" y="527" width="2.41" height="268" fill-opacity="0.390"/><rect x="122.37" y="527" width="1.59" height="268" fill-opacity="0.389"/><rect x="123.86" y="527" width="1.85" height="268" fill-opacity="0.252"/><rect x="125.61" y="527" width="1.65" height="268" fill-opacity="0.267"/><rect x="127.16" y="527" width="1.33" height="268" fill-opacity="0.365"/><rect x="128.39" y="527" width="2.49" height="268" fill-opacity="0.407"/><rect x="130.79" y="527" width="1.78" height="268" fill-opacity="0.430"/><rect x="132.47" y="527" width="1.83" height="268" fill-opacity="0.396"/><rect x="134.19" y="527" width="1.38" height="268" fill-opacity="0.244"/><rect x="135.47" y="527" width="1.45" height="268" fill-opacity="0.349"/><rect x="136.82" y="527" width="2.27" height="268" fill-opacity="0.335"/><rect x="139" y="527" width="2.44" height="268" fill-opacity="0.198"/><rect x="141.34" y="527" width="2.23" height="268" fill-opacity="0.371"/></g><g transform="matrix(1 0 -0.00282 1 1.49 0)"><rect x="147.2" y="527" width="15.98" height="268" fill="url(#g4)"/><rect x="162.98" y="527" width="11.98" height="268" fill="url(#g5)"/><rect x="174.77" y="527" width="15.98" height="268" fill="url(#g6)"/><rect x="147.2" y="527" width="2.19" height="268" fill-opacity="0.455"/><rect x="149.29" y="527" width="1.28" height="268" fill-opacity="0.483"/><rect x="150.48" y="527" width="1.4" height="268" fill-opacity="0.361"/><rect x="151.78" y="527" width="2.48" height="268" fill-opacity="0.328"/><rect x="154.16" y="527" width="1.65" height="268" fill-opacity="0.418"/><rect x="155.71" y="527" width="1.78" height="268" fill-opacity="0.513"/><rect x="157.39" y="527" width="1.68" height="268" fill-opacity="0.230"/><rect x="158.97" y="527" width="1.14" height="268" fill-opacity="0.290"/><rect x="160.01" y="527" width="2.59" height="268" fill-opacity="0.321"/><rect x="162.5" y="527" width="1.84" height="268" fill-opacity="0.452"/><rect x="164.24" y="527" width="2.22" height="268" fill-opacity="0.374"/><rect x="166.37" y="527" width="1.43" height="268" fill-opacity="0.437"/><rect x="167.7" y="527" width="2.03" height="268" fill-opacity="0.426"/><rect x="169.63" y="527" width="1.37" height="268" fill-opacity="0.350"/><rect x="170.9" y="527" width="2.49" height="268" fill-opacity="0.326"/><rect x="173.29" y="527" width="1.62" height="268" fill-opacity="0.420"/><rect x="174.81" y="527" width="1.25" height="268" fill-opacity="0.408"/><rect x="175.97" y="527" width="1.2" height="268" fill-opacity="0.335"/><rect x="177.07" y="527" width="1.66" height="268" fill-opacity="0.470"/><rect x="178.63" y="527" width="2.13" height="268" fill-opacity="0.435"/><rect x="180.65" y="527" width="2.54" height="268" fill-opacity="0.486"/><rect x="183.09" y="527" width="1.71" height="268" fill-opacity="0.198"/><rect x="184.7" y="527" width="1.99" height="268" fill-opacity="0.389"/><rect x="186.59" y="527" width="2.42" height="268" fill-opacity="0.436"/><rect x="188.91" y="527" width="1.47" height="268" fill-opacity="0.375"/><rect x="190.28" y="527" width="2.41" height="268" fill-opacity="0.366"/></g><g transform="matrix(1 0 -0.01316 1 6.95 0)"><rect x="196" y="527" width="21.7" height="268" fill="url(#g7)"/><rect x="217.5" y="527" width="21.7" height="268" fill="url(#g8)"/><rect x="196" y="527" width="2.31" height="268" fill-opacity="0.358"/><rect x="198.21" y="527" width="2.26" height="268" fill-opacity="0.485"/><rect x="200.37" y="527" width="1.18" height="268" fill-opacity="0.365"/><rect x="201.45" y="527" width="1.49" height="268" fill-opacity="0.394"/><rect x="202.83" y="527" width="1.36" height="268" fill-opacity="0.312"/><rect x="204.09" y="527" width="1.2" height="268" fill-opacity="0.444"/><rect x="205.19" y="527" width="2.58" height="268" fill-opacity="0.254"/><rect x="207.67" y="527" width="2.22" height="268" fill-opacity="0.423"/><rect x="209.79" y="527" width="2.54" height="268" fill-opacity="0.372"/><rect x="212.23" y="527" width="1.89" height="268" fill-opacity="0.380"/><rect x="214.01" y="527" width="1.42" height="268" fill-opacity="0.393"/><rect x="215.33" y="527" width="2.36" height="268" fill-opacity="0.341"/><rect x="217.59" y="527" width="2" height="268" fill-opacity="0.490"/><rect x="219.49" y="527" width="1.74" height="268" fill-opacity="0.475"/><rect x="221.13" y="527" width="1.56" height="268" fill-opacity="0.434"/><rect x="222.59" y="527" width="1.9" height="268" fill-opacity="0.395"/><rect x="224.4" y="527" width="1.12" height="268" fill-opacity="0.264"/><rect x="225.41" y="527" width="2.13" height="268" fill-opacity="0.365"/><rect x="227.44" y="527" width="1.99" height="268" fill-opacity="0.382"/><rect x="229.33" y="527" width="2.07" height="268" fill-opacity="0.327"/><rect x="231.29" y="527" width="1.49" height="268" fill-opacity="0.441"/><rect x="232.68" y="527" width="1.71" height="268" fill-opacity="0.233"/><rect x="234.29" y="527" width="1.3" height="268" fill-opacity="0.412"/><rect x="235.49" y="527" width="1.24" height="268" fill-opacity="0.366"/><rect x="236.63" y="527" width="1.77" height="268" fill-opacity="0.370"/><rect x="238.3" y="527" width="1.31" height="268" fill-opacity="0.314"/><rect x="239.51" y="527" width="1.29" height="268" fill-opacity="0.442"/><rect x="240.7" y="527" width="1.91" height="268" fill-opacity="0.410"/></g><g transform="matrix(1 0 -0.03327 1 17.57 0)"><rect x="245.6" y="527" width="16.12" height="268" fill="url(#g9)"/><rect x="261.52" y="527" width="12.12" height="268" fill="url(#g10)"/><rect x="273.43" y="527" width="16.12" height="268" fill="url(#g11)"/><rect x="245.6" y="527" width="1.43" height="268" fill-opacity="0.310"/><rect x="246.93" y="527" width="1.35" height="268" fill-opacity="0.353"/><rect x="248.18" y="527" width="2.16" height="268" fill-opacity="0.320"/><rect x="250.24" y="527" width="1.93" height="268" fill-opacity="0.277"/><rect x="252.07" y="527" width="2.41" height="268" fill-opacity="0.349"/><rect x="254.38" y="527" width="2.26" height="268" fill-opacity="0.376"/><rect x="256.54" y="527" width="1.8" height="268" fill-opacity="0.386"/><rect x="258.24" y="527" width="1.2" height="268" fill-opacity="0.375"/><rect x="259.33" y="527" width="2.17" height="268" fill-opacity="0.415"/><rect x="261.4" y="527" width="1.48" height="268" fill-opacity="0.396"/><rect x="262.78" y="527" width="1.16" height="268" fill-opacity="0.427"/><rect x="263.84" y="527" width="1.68" height="268" fill-opacity="0.425"/><rect x="265.42" y="527" width="1.54" height="268" fill-opacity="0.240"/><rect x="266.87" y="527" width="1.85" height="268" fill-opacity="0.507"/><rect x="268.62" y="527" width="1.25" height="268" fill-opacity="0.423"/><rect x="269.77" y="527" width="2" height="268" fill-opacity="0.471"/><rect x="271.67" y="527" width="2.55" height="268" fill-opacity="0.383"/><rect x="274.12" y="527" width="1.57" height="268" fill-opacity="0.401"/><rect x="275.59" y="527" width="1.94" height="268" fill-opacity="0.446"/><rect x="277.43" y="527" width="1.2" height="268" fill-opacity="0.307"/><rect x="278.52" y="527" width="1.63" height="268" fill-opacity="0.517"/><rect x="280.06" y="527" width="1.58" height="268" fill-opacity="0.348"/><rect x="281.53" y="527" width="1.21" height="268" fill-opacity="0.379"/><rect x="282.65" y="527" width="1.21" height="268" fill-opacity="0.335"/><rect x="283.76" y="527" width="1.77" height="268" fill-opacity="0.468"/><rect x="285.43" y="527" width="2.03" height="268" fill-opacity="0.283"/><rect x="287.36" y="527" width="1.76" height="268" fill-opacity="0.367"/><rect x="289.03" y="527" width="1.88" height="268" fill-opacity="0.425"/></g><g transform="matrix(1 0 -0.03214 1 16.97 0)"><rect x="292.5" y="527" width="19.65" height="268" fill="url(#g12)"/><rect x="292.5" y="527" width="1.44" height="268" fill-opacity="0.336"/><rect x="293.84" y="527" width="1.17" height="268" fill-opacity="0.420"/><rect x="294.91" y="527" width="2.16" height="268" fill-opacity="0.359"/><rect x="296.97" y="527" width="2.33" height="268" fill-opacity="0.389"/><rect x="299.19" y="527" width="1.45" height="268" fill-opacity="0.442"/><rect x="300.55" y="527" width="1.68" height="268" fill-opacity="0.460"/><rect x="302.13" y="527" width="2.54" height="268" fill-opacity="0.371"/><rect x="304.57" y="527" width="1.23" height="268" fill-opacity="0.446"/><rect x="305.7" y="527" width="2.18" height="268" fill-opacity="0.369"/><rect x="307.77" y="527" width="2.44" height="268" fill-opacity="0.362"/><rect x="310.11" y="527" width="2.24" height="268" fill-opacity="0.458"/></g><g transform="matrix(1 0 -0.03477 1 18.36 0)"><rect x="315.5" y="527" width="19.95" height="268" fill="url(#g13)"/><rect x="315.5" y="527" width="2.1" height="268" fill-opacity="0.314"/><rect x="317.5" y="527" width="2.12" height="268" fill-opacity="0.448"/><rect x="319.53" y="527" width="1.47" height="268" fill-opacity="0.323"/><rect x="320.89" y="527" width="2.02" height="268" fill-opacity="0.408"/><rect x="322.82" y="527" width="2.34" height="268" fill-opacity="0.166"/><rect x="325.05" y="527" width="1.11" height="268" fill-opacity="0.419"/><rect x="326.06" y="527" width="1.57" height="268" fill-opacity="0.401"/><rect x="327.53" y="527" width="1.32" height="268" fill-opacity="0.318"/><rect x="328.75" y="527" width="1.93" height="268" fill-opacity="0.330"/><rect x="330.58" y="527" width="2.52" height="268" fill-opacity="0.352"/><rect x="333" y="527" width="2.21" height="268" fill-opacity="0.406"/><rect x="335.11" y="527" width="2.53" height="268" fill-opacity="0.371"/></g><g transform="matrix(1 0 -0.03797 1 20.05 0)"><rect x="338.8" y="527" width="20.2" height="268" fill="url(#g14)"/><rect x="338.8" y="527" width="2.16" height="268" fill-opacity="0.363"/><rect x="340.86" y="527" width="2.06" height="268" fill-opacity="0.322"/><rect x="342.82" y="527" width="2.12" height="268" fill-opacity="0.388"/><rect x="344.84" y="527" width="1.58" height="268" fill-opacity="0.205"/><rect x="346.32" y="527" width="1.48" height="268" fill-opacity="0.358"/><rect x="347.71" y="527" width="2.12" height="268" fill-opacity="0.407"/><rect x="349.73" y="527" width="1.4" height="268" fill-opacity="0.418"/><rect x="351.03" y="527" width="1.67" height="268" fill-opacity="0.406"/><rect x="352.6" y="527" width="2.51" height="268" fill-opacity="0.440"/><rect x="355.01" y="527" width="2.03" height="268" fill-opacity="0.364"/><rect x="356.93" y="527" width="1.52" height="268" fill-opacity="0.349"/><rect x="358.35" y="527" width="1.51" height="268" fill-opacity="0.321"/></g><g transform="matrix(1 0 -0.03421 1 18.06 0)"><rect x="361.5" y="527" width="19.2" height="268" fill="url(#g15)"/><rect x="361.5" y="527" width="1.38" height="268" fill-opacity="0.362"/><rect x="362.78" y="527" width="2.32" height="268" fill-opacity="0.382"/><rect x="365" y="527" width="2.5" height="268" fill-opacity="0.382"/><rect x="367.4" y="527" width="1.85" height="268" fill-opacity="0.390"/><rect x="369.15" y="527" width="1.16" height="268" fill-opacity="0.449"/><rect x="370.21" y="527" width="1.46" height="268" fill-opacity="0.436"/><rect x="371.57" y="527" width="1.11" height="268" fill-opacity="0.404"/><rect x="372.58" y="527" width="1.56" height="268" fill-opacity="0.386"/><rect x="374.05" y="527" width="1.78" height="268" fill-opacity="0.329"/><rect x="375.73" y="527" width="1.3" height="268" fill-opacity="0.414"/><rect x="376.93" y="527" width="2.29" height="268" fill-opacity="0.344"/><rect x="379.12" y="527" width="1.17" height="268" fill-opacity="0.443"/><rect x="380.19" y="527" width="1.38" height="268" fill-opacity="0.439"/></g><g transform="matrix(1 0 -0.00564 1 2.98 0)"><rect x="411.3" y="527" width="14.4" height="268" fill="url(#g16)"/><rect x="411.3" y="527" width="1.44" height="268" fill-opacity="0.331"/><rect x="412.64" y="527" width="2.3" height="268" fill-opacity="0.294"/><rect x="414.84" y="527" width="2.43" height="268" fill-opacity="0.485"/><rect x="417.17" y="527" width="1.13" height="268" fill-opacity="0.400"/><rect x="418.19" y="527" width="2.45" height="268" fill-opacity="0.391"/><rect x="420.54" y="527" width="2.22" height="268" fill-opacity="0.376"/><rect x="422.66" y="527" width="1.19" height="268" fill-opacity="0.417"/><rect x="423.75" y="527" width="2.32" height="268" fill-opacity="0.442"/></g><g transform="matrix(1 0 -0.00113 1 0.6 0)"><rect x="429.3" y="527" width="13.17" height="268" fill="url(#g17)"/><rect x="442.27" y="527" width="9.17" height="268" fill="url(#g18)"/><rect x="451.23" y="527" width="13.17" height="268" fill="url(#g19)"/><rect x="429.3" y="527" width="1.81" height="268" fill-opacity="0.430"/><rect x="431.01" y="527" width="2.3" height="268" fill-opacity="0.403"/><rect x="433.21" y="527" width="1.63" height="268" fill-opacity="0.335"/><rect x="434.74" y="527" width="1.55" height="268" fill-opacity="0.463"/><rect x="436.18" y="527" width="1.21" height="268" fill-opacity="0.465"/><rect x="437.29" y="527" width="1.2" height="268" fill-opacity="0.465"/><rect x="438.39" y="527" width="1.38" height="268" fill-opacity="0.385"/><rect x="439.68" y="527" width="1.5" height="268" fill-opacity="0.362"/><rect x="441.08" y="527" width="1.84" height="268" fill-opacity="0.372"/><rect x="442.82" y="527" width="2.12" height="268" fill-opacity="0.399"/><rect x="444.84" y="527" width="1.26" height="268" fill-opacity="0.407"/><rect x="446" y="527" width="2.5" height="268" fill-opacity="0.437"/><rect x="448.4" y="527" width="2.14" height="268" fill-opacity="0.393"/><rect x="450.43" y="527" width="2.19" height="268" fill-opacity="0.402"/><rect x="452.53" y="527" width="2.34" height="268" fill-opacity="0.382"/><rect x="454.77" y="527" width="1.42" height="268" fill-opacity="0.319"/><rect x="456.09" y="527" width="1.9" height="268" fill-opacity="0.363"/><rect x="457.89" y="527" width="2.04" height="268" fill-opacity="0.332"/><rect x="459.83" y="527" width="1.84" height="268" fill-opacity="0.285"/><rect x="461.57" y="527" width="1.34" height="268" fill-opacity="0.308"/></g></g></g>
<g transform="translate(0 528)" clip-path="url(#pbox)"><use href="#ct"/></g>
<text x="82.8" y="785" font-size="21.7" text-anchor="end">-60</text>
<text x="82.8" y="747" font-size="21.7" text-anchor="end">-40</text>
<text x="82.8" y="709" font-size="21.7" text-anchor="end">-20</text>
<text x="82.8" y="671" font-size="21.7" text-anchor="end">0</text>
<text x="82.8" y="633" font-size="21.7" text-anchor="end">20</text>
<text x="82.8" y="595" font-size="21.7" text-anchor="end">40</text>
<text x="82.8" y="557" font-size="21.7" text-anchor="end">60</text>
<text x="151.5" y="833.4" font-size="21.5" text-anchor="middle">100</text>
<text x="246.5" y="833.4" font-size="21.5" text-anchor="middle">150</text>
<text x="341.5" y="833.4" font-size="21.5" text-anchor="middle">200</text>
<text x="436.5" y="833.4" font-size="21.5" text-anchor="middle">250</text>
<text x="531.5" y="833.4" font-size="21.5" text-anchor="middle">300</text>
<text x="322.6" y="866.3" font-size="21.2" text-anchor="middle">East Longitude [deg.]</text>
<text transform="translate(29.0 661) rotate(-90)" font-size="21.1" text-anchor="middle">Latitude [deg.]</text>
<rect x="566.4" y="528" width="15.4" height="266" fill="url(#cb)" stroke="#555" stroke-width="1"/>
<text x="322.6" y="933.6" font-size="26.3" text-anchor="middle">(c) IMF strength</text>
<path d="M94.5 1214.8h-2.5M550.5 1214.8h2.5M94.5 1205.3h-2.5M550.5 1205.3h2.5M94.5 1195.8h-4.5M550.5 1195.8h4.5M94.5 1186.3h-2.5M550.5 1186.3h2.5M94.5 1176.8h-2.5M550.5 1176.8h2.5M94.5 1167.3h-2.5M550.5 1167.3h2.5M94.5 1157.8h-4.5M550.5 1157.8h4.5M94.5 1148.3h-2.5M550.5 1148.3h2.5M94.5 1138.8h-2.5M550.5 1138.8h2.5M94.5 1129.3h-2.5M550.5 1129.3h2.5M94.5 1119.8h-4.5M550.5 1119.8h4.5M94.5 1110.3h-2.5M550.5 1110.3h2.5M94.5 1100.8h-2.5M550.5 1100.8h2.5M94.5 1091.3h-2.5M550.5 1091.3h2.5M94.5 1081.8h-4.5M550.5 1081.8h4.5M94.5 1072.3h-2.5M550.5 1072.3h2.5M94.5 1062.8h-2.5M550.5 1062.8h2.5M94.5 1053.3h-2.5M550.5 1053.3h2.5M94.5 1043.8h-4.5M550.5 1043.8h4.5M94.5 1034.3h-2.5M550.5 1034.3h2.5M94.5 1024.8h-2.5M550.5 1024.8h2.5M94.5 1015.3h-2.5M550.5 1015.3h2.5M94.5 1005.8h-4.5M550.5 1005.8h4.5M94.5 996.3h-2.5M550.5 996.3h2.5M94.5 986.8h-2.5M550.5 986.8h2.5M94.5 977.3h-2.5M550.5 977.3h2.5M94.5 967.8h-4.5M550.5 967.8h4.5M94.5 958.3h-2.5M550.5 958.3h2.5M94.5 948.8h-2.5M550.5 948.8h2.5M94.5 1214.8v2.5M94.5 948.8v-2.5M113.5 1214.8v2.5M113.5 948.8v-2.5M132.5 1214.8v2.5M132.5 948.8v-2.5M151.5 1214.8v4.0M151.5 948.8v-4.0M170.5 1214.8v2.5M170.5 948.8v-2.5M189.5 1214.8v2.5M189.5 948.8v-2.5M208.5 1214.8v2.5M208.5 948.8v-2.5M227.5 1214.8v2.5M227.5 948.8v-2.5M246.5 1214.8v4.0M246.5 948.8v-4.0M265.5 1214.8v2.5M265.5 948.8v-2.5M284.5 1214.8v2.5M284.5 948.8v-2.5M303.5 1214.8v2.5M303.5 948.8v-2.5M322.5 1214.8v2.5M322.5 948.8v-2.5M341.5 1214.8v4.0M341.5 948.8v-4.0M360.5 1214.8v2.5M360.5 948.8v-2.5M379.5 1214.8v2.5M379.5 948.8v-2.5M398.5 1214.8v2.5M398.5 948.8v-2.5M417.5 1214.8v2.5M417.5 948.8v-2.5M436.5 1214.8v4.0M436.5 948.8v-4.0M455.5 1214.8v2.5M455.5 948.8v-2.5M474.5 1214.8v2.5M474.5 948.8v-2.5M493.5 1214.8v2.5M493.5 948.8v-2.5M512.5 1214.8v2.5M512.5 948.8v-2.5M531.5 1214.8v4.0M531.5 948.8v-4.0M550.5 1214.8v2.5M550.5 948.8v-2.5" stroke="#333" stroke-width="1" fill="none"/>
<rect x="94.5" y="948.8" width="456" height="266" fill="none" stroke="#333" stroke-width="1.15"/>
<rect x="108" y="947.5" width="352" height="268.3" fill="#fff"/>
<clipPath id="cp2"><rect x="94.5" y="948.2" width="456" height="267.2"/></clipPath><g clip-path="url(#cp2)"><path d="M111.65 947.74L111.71 982.05L111.79 1015.3L111.88 1048.55L111.99 1081.8L112.1 1115.05L112.24 1148.3L112.38 1181.55L112.55 1215.86L115.84 1215.86L115.64 1181.55L115.46 1148.3L115.3 1115.05L115.15 1081.8L115.03 1048.55L114.92 1015.3L114.83 982.05L114.75 947.74z" fill="#fff7bc"/><path d="M114.45 947.74L114.52 982.05L114.62 1015.3L114.72 1048.55L114.85 1081.8L114.99 1115.05L115.15 1148.3L115.32 1181.55L115.52 1215.86L119.76 1215.86L119.52 1181.55L119.3 1148.3L119.11 1115.05L118.94 1081.8L118.78 1048.55L118.65 1015.3L118.54 982.05L118.45 947.74z" fill="#fff1af"/><path d="M118.15 947.74L118.24 982.05L118.35 1015.3L118.48 1048.55L118.63 1081.8L118.8 1115.05L118.99 1148.3L119.2 1181.55L119.44 1215.86L123.57 1215.86L123.29 1181.55L123.04 1148.3L122.82 1115.05L122.62 1081.8L122.44 1048.55L122.29 1015.3L122.16 982.05L122.05 947.74z" fill="#fee391"/><path d="M121.75 947.74L121.86 982.05L121.98 1015.3L122.14 1048.55L122.31 1081.8L122.51 1115.05L122.73 1148.3L122.98 1181.55L123.25 1215.86L131.2 1215.86L130.84 1181.55L130.52 1148.3L130.24 1115.05L129.98 1081.8L129.75 1048.55L129.55 1015.3L129.39 982.05L129.25 947.74z" fill="#fff9c4"/><path d="M128.95 947.74L129.09 982.05L129.25 1015.3L129.45 1048.55L129.67 1081.8L129.93 1115.05L130.21 1148.3L130.53 1181.55L130.88 1215.86L134.17 1215.86L133.78 1181.55L133.43 1148.3L133.12 1115.05L132.84 1081.8L132.59 1048.55L132.38 1015.3L132.2 982.05L132.05 947.74z" fill="#f98d23"/><path d="M131.75 947.74L131.9 982.05L132.08 1015.3L132.29 1048.55L132.53 1081.8L132.81 1115.05L133.12 1148.3L133.46 1181.55L133.85 1215.86L135.86 1215.86L135.46 1181.55L135.09 1148.3L134.77 1115.05L134.48 1081.8L134.22 1048.55L133.99 1015.3L133.8 982.05L133.65 947.74z" fill="#fff9c4"/><path d="M133.35 947.74L133.5 982.05L133.69 1015.3L133.91 1048.55L134.17 1081.8L134.46 1115.05L134.78 1148.3L135.14 1181.55L135.55 1215.86L139.59 1215.86L139.16 1181.55L138.78 1148.3L138.43 1115.05L138.12 1081.8L137.85 1048.55L137.61 1015.3L137.41 982.05L137.25 947.74z" fill="#fe9929"/><path d="M136.95 947.74L137.12 982.05L137.32 1015.3L137.57 1048.55L137.85 1081.8L138.17 1115.05L138.52 1148.3L138.92 1181.55L139.36 1215.86L141.26 1215.86L140.97 1181.55L140.7 1148.3L140.47 1115.05L140.25 1081.8L140.06 1048.55L139.9 1015.3L139.76 982.05L139.65 947.74z" fill="#f07818"/><path d="M148.65 947.74L148.57 982.05L148.48 1015.3L148.37 1048.55L148.24 1081.8L148.09 1115.05L147.93 1148.3L147.75 1181.55L147.55 1215.86L150.35 1215.86L150.61 1181.55L150.84 1148.3L151.04 1115.05L151.23 1081.8L151.39 1048.55L151.53 1015.3L151.65 982.05L151.75 947.74z" fill="#fee391"/><path d="M151.45 947.74L151.35 982.05L151.24 1015.3L151.1 1048.55L150.94 1081.8L150.75 1115.05L150.55 1148.3L150.33 1181.55L150.07 1215.86L155.75 1215.86L156.08 1181.55L156.37 1148.3L156.64 1115.05L156.88 1081.8L157.09 1048.55L157.27 1015.3L157.42 982.05L157.55 947.74z" fill="#fff7bc"/><path d="M157.25 947.74L157.13 982.05L156.97 1015.3L156.79 1048.55L156.59 1081.8L156.35 1115.05L156.09 1148.3L155.8 1181.55L155.47 1215.86L157.24 1215.86L157.59 1181.55L157.9 1148.3L158.18 1115.05L158.44 1081.8L158.66 1048.55L158.85 1015.3L159.02 982.05L159.15 947.74z" fill="#fffddd"/><path d="M158.85 947.74L158.72 982.05L158.56 1015.3L158.36 1048.55L158.14 1081.8L157.89 1115.05L157.61 1148.3L157.31 1181.55L156.96 1215.86L161.7 1215.86L162.12 1181.55L162.48 1148.3L162.82 1115.05L163.11 1081.8L163.37 1048.55L163.6 1015.3L163.79 982.05L163.95 947.74z" fill="#fff9c8"/><path d="M163.65 947.74L163.49 982.05L163.3 1015.3L163.08 1048.55L162.82 1081.8L162.53 1115.05L162.2 1148.3L161.83 1181.55L161.42 1215.86L163.19 1215.86L163.63 1181.55L164.01 1148.3L164.36 1115.05L164.67 1081.8L164.95 1048.55L165.18 1015.3L165.39 982.05L165.55 947.74z" fill="#fff7bc"/><path d="M165.25 947.74L165.09 982.05L164.89 1015.3L164.65 1048.55L164.38 1081.8L164.07 1115.05L163.72 1148.3L163.34 1181.55L162.91 1215.86L165.14 1215.86L165.61 1181.55L166.02 1148.3L166.38 1115.05L166.72 1081.8L167.01 1048.55L167.26 1015.3L167.47 982.05L167.65 947.74z" fill="#fffacc"/><path d="M167.35 947.74L167.18 982.05L166.96 1015.3L166.71 1048.55L166.42 1081.8L166.1 1115.05L165.73 1148.3L165.32 1181.55L164.86 1215.86L170.26 1215.86L170.79 1181.55L171.27 1148.3L171.69 1115.05L172.07 1081.8L172.41 1048.55L172.7 1015.3L172.95 982.05L173.16 947.74z" fill="#fffee1"/><path d="M172.86 947.74L172.65 982.05L172.4 1015.3L172.11 1048.55L171.78 1081.8L171.4 1115.05L170.98 1148.3L170.51 1181.55L169.98 1215.86L175.34 1215.86L175.95 1181.55L176.49 1148.3L176.98 1115.05L177.42 1081.8L177.8 1048.55L178.14 1015.3L178.42 982.05L178.66 947.74z" fill="#fff9c4"/><path d="M178.36 947.74L178.12 982.05L177.84 1015.3L177.51 1048.55L177.12 1081.8L176.69 1115.05L176.21 1148.3L175.67 1181.55L175.06 1215.86L182.23 1215.86L182.96 1181.55L183.6 1148.3L184.17 1115.05L184.69 1081.8L185.15 1048.55L185.54 1015.3L185.88 982.05L186.16 947.74z" fill="#fff3b3"/><path d="M185.86 947.74L185.58 982.05L185.25 1015.3L184.85 1048.55L184.4 1081.8L183.89 1115.05L183.31 1148.3L182.68 1181.55L181.96 1215.86L184.72 1215.86L185.48 1181.55L186.15 1148.3L186.76 1115.05L187.31 1081.8L187.79 1048.55L188.21 1015.3L188.56 982.05L188.86 947.74z" fill="#fff8c0"/><path d="M188.56 947.74L188.26 982.05L187.91 1015.3L187.5 1048.55L187.02 1081.8L186.48 1115.05L185.87 1148.3L185.2 1181.55L184.44 1215.86L189.13 1215.86L189.97 1181.55L190.7 1148.3L191.37 1115.05L191.97 1081.8L192.49 1048.55L192.95 1015.3L193.33 982.05L193.66 947.74z" fill="#fffedf"/><path d="M193.36 947.74L193.04 982.05L192.65 1015.3L192.2 1048.55L191.67 1081.8L191.08 1115.05L190.42 1148.3L189.68 1181.55L188.86 1215.86L191.43 1215.86L192.3 1181.55L193.07 1148.3L193.77 1115.05L194.39 1081.8L194.94 1048.55L195.42 1015.3L195.82 982.05L196.16 947.74z" fill="#fffdd9"/><path d="M195.86 947.74L195.52 982.05L195.12 1015.3L194.65 1048.55L194.1 1081.8L193.48 1115.05L192.79 1148.3L192.02 1181.55L191.15 1215.86L201.32 1215.86L202.29 1181.55L203.14 1148.3L203.91 1115.05L204.6 1081.8L205.21 1048.55L205.74 1015.3L206.18 982.05L206.56 947.74z" fill="#fed370"/><path d="M206.26 947.74L205.89 982.05L205.44 1015.3L204.91 1048.55L204.3 1081.8L203.62 1115.05L202.85 1148.3L201.99 1181.55L201.03 1215.86L203.07 1215.86L204.04 1181.55L204.9 1148.3L205.68 1115.05L206.38 1081.8L207 1048.55L207.53 1015.3L207.98 982.05L208.36 947.74z" fill="#fe9929"/><path d="M208.06 947.74L207.68 982.05L207.23 1015.3L206.7 1048.55L206.08 1081.8L205.39 1115.05L204.61 1148.3L203.75 1181.55L202.78 1215.86L208.5 1215.86L209.51 1181.55L210.39 1148.3L211.2 1115.05L211.92 1081.8L212.55 1048.55L213.1 1015.3L213.57 982.05L213.96 947.74z" fill="#ec7014"/><path d="M213.66 947.74L213.27 982.05L212.8 1015.3L212.26 1048.55L211.62 1081.8L210.9 1115.05L210.1 1148.3L209.21 1181.55L208.21 1215.86L211.6 1215.86L212.63 1181.55L213.53 1148.3L214.35 1115.05L215.08 1081.8L215.73 1048.55L216.29 1015.3L216.76 982.05L217.16 947.74z" fill="#febb47"/><path d="M216.86 947.74L216.46 982.05L215.99 1015.3L215.43 1048.55L214.79 1081.8L214.05 1115.05L213.24 1148.3L212.33 1181.55L211.31 1215.86L213.54 1215.86L214.58 1181.55L215.49 1148.3L216.32 1115.05L217.06 1081.8L217.71 1048.55L218.28 1015.3L218.76 982.05L219.16 947.74z" fill="#ffffe5"/><path d="M218.86 947.74L218.46 982.05L217.98 1015.3L217.42 1048.55L216.76 1081.8L216.02 1115.05L215.2 1148.3L214.28 1181.55L213.25 1215.86L219.07 1215.86L220.14 1181.55L221.08 1148.3L221.93 1115.05L222.7 1081.8L223.37 1048.55L223.95 1015.3L224.45 982.05L224.86 947.74z" fill="#feda7d"/><path d="M224.56 947.74L224.15 982.05L223.65 1015.3L223.07 1048.55L222.4 1081.8L221.64 1115.05L220.79 1148.3L219.84 1181.55L218.78 1215.86L221.01 1215.86L222.09 1181.55L223.04 1148.3L223.9 1115.05L224.67 1081.8L225.35 1048.55L225.94 1015.3L226.44 982.05L226.86 947.74z" fill="#feae3c"/><path d="M226.56 947.74L226.14 982.05L225.64 1015.3L225.06 1048.55L224.38 1081.8L223.61 1115.05L222.75 1148.3L221.8 1181.55L220.72 1215.86L229.54 1215.86L230.67 1181.55L231.67 1148.3L232.57 1115.05L233.37 1081.8L234.09 1048.55L234.7 1015.3L235.22 982.05L235.66 947.74z" fill="#fffee1"/><path d="M235.36 947.74L234.92 982.05L234.4 1015.3L233.79 1048.55L233.08 1081.8L232.27 1115.05L231.37 1148.3L230.38 1181.55L229.25 1215.86L237.4 1215.86L238.57 1181.55L239.61 1148.3L240.54 1115.05L241.38 1081.8L242.12 1048.55L242.76 1015.3L243.31 982.05L243.76 947.74z" fill="#fff3b3"/><path d="M243.46 947.74L243.01 982.05L242.47 1015.3L241.82 1048.55L241.09 1081.8L240.25 1115.05L239.31 1148.3L238.28 1181.55L237.11 1215.86L242.44 1215.86L243.64 1181.55L244.71 1148.3L245.67 1115.05L246.52 1081.8L247.28 1048.55L247.94 1015.3L248.5 982.05L248.96 947.74z" fill="#fffdd9"/><path d="M248.66 947.74L248.2 982.05L247.64 1015.3L246.98 1048.55L246.23 1081.8L245.37 1115.05L244.41 1148.3L243.35 1181.55L242.15 1215.86L246.27 1215.86L247.58 1181.55L248.73 1148.3L249.78 1115.05L250.71 1081.8L251.54 1048.55L252.25 1015.3L252.86 982.05L253.36 947.74z" fill="#fe9929"/><path d="M253.06 947.74L252.56 982.05L251.96 1015.3L251.25 1048.55L250.43 1081.8L249.5 1115.05L248.47 1148.3L247.32 1181.55L246.02 1215.86L248.29 1215.86L249.67 1181.55L250.88 1148.3L251.98 1115.05L252.97 1081.8L253.84 1048.55L254.59 1015.3L255.23 982.05L255.76 947.74z" fill="#fec44f"/><path d="M255.46 947.74L254.93 982.05L254.3 1015.3L253.55 1048.55L252.69 1081.8L251.71 1115.05L250.62 1148.3L249.41 1181.55L248.04 1215.86L249.47 1215.86L250.88 1181.55L252.14 1148.3L253.27 1115.05L254.29 1081.8L255.18 1048.55L255.96 1015.3L256.61 982.05L257.17 947.74z" fill="#fa9125"/><path d="M256.87 947.74L256.32 982.05L255.66 1015.3L254.89 1048.55L254 1081.8L253 1115.05L251.87 1148.3L250.62 1181.55L249.21 1215.86L250.81 1215.86L252.28 1181.55L253.57 1148.3L254.74 1115.05L255.79 1081.8L256.72 1048.55L257.52 1015.3L258.2 982.05L258.77 947.74z" fill="#fee391"/><path d="M258.47 947.74L257.9 982.05L257.22 1015.3L256.43 1048.55L255.51 1081.8L254.47 1115.05L253.3 1148.3L252.02 1181.55L250.56 1215.86L258.62 1215.86L260.36 1181.55L261.9 1148.3L263.29 1115.05L264.54 1081.8L265.63 1048.55L266.59 1015.3L267.39 982.05L268.07 947.74z" fill="#fe9d2d"/><path d="M267.77 947.74L267.09 982.05L266.29 1015.3L265.35 1048.55L264.25 1081.8L263.02 1115.05L261.63 1148.3L260.1 1181.55L258.37 1215.86L259.97 1215.86L261.75 1181.55L263.33 1148.3L264.76 1115.05L266.04 1081.8L267.17 1048.55L268.15 1015.3L268.97 982.05L269.67 947.74z" fill="#fed370"/><path d="M269.37 947.74L268.68 982.05L267.85 1015.3L266.88 1048.55L265.76 1081.8L264.49 1115.05L263.06 1148.3L261.49 1181.55L259.71 1215.86L262.44 1215.86L264.29 1181.55L265.92 1148.3L267.4 1115.05L268.72 1081.8L269.89 1048.55L270.9 1015.3L271.75 982.05L272.47 947.74z" fill="#b24003"/><path d="M272.17 947.74L271.45 982.05L270.59 1015.3L269.58 1048.55L268.41 1081.8L267.08 1115.05L265.6 1148.3L263.96 1181.55L262.11 1215.86L266.91 1215.86L268.67 1181.55L270.22 1148.3L271.63 1115.05L272.89 1081.8L274 1048.55L274.97 1015.3L275.78 982.05L276.47 947.74z" fill="#802c05"/><path d="M276.17 947.74L275.48 982.05L274.66 1015.3L273.7 1048.55L272.58 1081.8L271.32 1115.05L269.9 1148.3L268.34 1181.55L266.57 1215.86L268.69 1215.86L270.42 1181.55L271.95 1148.3L273.33 1115.05L274.56 1081.8L275.65 1048.55L276.6 1015.3L277.4 982.05L278.07 947.74z" fill="#fed370"/><path d="M277.77 947.74L277.09 982.05L276.29 1015.3L275.34 1048.55L274.25 1081.8L273.01 1115.05L271.62 1148.3L270.09 1181.55L268.36 1215.86L272.71 1215.86L274.36 1181.55L275.82 1148.3L277.14 1115.05L278.32 1081.8L279.36 1048.55L280.26 1015.3L281.03 982.05L281.67 947.74z" fill="#cc4c02"/><path d="M281.37 947.74L280.72 982.05L279.96 1015.3L279.05 1048.55L278 1081.8L276.82 1115.05L275.5 1148.3L274.03 1181.55L272.38 1215.86L276.7 1215.86L278.28 1181.55L279.67 1148.3L280.93 1115.05L282.06 1081.8L283.06 1048.55L283.92 1015.3L284.65 982.05L285.27 947.74z" fill="#fffddd"/><path d="M284.97 947.74L284.35 982.05L283.62 1015.3L282.76 1048.55L281.76 1081.8L280.63 1115.05L279.37 1148.3L277.97 1181.55L276.39 1215.86L279.5 1215.86L281.08 1181.55L282.47 1148.3L283.73 1115.05L284.86 1081.8L285.86 1048.55L286.72 1015.3L287.45 982.05L288.07 947.74z" fill="#fe9929"/><path d="M287.77 947.74L287.15 982.05L286.42 1015.3L285.56 1048.55L284.56 1081.8L283.43 1115.05L282.17 1148.3L280.78 1181.55L279.2 1215.86L304.6 1215.86L306.18 1181.55L307.57 1148.3L308.83 1115.05L309.96 1081.8L310.96 1048.55L311.82 1015.3L312.55 982.05L313.17 947.74z" fill="#fff9c4"/><path d="M312.87 947.74L312.25 982.05L311.52 1015.3L310.66 1048.55L309.66 1081.8L308.53 1115.05L307.27 1148.3L305.88 1181.55L304.3 1215.86L306.59 1215.86L308.17 1181.55L309.57 1148.3L310.83 1115.05L311.96 1081.8L312.96 1048.55L313.82 1015.3L314.55 982.05L315.17 947.74z" fill="#fffee1"/><path d="M314.87 947.74L314.25 982.05L313.52 1015.3L312.66 1048.55L311.66 1081.8L310.53 1115.05L309.27 1148.3L307.88 1181.55L306.3 1215.86L310.42 1215.86L312.03 1181.55L313.46 1148.3L314.74 1115.05L315.9 1081.8L316.91 1048.55L317.79 1015.3L318.54 982.05L319.17 947.74z" fill="#feb744"/><path d="M318.87 947.74L318.24 982.05L317.5 1015.3L316.62 1048.55L315.6 1081.8L314.45 1115.05L313.16 1148.3L311.74 1181.55L310.13 1215.86L313.19 1215.86L314.83 1181.55L316.27 1148.3L317.58 1115.05L318.75 1081.8L319.78 1048.55L320.67 1015.3L321.43 982.05L322.07 947.74z" fill="#fee391"/><path d="M321.77 947.74L321.13 982.05L320.38 1015.3L319.48 1048.55L318.45 1081.8L317.29 1115.05L315.98 1148.3L314.54 1181.55L312.91 1215.86L319.32 1215.86L321 1181.55L322.49 1148.3L323.84 1115.05L325.05 1081.8L326.11 1048.55L327.03 1015.3L327.81 982.05L328.47 947.74z" fill="#fff3b3"/><path d="M328.17 947.74L327.51 982.05L326.73 1015.3L325.81 1048.55L324.75 1081.8L323.55 1115.05L322.2 1148.3L320.72 1181.55L319.03 1215.86L321.62 1215.86L323.32 1181.55L324.83 1148.3L326.19 1115.05L327.41 1081.8L328.48 1048.55L329.42 1015.3L330.2 982.05L330.87 947.74z" fill="#fffee1"/><path d="M330.57 947.74L329.91 982.05L329.12 1015.3L328.19 1048.55L327.11 1081.8L325.9 1115.05L324.53 1148.3L323.03 1181.55L321.33 1215.86L323.91 1215.86L325.64 1181.55L327.16 1148.3L328.54 1115.05L329.77 1081.8L330.86 1048.55L331.8 1015.3L332.6 982.05L333.27 947.74z" fill="#fff1af"/><path d="M332.97 947.74L332.3 982.05L331.5 1015.3L330.56 1048.55L329.47 1081.8L328.24 1115.05L326.87 1148.3L325.35 1181.55L323.63 1215.86L326.21 1215.86L327.95 1181.55L329.49 1148.3L330.88 1115.05L332.13 1081.8L333.23 1048.55L334.18 1015.3L334.99 982.05L335.67 947.74z" fill="#fffee1"/><path d="M335.37 947.74L334.69 982.05L333.89 1015.3L332.93 1048.55L331.84 1081.8L330.59 1115.05L329.2 1148.3L327.66 1181.55L325.92 1215.86L337.02 1215.86L338.85 1181.55L340.47 1148.3L341.94 1115.05L343.25 1081.8L344.41 1048.55L345.41 1015.3L346.26 982.05L346.97 947.74z" fill="#feeda6"/><path d="M346.67 947.74L345.96 982.05L345.11 1015.3L344.11 1048.55L342.95 1081.8L341.64 1115.05L340.18 1148.3L338.56 1181.55L336.73 1215.86L344.82 1215.86L346.54 1181.55L348.06 1148.3L349.44 1115.05L350.67 1081.8L351.76 1048.55L352.7 1015.3L353.5 982.05L354.17 947.74z" fill="#febb47"/><path d="M353.87 947.74L353.19 982.05L352.39 1015.3L351.45 1048.55L350.35 1081.8L349.11 1115.05L347.73 1148.3L346.2 1181.55L344.47 1215.86L349.76 1215.86L351.35 1181.55L352.75 1148.3L354.01 1115.05L355.15 1081.8L356.15 1048.55L357.02 1015.3L357.75 982.05L358.37 947.74z" fill="#fee08a"/><path d="M358.07 947.74L357.45 982.05L356.71 1015.3L355.84 1048.55L354.83 1081.8L353.69 1115.05L352.41 1148.3L351 1181.55L349.41 1215.86L351.64 1215.86L353.18 1181.55L354.53 1148.3L355.76 1115.05L356.85 1081.8L357.82 1048.55L358.66 1015.3L359.37 982.05L359.97 947.74z" fill="#fff7bc"/><path d="M359.67 947.74L359.07 982.05L358.35 1015.3L357.51 1048.55L356.53 1081.8L355.43 1115.05L354.2 1148.3L352.83 1181.55L351.29 1215.86L361.17 1215.86L362.44 1181.55L363.56 1148.3L364.58 1115.05L365.48 1081.8L366.29 1048.55L366.98 1015.3L367.57 982.05L368.06 947.74z" fill="#fed370"/><path d="M367.76 947.74L367.27 982.05L366.67 1015.3L365.97 1048.55L365.16 1081.8L364.25 1115.05L363.23 1148.3L362.09 1181.55L360.81 1215.86L363.52 1215.86L364.72 1181.55L365.79 1148.3L366.75 1115.05L367.61 1081.8L368.38 1048.55L369.04 1015.3L369.59 982.05L370.06 947.74z" fill="#fff7bc"/><path d="M369.76 947.74L369.29 982.05L368.73 1015.3L368.06 1048.55L367.3 1081.8L366.43 1115.05L365.46 1148.3L364.38 1181.55L363.17 1215.86L366.13 1215.86L367.29 1181.55L368.32 1148.3L369.26 1115.05L370.09 1081.8L370.83 1048.55L371.47 1015.3L372.01 982.05L372.46 947.74z" fill="#fe9929"/><path d="M372.16 947.74L371.71 982.05L371.16 1015.3L370.52 1048.55L369.78 1081.8L368.94 1115.05L368.01 1148.3L366.97 1181.55L365.8 1215.86L388.42 1215.86L389.26 1181.55L389.99 1148.3L390.66 1115.05L391.26 1081.8L391.79 1048.55L392.25 1015.3L392.63 982.05L392.96 947.74z" fill="#feb744"/><path d="M392.66 947.74L392.33 982.05L391.94 1015.3L391.48 1048.55L390.95 1081.8L390.35 1115.05L389.68 1148.3L388.93 1181.55L388.09 1215.86L390.65 1215.86L391.44 1181.55L392.14 1148.3L392.78 1115.05L393.35 1081.8L393.85 1048.55L394.28 1015.3L394.65 982.05L394.96 947.74z" fill="#fe9929"/><path d="M394.66 947.74L394.35 982.05L393.98 1015.3L393.54 1048.55L393.03 1081.8L392.46 1115.05L391.82 1148.3L391.11 1181.55L390.31 1215.86L396.45 1215.86L397.13 1181.55L397.73 1148.3L398.28 1115.05L398.77 1081.8L399.2 1048.55L399.57 1015.3L399.89 982.05L400.16 947.74z" fill="#fec44f"/><path d="M399.86 947.74L399.59 982.05L399.27 1015.3L398.89 1048.55L398.46 1081.8L397.96 1115.05L397.41 1148.3L396.8 1181.55L396.11 1215.86L400.9 1215.86L401.5 1181.55L402.03 1148.3L402.51 1115.05L402.94 1081.8L403.32 1048.55L403.65 1015.3L403.92 982.05L404.16 947.74z" fill="#feeda6"/><path d="M403.86 947.74L403.62 982.05L403.34 1015.3L403.01 1048.55L402.63 1081.8L402.19 1115.05L401.71 1148.3L401.18 1181.55L400.57 1215.86L407.37 1215.86L407.85 1181.55L408.27 1148.3L408.65 1115.05L408.99 1081.8L409.29 1048.55L409.55 1015.3L409.77 982.05L409.96 947.74z" fill="#fee08a"/><path d="M409.66 947.74L409.47 982.05L409.24 1015.3L408.98 1048.55L408.68 1081.8L408.33 1115.05L407.95 1148.3L407.52 1181.55L407.04 1215.86L409.82 1215.86L410.25 1181.55L410.63 1148.3L410.98 1115.05L411.28 1081.8L411.55 1048.55L411.79 1015.3L411.99 982.05L412.15 947.74z" fill="#fa9125"/><path d="M411.85 947.74L411.69 982.05L411.48 1015.3L411.25 1048.55L410.97 1081.8L410.66 1115.05L410.31 1148.3L409.93 1181.55L409.49 1215.86L418.63 1215.86L418.89 1181.55L419.13 1148.3L419.33 1115.05L419.52 1081.8L419.69 1048.55L419.83 1015.3L419.95 982.05L420.05 947.74z" fill="#feeda6"/><path d="M419.75 947.74L419.65 982.05L419.52 1015.3L419.38 1048.55L419.21 1081.8L419.02 1115.05L418.8 1148.3L418.57 1181.55L418.3 1215.86L424.43 1215.86L424.58 1181.55L424.72 1148.3L424.84 1115.05L424.94 1081.8L425.04 1048.55L425.12 1015.3L425.19 982.05L425.25 947.74z" fill="#feae3c"/><path d="M424.95 947.74L424.89 982.05L424.82 1015.3L424.73 1048.55L424.63 1081.8L424.52 1115.05L424.39 1148.3L424.25 1181.55L424.1 1215.86L427.85 1215.86L427.94 1181.55L428.03 1148.3L428.1 1115.05L428.16 1081.8L428.22 1048.55L428.27 1015.3L428.32 982.05L428.35 947.74z" fill="#fed370"/><path d="M428.05 947.74L428.01 982.05L427.97 1015.3L427.92 1048.55L427.86 1081.8L427.8 1115.05L427.72 1148.3L427.64 1181.55L427.55 1215.86L431 1215.86L431.08 1181.55L431.16 1148.3L431.22 1115.05L431.28 1081.8L431.33 1048.55L431.38 1015.3L431.42 982.05L431.45 947.74z" fill="#b24003"/><path d="M431.15 947.74L431.12 982.05L431.08 1015.3L431.03 1048.55L430.98 1081.8L430.92 1115.05L430.85 1148.3L430.78 1181.55L430.7 1215.86L434.05 1215.86L434.12 1181.55L434.19 1148.3L434.25 1115.05L434.3 1081.8L434.35 1048.55L434.39 1015.3L434.42 982.05L434.45 947.74z" fill="#f5841e"/><path d="M434.15 947.74L434.12 982.05L434.09 1015.3L434.05 1048.55L434 1081.8L433.94 1115.05L433.88 1148.3L433.82 1181.55L433.74 1215.86L435.87 1215.86L435.94 1181.55L436 1148.3L436.06 1115.05L436.11 1081.8L436.15 1048.55L436.19 1015.3L436.22 982.05L436.25 947.74z" fill="#feeda6"/><path d="M435.95 947.74L435.92 982.05L435.89 1015.3L435.85 1048.55L435.81 1081.8L435.76 1115.05L435.7 1148.3L435.64 1181.55L435.57 1215.86L439.02 1215.86L439.08 1181.55L439.13 1148.3L439.18 1115.05L439.23 1081.8L439.27 1048.55L439.3 1015.3L439.33 982.05L439.35 947.74z" fill="#802c05"/><path d="M439.05 947.74L439.03 982.05L439 1015.3L438.96 1048.55L438.93 1081.8L438.88 1115.05L438.83 1148.3L438.78 1181.55L438.72 1215.86L441.86 1215.86L441.92 1181.55L441.96 1148.3L442 1115.05L442.04 1081.8L442.08 1048.55L442.11 1015.3L442.13 982.05L442.15 947.74z" fill="#a33904"/><path d="M441.85 947.74L441.83 982.05L441.8 1015.3L441.78 1048.55L441.74 1081.8L441.7 1115.05L441.66 1148.3L441.61 1181.55L441.56 1215.86L444.91 1215.86L444.95 1181.55L444.99 1148.3L445.03 1115.05L445.06 1081.8L445.09 1048.55L445.11 1015.3L445.13 982.05L445.15 947.74z" fill="#cc4c02"/><path d="M444.85 947.74L444.83 982.05L444.81 1015.3L444.79 1048.55L444.76 1081.8L444.73 1115.05L444.69 1148.3L444.65 1181.55L444.6 1215.86L448.46 1215.86L448.5 1181.55L448.53 1148.3L448.55 1115.05L448.58 1081.8L448.6 1048.55L448.62 1015.3L448.64 982.05L448.65 947.74z" fill="#ad3e03"/><path d="M448.35 947.74L448.34 982.05L448.32 1015.3L448.3 1048.55L448.28 1081.8L448.25 1115.05L448.22 1148.3L448.19 1181.55L448.16 1215.86L451 1215.86L451.03 1181.55L451.05 1148.3L451.07 1115.05L451.09 1081.8L451.11 1048.55L451.13 1015.3L451.14 982.05L451.15 947.74z" fill="#d95a09"/><path d="M450.85 947.74L450.84 982.05L450.83 1015.3L450.81 1048.55L450.79 1081.8L450.77 1115.05L450.75 1148.3L450.72 1181.55L450.7 1215.86L454.05 1215.86L454.06 1181.55L454.08 1148.3L454.1 1115.05L454.11 1081.8L454.12 1048.55L454.13 1015.3L454.14 982.05L454.15 947.74z" fill="#bd4503"/><path d="M457.85 947.74L457.85 982.05L457.84 1015.3L457.84 1048.55L457.83 1081.8L457.83 1115.05L457.82 1148.3L457.81 1181.55L457.8 1215.86L460.34 1215.86L460.34 1181.55L460.34 1148.3L460.34 1115.05L460.35 1081.8L460.35 1048.55L460.35 1015.3L460.35 982.05L460.35 947.74z" fill="#802c05"/><path d="M144.85 1172.24L144.85 1181.55L144.86 1214.8L146.26 1214.8L146.36 1181.55L146.38 1172.24z" fill="#fe9929"/><path d="M453.93 1148.3L453.91 1181.55L453.89 1214.8L457.95 1214.8L457.96 1181.55L457.97 1148.3z" fill="#cc4c02"/></g>
<g transform="translate(0 948.8)" clip-path="url(#pbox)"><use href="#ct"/></g>
<text x="82.8" y="1205.8" font-size="21.7" text-anchor="end">-60</text>
<text x="82.8" y="1167.8" font-size="21.7" text-anchor="end">-40</text>
<text x="82.8" y="1129.8" font-size="21.7" text-anchor="end">-20</text>
<text x="82.8" y="1091.8" font-size="21.7" text-anchor="end">0</text>
<text x="82.8" y="1053.8" font-size="21.7" text-anchor="end">20</text>
<text x="82.8" y="1015.8" font-size="21.7" text-anchor="end">40</text>
<text x="82.8" y="977.8" font-size="21.7" text-anchor="end">60</text>
<text x="151.5" y="1254.2" font-size="21.5" text-anchor="middle">100</text>
<text x="246.5" y="1254.2" font-size="21.5" text-anchor="middle">150</text>
<text x="341.5" y="1254.2" font-size="21.5" text-anchor="middle">200</text>
<text x="436.5" y="1254.2" font-size="21.5" text-anchor="middle">250</text>
<text x="531.5" y="1254.2" font-size="21.5" text-anchor="middle">300</text>
<text x="322.6" y="1287.1" font-size="21.2" text-anchor="middle">East Longitude [deg.]</text>
<text transform="translate(29.0 1081.8) rotate(-90)" font-size="21.1" text-anchor="middle">Latitude [deg.]</text>
<rect x="566.4" y="948.8" width="15.4" height="266" fill="url(#cb)" stroke="#555" stroke-width="1"/>
<text x="589.5" y="124.5" font-size="21.2">10.00</text>
<text x="589.5" y="206.1" font-size="21.2">1.00</text>
<text x="589.5" y="294.8" font-size="21.2">0.10</text>
<text x="589.5" y="373.3" font-size="21.2">0.01</text>
<text transform="translate(668.4 240.2) rotate(-90)" font-size="21.2" text-anchor="middle">1-10 Hz B Power [nT<tspan font-size="13" dy="-12.5">2</tspan><tspan dy="12.5">]</tspan></text>
<text x="589.5" y="544.7" font-size="21.2">10<tspan font-size="12.5" dy="-12.5">8</tspan></text>
<text x="589.5" y="670" font-size="21.2">10<tspan font-size="12.5" dy="-12.5">7</tspan></text>
<text x="589.5" y="792.5" font-size="21.2">10<tspan font-size="12.5" dy="-12.5">6</tspan></text>
<text transform="translate(646.2 661) rotate(-90)" font-size="21.2" text-anchor="middle">IMA Ion Flux [cm<tspan font-size="13" dy="-12.5">-2</tspan><tspan dy="12.5"> s</tspan><tspan font-size="13" dy="-12.5">-1</tspan><tspan dy="12.5">]</tspan></text>
<text x="589.5" y="966.9" font-size="21.2">7</text>
<text x="589.5" y="1012" font-size="21.2">6</text>
<text x="589.5" y="1064.7" font-size="21.2">5</text>
<text x="589.5" y="1118.6" font-size="21.2">4</text>
<text x="589.5" y="1171.4" font-size="21.2">3</text>
<text x="589.5" y="1214.2" font-size="21.2">2</text>
<text transform="translate(627.6 1081.8) rotate(-90)" font-size="21.2" text-anchor="middle">|B<tspan font-size="12" dy="3.7">sw</tspan><tspan dy="-3.7">| [nT]</tspan></text>
<defs><filter id="bl" x="-0.1" y="-0.1" width="1.2" height="1.2"><feGaussianBlur stdDeviation="3 6"/></filter><linearGradient id="cb" x1="0" y1="0" x2="0" y2="1"><stop offset="0.000" stop-color="#662506"/><stop offset="0.125" stop-color="#993404"/><stop offset="0.250" stop-color="#cc4c02"/><stop offset="0.375" stop-color="#ec7014"/><stop offset="0.500" stop-color="#fe9929"/><stop offset="0.625" stop-color="#fec44f"/><stop offset="0.750" stop-color="#fee391"/><stop offset="0.875" stop-color="#fff7bc"/><stop offset="1.000" stop-color="#ffffe5"/></linearGradient></defs>
</svg>
</body></html>
